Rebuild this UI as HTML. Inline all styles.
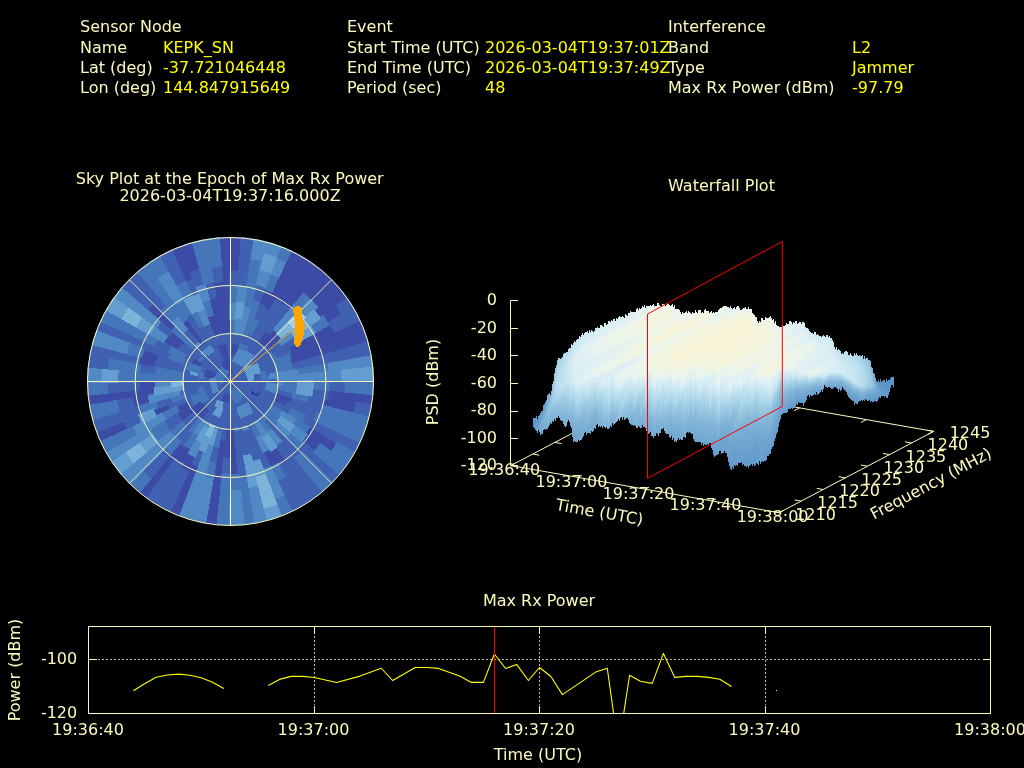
<!DOCTYPE html>
<html lang="en"><head><meta charset="utf-8"><title>Interference Event Report</title>
<style>html,body{margin:0;padding:0;background:#000;overflow:hidden}svg{display:block}text{font-family:"DejaVu Sans","Liberation Sans",sans-serif;white-space:pre}</style></head>
<body>
<svg width="1024" height="768" viewBox="0 0 1024 768">
<rect width="1024" height="768" fill="#000"/>
<text x="80" y="32" fill="#fbfbbe" text-anchor="start" font-size="16">Sensor Node</text>
<text x="80" y="52.5" fill="#fbfbbe" text-anchor="start" font-size="16">Name</text>
<text x="163" y="52.5" fill="#ffff00" text-anchor="start" font-size="16">KEPK_SN</text>
<text x="80" y="72.5" fill="#fbfbbe" text-anchor="start" font-size="16">Lat (deg)</text>
<text x="163" y="72.5" fill="#ffff00" text-anchor="start" font-size="16">-37.721046448</text>
<text x="80" y="92.5" fill="#fbfbbe" text-anchor="start" font-size="16">Lon (deg)</text>
<text x="163" y="92.5" fill="#ffff00" text-anchor="start" font-size="16">144.847915649</text>
<text x="347" y="32" fill="#fbfbbe" text-anchor="start" font-size="16">Event</text>
<text x="347" y="52.5" fill="#fbfbbe" text-anchor="start" font-size="16">Start Time (UTC)</text>
<text x="485" y="52.5" fill="#ffff00" text-anchor="start" font-size="16">2026-03-04T19:37:01Z</text>
<text x="347" y="72.5" fill="#fbfbbe" text-anchor="start" font-size="16">End Time (UTC)</text>
<text x="485" y="72.5" fill="#ffff00" text-anchor="start" font-size="16">2026-03-04T19:37:49Z</text>
<text x="347" y="92.5" fill="#fbfbbe" text-anchor="start" font-size="16">Period (sec)</text>
<text x="485" y="92.5" fill="#ffff00" text-anchor="start" font-size="16">48</text>
<text x="668" y="32" fill="#fbfbbe" text-anchor="start" font-size="16">Interference</text>
<text x="668" y="52.5" fill="#fbfbbe" text-anchor="start" font-size="16">Band</text>
<text x="852" y="52.5" fill="#ffff00" text-anchor="start" font-size="16">L2</text>
<text x="668" y="72.5" fill="#fbfbbe" text-anchor="start" font-size="16">Type</text>
<text x="852" y="72.5" fill="#ffff00" text-anchor="start" font-size="16">Jammer</text>
<text x="668" y="92.5" fill="#fbfbbe" text-anchor="start" font-size="16">Max Rx Power (dBm)</text>
<text x="852" y="92.5" fill="#ffff00" text-anchor="start" font-size="16">-97.79</text>
<text x="229.7" y="183.5" fill="#fbfbbe" text-anchor="middle" font-size="16">Sky Plot at the Epoch of Max Rx Power</text>
<text x="230" y="200.5" fill="#fbfbbe" text-anchor="middle" font-size="16">2026-03-04T19:37:16.000Z</text>
<clipPath id="disc"><ellipse cx="230.5" cy="381.5" rx="143.3" ry="144.3"/></clipPath>
<g shape-rendering="crispEdges" transform="translate(0,-0.5)" clip-path="url(#disc)">
<ellipse cx="230.5" cy="381.5" rx="143.3" ry="144.3" fill="#4060b1"/>
<path fill="#3b4ba6" d="M228.1,231.5L244.2,232.1L240.5,272.8L228.8,272.3ZM262.7,288.2L272.6,292.2L265.4,307.4L257.2,304.1ZM291.6,244.7L305.9,252.1L270.7,312.6L263.1,308.6ZM252.4,341.8L256.6,344.4L246.9,358.1L244.3,356.5ZM302.9,250.4L316.6,259.0L283.6,305.9L275.2,300.6ZM265.5,330.7L270.7,334.8L249.4,359.6L246.9,357.7ZM315.4,258.2L328.1,268.2L291.0,311.2L283.1,305.1ZM273.2,329.6L278.5,334.6L255.1,357.4L252.4,354.9ZM325.6,266.0L337.4,277.0L312.1,301.7L303.1,293.3ZM276.9,333.3L281.8,338.7L269.0,349.4L265.3,345.4ZM334.3,273.9L345.2,285.8L317.9,308.6L309.6,299.5ZM343.8,284.1L353.6,297.0L320.6,319.6L313.5,310.1ZM336.2,306.1L343.7,318.0L329.1,326.2L322.6,315.8ZM329.2,322.0L335.0,333.0L291.0,353.5L287.6,347.0ZM365.0,317.0L371.2,332.0L291.0,360.2L288.4,353.7ZM369.7,328.1L374.7,343.5L291.7,365.4L289.6,358.8ZM379.0,393.7L376.8,409.8L327.1,400.2L328.5,389.6ZM356.4,402.3L353.4,415.9L322.0,407.1L324.3,397.0ZM262.5,389.8L261.5,393.2L245.8,387.3L246.4,385.6ZM293.3,397.7L291.2,404.4L275.6,398.5L277.2,393.5ZM258.0,391.2L256.8,394.1L241.7,386.9L242.2,385.6ZM288.0,401.7L285.5,407.9L270.4,400.6L272.2,396.2ZM262.5,395.9L260.7,399.2L246.3,390.8L247.2,389.0ZM337.9,442.7L330.7,454.0L304.3,434.9L309.6,426.6ZM320.9,443.9L313.7,453.4L301.1,442.5L307.2,434.4ZM287.2,460.7L278.3,466.4L270.1,451.8L277.4,447.1ZM278.3,463.5L269.2,468.2L262.4,452.9L269.8,449.0ZM239.8,475.1L229.7,475.5L230.1,426.7L235.0,426.5ZM231.3,459.0L223.0,458.6L227.7,410.0L230.8,410.2ZM227.0,425.6L222.3,425.0L225.4,408.5L228.3,408.9ZM218.7,531.1L202.7,528.9L219.5,439.9L225.8,440.8ZM181.4,523.2L166.5,517.0L191.6,463.9L200.7,467.6ZM188.9,473.0L179.3,467.9L187.9,453.5L195.8,457.7ZM183.4,464.5L174.8,458.9L184.6,445.3L191.7,449.9ZM145.8,504.9L133.0,495.0L178.1,442.5L184.9,447.9ZM182.5,422.4L178.4,416.9L192.2,407.5L195.2,411.5ZM180.0,418.4L176.3,412.7L190.8,404.4L193.5,408.6ZM179.1,412.4L176.1,406.7L191.3,399.6L193.4,403.8ZM156.3,417.5L152.8,409.2L168.6,403.6L171.3,410.2ZM96.3,446.6L90.1,431.6L123.6,419.6L128.3,431.0ZM134.1,408.7L131.8,398.1L148.3,395.3L150.2,404.2ZM84.2,410.0L82.0,393.9L154.3,387.9L155.5,396.1ZM139.2,390.9L138.8,381.0L155.5,381.1L155.9,389.2ZM138.4,365.5L140.6,355.6L156.7,360.2L154.8,368.3ZM141.1,358.3L144.1,348.8L159.7,354.7L157.2,362.5ZM162.9,343.3L167.4,336.1L181.0,345.9L177.5,351.5ZM168.0,338.5L173.0,332.0L185.7,342.9L181.8,348.0ZM146.4,311.1L154.4,302.4L177.1,326.0L171.4,332.1ZM181.1,323.8L187.6,318.8L206.1,345.8L202.4,348.7ZM165.3,246.6L180.1,240.3L194.1,279.5L183.4,284.1ZM206.7,317.6L213.7,315.3L221.8,347.1L218.1,348.3ZM178.2,241.0L193.6,236.1L202.1,269.6L190.3,273.4ZM207.7,299.8L216.6,297.8L230.5,381.5L230.5,381.5ZM212.4,283.1L223.1,281.7L230.5,381.5L230.5,381.5ZM216.5,232.1L232.6,231.5L230.5,381.5L230.5,381.5Z"/>
<path fill="#4060b1" d="M228.8,271.5L240.6,272.0L239.0,288.7L229.0,288.3ZM241.2,231.8L257.2,233.9L247.3,288.4L237.3,287.1ZM255.6,284.6L265.9,287.9L260.0,303.6L251.4,300.8ZM247.1,333.5L252.1,335.6L245.0,350.8L241.6,349.4ZM257.5,303.3L265.7,306.7L258.6,321.9L252.0,319.2ZM263.4,307.9L271.1,311.9L246.6,354.0L243.5,352.4ZM275.6,299.8L284.1,305.2L256.1,345.1L252.0,342.5ZM283.6,304.4L291.5,310.6L270.2,335.4L265.0,331.4ZM265.9,344.8L269.6,348.9L256.7,359.6L254.2,356.9ZM277.8,340.8L281.9,346.2L255.0,364.7L253.1,362.1ZM297.4,333.8L302.1,341.4L273.6,357.3L270.8,352.8ZM352.1,294.8L360.7,308.5L343.0,318.4L335.6,306.5ZM288.3,346.6L291.7,353.1L276.5,360.1L274.0,355.3ZM358.3,304.4L365.8,318.7L334.3,333.4L328.5,322.4ZM373.8,340.3L377.4,356.1L292.5,370.8L291.0,364.1ZM345.8,380.4L345.2,392.9L328.6,391.3L329.1,380.6ZM329.3,389.6L327.9,400.3L311.5,397.2L312.7,388.3ZM293.7,392.0L292.2,398.8L245.5,385.7L245.9,384.0ZM325.0,397.1L322.8,407.3L306.7,402.8L308.6,394.4ZM377.5,405.8L374.1,421.7L352.7,415.7L355.6,402.2ZM277.9,393.7L276.3,398.8L260.7,392.9L261.8,389.6ZM324.1,405.6L321.0,415.6L290.5,404.1L292.5,397.5ZM273.0,396.4L271.2,401.0L256.1,393.8L257.2,390.9ZM318.0,412.3L314.2,421.6L284.8,407.5L287.2,401.4ZM291.5,408.9L288.2,415.4L260.0,398.8L261.7,395.5ZM366.6,442.6L359.2,457.1L301.2,423.0L305.3,415.1ZM268.8,403.3L266.2,407.3L239.8,388.2L240.4,387.2ZM255.4,398.7L253.4,401.3L240.8,390.4L241.6,389.2ZM345.8,476.5L335.0,488.5L296.9,449.5L303.8,441.9ZM302.4,451.8L294.4,459.2L263.5,421.6L267.6,417.8ZM327.9,495.0L315.2,504.9L275.0,446.3L281.7,441.1ZM317.6,503.2L304.0,512.0L278.0,465.7L286.7,460.0ZM305.9,510.9L291.6,518.4L275.4,482.1L285.9,476.6ZM271.1,467.0L261.7,470.9L245.6,424.9L250.2,423.0ZM260.3,460.0L251.7,462.8L243.4,431.1L248.7,429.4ZM251.2,455.0L243.2,456.9L237.7,424.5L242.3,423.5ZM248.4,478.6L237.9,480.0L234.2,431.4L239.6,430.7ZM230.8,411.0L227.7,410.8L229.3,394.1L230.6,394.2ZM231.5,475.0L221.5,474.5L223.1,457.8L231.3,458.2ZM228.3,409.7L225.3,409.3L228.4,392.8L229.6,392.9ZM225.7,441.6L219.3,440.7L222.4,424.2L227.1,424.8ZM221.7,432.7L216.3,431.5L225.3,399.9L227.3,400.4ZM216.4,464.3L207.6,462.3L212.2,446.1L219.2,447.7ZM200.4,468.4L191.3,464.6L198.4,449.4L205.9,452.5ZM168.4,517.9L154.2,510.4L179.7,467.2L189.2,472.2ZM156.6,511.8L143.0,503.0L175.2,458.2L183.8,463.8ZM184.5,448.5L177.6,443.1L188.5,430.4L194.0,434.7ZM181.3,442.4L175.0,436.7L209.5,402.4L211.9,404.6ZM151.2,479.6L141.1,470.4L164.3,447.4L171.7,454.2ZM186.3,427.4L181.7,422.3L206.7,401.4L209.0,403.8ZM194.6,412.1L191.5,408.0L205.4,398.6L207.4,401.2ZM170.4,432.7L165.2,425.9L179.0,416.5L183.1,421.9ZM192.8,409.0L190.1,404.8L204.6,396.4L206.3,399.2ZM167.1,427.9L162.5,420.7L177.0,412.3L180.6,418.0ZM192.8,404.2L190.5,400.0L205.7,393.0L207.1,395.6ZM170.6,410.6L167.8,403.9L198.5,392.9L199.9,396.3ZM127.6,431.4L122.9,419.9L138.6,414.3L142.7,424.1ZM187.4,398.1L185.8,393.3L202.0,389.0L203.0,392.1ZM157.7,409.5L155.1,401.5L171.2,397.2L173.3,403.5ZM91.3,435.1L86.4,419.6L140.5,405.3L143.6,415.0ZM180.0,395.7L178.8,390.2L195.3,387.4L196.1,391.2ZM118.8,413.0L116.1,400.7L132.6,397.9L134.9,408.5ZM107.6,394.2L107.0,380.8L139.6,381.0L140.0,390.9ZM212.6,381.8L212.7,379.8L230.5,381.5L230.5,381.5ZM218.4,380.6L218.6,379.2L230.5,381.5L230.5,381.5ZM139.2,374.4L140.5,364.5L156.9,367.6L155.8,375.7ZM81.9,370.0L84.0,353.9L110.0,358.8L108.3,372.0ZM216.7,379.1L217.0,377.6L230.5,381.5L230.5,381.5ZM154.0,368.2L155.9,360.0L187.2,369.0L186.1,373.8ZM83.7,356.0L87.3,340.1L141.4,355.8L139.2,365.6ZM202.6,374.3L203.6,371.3L230.5,381.5L230.5,381.5ZM156.5,362.3L159.0,354.4L189.4,365.9L188.0,370.5ZM182.8,364.7L184.9,359.6L230.5,381.5L230.5,381.5ZM89.9,331.8L96.0,316.8L171.3,353.0L168.6,359.6ZM182.7,359.7L185.3,354.6L230.5,381.5L230.5,381.5ZM153.8,346.5L158.0,338.3L172.4,346.9L169.0,353.4ZM176.8,351.1L180.3,345.4L230.5,381.5L230.5,381.5ZM181.1,347.5L185.1,342.4L230.5,381.5L230.5,381.5ZM154.9,329.5L160.9,321.6L173.6,332.5L168.7,339.0ZM207.5,362.3L209.7,359.9L230.5,381.5L230.5,381.5ZM115.9,285.6L126.8,273.7L155.0,303.0L147.0,311.7ZM182.7,334.3L188.0,329.4L198.6,342.4L194.6,346.1ZM124.0,276.5L135.9,265.6L168.4,305.3L160.5,312.5ZM185.1,318.2L192.2,313.6L208.3,342.2L204.2,344.8ZM199.4,328.0L205.4,324.9L230.5,381.5L230.5,381.5ZM155.3,252.0L169.6,244.5L186.2,281.9L175.8,287.3ZM203.9,326.5L210.0,323.9L230.5,381.5L230.5,381.5ZM183.1,283.4L193.9,278.8L199.5,294.6L190.4,298.5ZM217.9,347.5L221.6,346.3L230.5,381.5L230.5,381.5ZM190.0,272.6L201.9,268.8L206.0,285.1L195.8,288.4ZM203.4,284.4L214.0,282.0L216.8,298.6L207.9,300.6ZM209.5,267.4L221.9,265.8L223.2,282.5L212.6,283.9Z"/>
<path fill="#4676ba" d="M229.5,319.5L236.2,319.8L230.5,381.5L230.5,381.5ZM229.0,287.5L239.1,287.9L237.6,304.6L229.3,304.3ZM233.9,334.2L238.9,334.8L230.5,381.5L230.5,381.5ZM232.5,369.2L233.8,369.5L230.5,381.5L230.5,381.5ZM237.7,337.6L242.3,338.6L237.9,354.8L235.0,354.2ZM250.5,258.7L263.6,261.6L250.6,308.6L242.7,306.8ZM235.6,362.0L237.6,362.6L230.5,381.5L230.5,381.5ZM251.6,300.0L260.2,302.8L243.0,348.4L239.4,347.3ZM236.6,363.7L238.5,364.5L230.5,381.5L230.5,381.5ZM252.3,318.4L258.9,321.1L251.8,336.3L246.8,334.3ZM268.0,273.1L279.4,277.8L272.2,293.0L262.5,288.9ZM279.4,239.8L294.4,245.9L285.8,264.0L272.9,258.7ZM237.3,366.2L238.9,367.1L230.5,381.5L230.5,381.5ZM237.0,369.8L238.2,370.5L230.5,381.5L230.5,381.5ZM238.3,370.1L239.5,371.1L230.5,381.5L230.5,381.5ZM252.9,354.3L255.7,356.9L230.5,381.5L230.5,381.5ZM303.6,292.7L312.7,301.1L300.7,312.8L293.0,305.6ZM254.8,356.3L257.4,359.1L230.5,381.5L230.5,381.5ZM241.6,372.0L242.5,373.2L230.5,381.5L230.5,381.5ZM245.5,370.8L246.6,372.5L230.5,381.5L230.5,381.5ZM271.4,352.3L274.3,356.9L259.7,365.1L257.8,362.0ZM323.3,315.3L329.8,325.8L315.3,334.0L309.7,325.0ZM274.7,354.9L277.3,359.8L262.1,366.8L260.3,363.5ZM289.1,353.4L291.8,359.9L261.0,370.8L259.7,367.5ZM290.3,358.6L292.4,365.2L276.3,369.4L274.7,364.5ZM291.8,363.9L293.3,370.7L276.9,373.5L275.7,368.5ZM328.5,363.5L329.9,374.3L297.4,376.7L296.5,369.4ZM266.4,381.2L266.2,385.1L230.5,381.5L230.5,381.5ZM298.1,380.9L297.8,388.2L281.2,386.6L281.4,381.0ZM329.9,380.6L329.4,391.4L312.8,389.7L313.2,380.7ZM379.5,380.1L378.8,396.3L344.4,392.9L345.0,380.4ZM297.7,387.0L296.7,394.3L230.5,381.5L230.5,381.5ZM246.6,384.2L246.3,385.9L230.5,381.5L230.5,381.5ZM309.4,394.5L307.5,403.0L291.4,398.5L292.9,391.8ZM247.1,385.8L246.6,387.6L230.5,381.5L230.5,381.5ZM374.9,418.7L370.0,434.2L320.2,415.4L323.3,405.4ZM243.0,385.9L242.5,387.2L230.5,381.5L230.5,381.5ZM371.2,431.0L365.0,446.0L313.5,421.3L317.3,412.0ZM247.9,389.3L247.0,391.2L230.5,381.5L230.5,381.5ZM306.0,415.4L301.9,423.4L287.5,415.0L290.7,408.6ZM241.1,387.6L240.4,388.7L230.5,381.5L230.5,381.5ZM282.6,411.2L279.1,416.7L265.6,406.9L268.1,402.9ZM310.3,426.9L304.9,435.4L291.4,425.6L295.7,418.7ZM360.2,455.4L351.5,469.1L330.1,453.6L337.2,442.3ZM242.3,389.6L241.4,390.9L230.5,381.5L230.5,381.5ZM281.6,416.8L277.5,422.1L252.8,400.8L254.8,398.2ZM353.4,466.3L343.6,479.2L313.1,452.9L320.3,443.5ZM279.8,422.1L275.2,427.2L230.5,381.5L230.5,381.5ZM304.4,442.4L297.4,450.0L285.7,438.1L291.5,431.7ZM268.2,418.4L264.0,422.2L230.5,381.5L230.5,381.5ZM337.4,486.0L325.6,497.0L293.9,458.6L301.8,451.2ZM271.8,429.6L266.4,433.8L230.5,381.5L230.5,381.5ZM259.3,421.7L254.8,424.6L230.5,381.5L230.5,381.5ZM246.1,408.3L243.2,409.9L230.5,381.5L230.5,381.5ZM262.2,435.9L256.2,439.1L249.3,423.7L253.8,421.4ZM286.3,477.3L275.7,482.8L268.9,467.5L277.9,462.8ZM243.7,409.3L240.6,410.5L230.5,381.5L230.5,381.5ZM294.8,516.9L279.9,523.1L272.0,500.4L284.5,495.2ZM243.3,415.2L239.6,416.4L230.5,381.5L230.5,381.5ZM242.5,424.2L237.9,425.3L230.5,381.5L230.5,381.5ZM239.7,431.5L234.3,432.2L230.5,381.5L230.5,381.5ZM257.7,529.0L241.7,531.1L237.8,479.2L248.2,477.9ZM235.1,427.3L230.1,427.5L230.5,381.5L230.5,381.5ZM241.4,491.0L229.6,491.5L229.7,474.7L239.8,474.3ZM230.6,395.0L229.2,394.9L230.5,381.5L230.5,381.5ZM232.1,531.5L216.0,530.8L221.6,473.7L231.5,474.2ZM229.5,393.7L228.2,393.5L230.5,381.5L230.5,381.5ZM227.1,401.2L225.0,400.7L230.5,381.5L230.5,381.5ZM219.0,448.5L211.9,446.9L216.5,430.7L221.9,431.9ZM213.7,480.0L203.2,477.6L207.8,461.5L216.5,463.5ZM217.7,430.4L212.5,428.7L230.5,381.5L230.5,381.5ZM226.6,392.9L225.4,392.4L230.5,381.5L230.5,381.5ZM222.0,400.3L220.0,399.2L230.5,381.5L230.5,381.5ZM222.8,395.0L221.4,394.1L230.5,381.5L230.5,381.5ZM191.3,450.6L184.1,445.9L193.9,432.3L199.6,436.0ZM193.5,435.4L188.0,431.0L230.5,381.5L230.5,381.5ZM211.4,405.2L208.9,403.0L230.5,381.5L230.5,381.5ZM171.2,454.8L163.7,447.9L175.6,436.1L181.8,441.8ZM136.4,497.9L124.5,486.9L141.7,469.9L151.7,479.0ZM208.5,404.4L206.1,401.9L230.5,381.5L230.5,381.5ZM175.3,438.9L169.4,432.5L182.3,421.8L186.9,426.8ZM206.7,401.7L204.7,399.0L230.5,381.5L230.5,381.5ZM158.2,443.1L152.0,434.9L165.9,425.4L171.0,432.2ZM205.7,399.6L203.9,396.8L230.5,381.5L230.5,381.5ZM154.3,437.3L148.7,428.6L163.2,420.3L167.8,427.4ZM206.4,396.0L205.0,393.3L230.5,381.5L230.5,381.5ZM165.5,420.6L161.7,413.3L176.8,406.3L179.8,412.0ZM102.6,458.5L95.1,444.1L133.5,426.3L138.9,436.6ZM199.2,396.7L197.8,393.2L230.5,381.5L230.5,381.5ZM202.2,392.4L201.2,389.3L230.5,381.5L230.5,381.5ZM172.5,403.8L170.5,397.4L186.6,393.1L188.1,397.8ZM142.8,415.2L139.7,405.5L155.9,401.2L158.4,409.2ZM195.3,391.4L194.5,387.5L230.5,381.5L230.5,381.5ZM87.0,422.0L83.5,406.2L116.9,400.6L119.6,412.8ZM185.9,390.2L185.2,385.3L230.5,381.5L230.5,381.5ZM186.7,386.0L186.4,381.2L230.5,381.5L230.5,381.5ZM82.3,396.8L81.5,380.6L107.8,380.8L108.4,394.1ZM117.3,383.3L117.8,370.9L213.5,379.9L213.4,381.8ZM202.5,379.3L202.9,376.3L219.3,379.4L219.2,380.6ZM155.0,375.7L156.1,367.5L188.1,373.5L187.5,378.2ZM107.5,372.0L109.2,358.7L141.2,364.7L140.0,374.5ZM201.0,376.4L201.7,373.2L217.8,377.8L217.5,379.2ZM187.2,370.3L188.7,365.7L204.3,371.6L203.4,374.5ZM125.7,354.4L129.2,343.1L144.8,349.0L141.9,358.5ZM167.8,359.4L170.6,352.7L185.6,359.9L183.6,364.9ZM168.3,353.1L171.7,346.5L186.0,355.0L183.5,360.0ZM94.8,319.6L102.2,305.2L158.7,338.8L154.5,346.8ZM170.8,331.6L176.5,325.4L210.2,360.4L208.1,362.8ZM216.7,367.9L218.3,366.5L230.5,381.5L230.5,381.5ZM160.0,312.0L167.8,304.7L178.4,317.7L171.9,323.7ZM222.6,372.3L223.6,371.5L230.5,381.5L230.5,381.5ZM133.1,267.9L145.9,258.0L188.0,319.5L181.6,324.5ZM222.3,370.1L223.6,369.3L230.5,381.5L230.5,381.5ZM203.7,344.2L207.9,341.5L216.1,356.1L213.5,357.8ZM175.8,305.2L184.3,299.7L192.6,314.3L185.6,318.9ZM143.3,259.9L156.8,251.1L169.0,272.6L157.7,279.9ZM191.4,314.2L198.9,310.3L205.7,325.7L199.9,328.7ZM175.4,286.6L185.9,281.1L192.7,296.5L183.8,301.1ZM201.1,302.6L209.8,299.8L213.9,316.1L207.0,318.3ZM190.2,237.0L206.0,233.5L214.1,282.8L203.7,285.2ZM203.4,234.0L219.4,231.9L222.0,266.6L209.7,268.2Z"/>
<path fill="#5189c4" d="M229.3,303.5L237.6,303.8L236.1,320.6L229.5,320.3ZM235.0,318.2L241.8,319.1L238.8,335.6L233.8,335.0ZM237.3,286.3L247.5,287.6L244.5,304.1L236.1,303.0ZM235.1,353.4L238.1,354.1L233.6,370.3L232.4,370.0ZM242.8,306.0L250.8,307.8L242.1,339.4L237.5,338.4ZM254.6,233.4L270.4,236.9L263.4,262.3L250.4,259.5ZM239.6,346.5L243.3,347.7L237.3,363.4L235.4,362.7ZM259.7,269.1L271.5,272.9L265.6,288.6L255.4,285.3ZM268.2,236.3L283.5,241.3L276.9,258.7L263.5,254.4ZM241.9,348.6L245.3,350.1L238.2,365.2L236.4,364.5ZM273.2,258.0L286.2,263.3L279.0,278.5L267.7,273.8ZM243.8,351.6L247.0,353.3L238.5,367.8L237.0,367.0ZM244.7,355.8L247.4,357.5L237.7,371.2L236.6,370.5ZM247.4,357.0L249.9,359.0L239.0,371.7L237.9,370.8ZM293.5,305.0L301.3,312.3L277.9,335.1L272.7,330.2ZM310.1,298.9L318.5,308.0L305.7,318.8L298.5,311.0ZM253.7,361.6L255.7,364.2L241.9,373.7L241.0,372.5ZM289.9,330.4L295.0,337.2L281.3,346.6L277.2,341.3ZM258.5,361.6L260.4,364.7L245.9,372.9L244.8,371.3ZM247.4,371.3L248.4,373.2L230.5,381.5L230.5,381.5ZM246.1,374.0L246.8,375.8L230.5,381.5L230.5,381.5ZM245.8,375.6L246.3,377.3L230.5,381.5L230.5,381.5ZM275.5,364.2L277.1,369.2L260.9,373.5L259.9,370.2ZM245.9,377.1L246.3,378.8L230.5,381.5L230.5,381.5ZM276.5,368.3L277.6,373.4L261.2,376.2L260.4,372.9ZM250.4,377.9L250.6,380.0L230.5,381.5L230.5,381.5ZM297.3,369.3L298.2,376.6L265.7,379.0L265.2,375.1ZM377.1,354.7L379.1,370.8L329.1,374.4L327.7,363.7ZM247.1,379.8L247.2,381.6L230.5,381.5L230.5,381.5ZM342.0,370.2L342.5,382.4L262.3,381.7L262.1,378.3ZM282.2,381.0L282.0,386.6L265.4,385.0L265.6,381.2ZM296.4,419.1L292.0,426.0L278.5,416.2L281.9,410.8ZM307.8,434.9L301.7,443.0L289.0,432.0L294.1,425.4ZM292.1,432.2L286.3,438.6L274.6,426.7L279.2,421.6ZM282.2,441.7L275.4,447.0L266.0,433.2L271.3,429.0ZM268.6,434.7L262.7,438.6L254.4,423.9L258.8,421.1ZM254.2,422.1L249.7,424.5L242.8,409.1L245.7,407.6ZM270.3,449.7L262.7,453.6L255.9,438.3L261.8,435.2ZM284.8,495.9L272.2,501.1L261.4,470.2L270.8,466.3ZM249.0,430.1L243.6,431.9L239.4,415.6L243.0,414.4ZM271.1,525.9L255.4,529.4L248.4,487.6L259.6,485.0ZM245.4,530.8L229.3,531.5L229.6,490.7L241.3,490.2ZM205.2,529.4L189.5,525.8L203.4,476.9L213.8,479.2ZM192.5,526.6L177.2,521.6L207.1,442.9L213.9,445.1ZM208.7,429.3L203.7,426.7L220.4,398.5L222.3,399.5ZM195.5,458.4L187.4,454.2L196.0,439.7L202.4,443.2ZM199.2,436.7L193.4,433.0L221.9,393.5L223.2,394.3ZM126.8,489.2L115.8,477.3L170.1,432.0L175.8,438.3ZM109.9,469.7L101.2,456.0L149.4,428.2L154.9,436.8ZM138.2,437.0L132.8,426.7L162.4,413.0L166.2,420.2ZM149.4,404.4L147.5,395.4L179.6,390.0L180.8,395.5ZM155.1,389.3L154.7,381.1L171.3,381.2L171.7,387.6ZM81.5,383.8L82.1,367.6L102.8,369.5L102.2,383.5ZM186.7,378.1L187.3,373.4L203.7,376.5L203.3,379.4ZM86.2,344.1L91.0,328.7L130.0,343.4L126.5,354.6ZM149.1,335.4L154.5,326.8L168.1,336.6L163.6,343.7ZM107.5,296.9L117.3,284.0L161.5,322.1L155.6,329.9ZM194.0,345.5L198.1,341.8L218.8,367.1L217.3,368.5ZM171.3,323.1L177.9,317.1L188.5,330.0L183.2,334.9ZM212.2,360.2L214.6,358.3L224.1,372.2L223.1,372.9ZM213.0,357.1L215.7,355.4L224.0,370.0L222.8,370.7ZM157.2,279.3L168.6,271.9L184.7,300.4L176.3,305.9ZM197.0,312.1L204.6,308.9L210.2,324.7L204.3,327.2ZM195.5,287.6L205.8,284.3L210.0,300.6L201.4,303.3Z"/>
<path fill="#649dcf" d="M236.2,302.2L244.6,303.3L241.7,319.9L235.0,319.0ZM263.7,253.6L277.2,258.0L271.3,273.7L259.5,269.9ZM314.1,309.6L321.3,319.1L307.5,328.6L301.4,320.5ZM310.3,324.6L316.0,333.6L301.4,341.7L296.7,334.3ZM261.0,363.1L262.8,366.5L247.7,373.5L246.7,371.7ZM260.4,367.2L261.8,370.5L246.0,376.0L245.3,374.4ZM260.6,369.9L261.7,373.3L245.5,377.5L245.0,375.9ZM261.2,372.7L262.0,376.1L245.5,378.9L245.2,377.3ZM266.0,375.0L266.5,378.9L249.9,380.1L249.6,378.0ZM262.9,378.2L263.1,381.8L246.4,381.6L246.3,379.9ZM378.7,366.4L379.5,382.7L341.7,382.4L341.2,370.3ZM314.0,380.7L313.6,389.8L297.0,388.1L297.3,380.9ZM313.5,388.3L312.3,397.3L295.9,394.2L296.9,387.0ZM294.7,425.8L289.6,432.6L276.9,421.6L281.0,416.3ZM277.9,447.7L270.5,452.5L262.3,437.9L268.1,434.1ZM250.5,423.7L245.9,425.6L240.4,409.8L243.3,408.5ZM266.0,475.0L255.7,478.3L251.5,462.0L260.0,459.3ZM283.7,521.7L268.4,526.6L263.6,508.5L277.0,504.1ZM259.8,485.8L248.5,488.4L243.0,456.1L251.0,454.3ZM213.7,445.8L206.9,443.6L212.8,427.9L217.9,429.6ZM216.1,423.1L211.7,421.3L225.7,391.6L226.8,392.1ZM205.6,453.3L198.1,450.2L205.2,435.0L211.1,437.4ZM202.1,443.9L195.6,440.4L204.1,426.0L209.1,428.6ZM146.1,453.4L138.9,443.8L152.7,434.4L158.8,442.6ZM116.7,478.4L107.0,465.5L126.4,452.3L134.6,463.2ZM141.9,424.4L137.9,414.6L153.6,408.9L157.0,417.1ZM154.7,396.3L153.5,387.9L186.0,385.2L186.7,390.0ZM101.4,383.5L102.0,369.4L118.6,371.0L118.1,383.2ZM185.4,373.6L186.5,368.8L202.5,373.4L201.8,376.5ZM135.2,327.6L141.5,317.5L155.1,327.3L149.8,335.8ZM100.6,308.0L109.2,294.3L129.3,308.7L122.1,320.1ZM201.8,348.1L205.6,345.2L215.1,359.0L212.8,360.8ZM183.4,300.4L192.4,295.7L199.2,311.1L191.8,314.9ZM190.0,297.7L199.2,293.8L204.9,309.6L197.3,312.9Z"/>
<path fill="#7db4da" d="M288.0,321.9L294.1,328.5L281.2,339.2L276.4,333.9ZM302.0,320.0L308.2,328.1L294.4,337.6L289.3,330.9ZM277.3,504.9L263.8,509.2L255.5,477.5L265.7,474.2ZM210.9,438.2L204.9,435.7L212.1,420.5L216.4,422.3ZM134.0,463.7L125.7,452.8L139.5,443.4L146.7,452.9ZM170.9,387.7L170.5,381.1L187.2,381.2L187.5,386.0ZM121.4,319.8L128.6,308.2L142.2,318.0L135.9,328.0Z"/>
<path fill="#a3cfe8" d="M299.1,310.4L306.3,318.3L293.4,329.0L287.4,322.4Z"/>
<clipPath id="inner"><ellipse cx="230.5" cy="381.5" rx="46.7" ry="47.0"/></clipPath>
<g clip-path="url(#inner)"><rect x="180" y="330" width="100" height="100" fill="#4060b1"/>
<rect x="221.4" y="345.0" width="8.4" height="30.9" fill="#3b4ba6" transform="rotate(-13 225.6 360.5)"/>
<rect x="213.9" y="347.8" width="7.5" height="15.9" fill="#4060b1" transform="rotate(-27 217.6 355.8)"/>
<rect x="200.7" y="348.7" width="13.1" height="7.5" fill="#5189c4" transform="rotate(-39 207.3 352.5)"/>
<rect x="191.4" y="360.9" width="9.4" height="8.4" fill="#3b4ba6" transform="rotate(-65 196.1 365.2)"/>
<rect x="191.4" y="368.4" width="6.6" height="8.4" fill="#649dcf" transform="rotate(-76 194.7 372.7)"/>
<rect x="198.9" y="373.1" width="6.6" height="6.6" fill="#4676ba" transform="rotate(-80 202.2 376.4)"/>
<rect x="206.4" y="369.4" width="7.5" height="11.2" fill="#3b4ba6" transform="rotate(-72 210.1 375.0)"/>
<rect x="213.9" y="371.2" width="15.0" height="9.4" fill="#4676ba" transform="rotate(-59 221.4 375.9)"/>
<rect x="231.7" y="345.0" width="6.6" height="11.2" fill="#3b4ba6" transform="rotate(8 235.0 350.6)"/>
<rect x="234.5" y="350.6" width="16.9" height="15.9" fill="#5189c4" transform="rotate(28 242.9 358.6)"/>
<rect x="245.7" y="365.6" width="15.0" height="15.0" fill="#649dcf" transform="rotate(70 253.2 373.1)"/>
<rect x="253.2" y="356.2" width="22.5" height="9.4" fill="#4060b1" transform="rotate(59 264.5 360.9)"/>
<rect x="260.7" y="371.2" width="9.4" height="9.4" fill="#4676ba" transform="rotate(81 265.4 375.9)"/>
<rect x="231.7" y="382.5" width="15.9" height="5.6" fill="#4060b1" transform="rotate(113 239.7 385.3)"/>
<rect x="251.4" y="387.2" width="9.4" height="8.4" fill="#35409e" transform="rotate(111 256.1 391.4)"/>
<rect x="266.4" y="382.5" width="9.4" height="11.2" fill="#5189c4" transform="rotate(99 271.1 388.1)"/>
<rect x="231.7" y="388.1" width="10.3" height="15.0" fill="#4676ba" transform="rotate(156 236.8 395.6)"/>
<rect x="242.0" y="395.6" width="11.2" height="9.4" fill="#4060b1" transform="rotate(138 247.6 400.3)"/>
<rect x="213.9" y="401.2" width="9.4" height="15.7" fill="#649dcf" transform="rotate(-157 218.6 409.1)"/>
<rect x="237.3" y="405.0" width="14.1" height="12.0" fill="#5189c4" transform="rotate(155 244.3 411.0)"/>
<rect x="223.2" y="393.7" width="6.6" height="9.4" fill="#3b4ba6" transform="rotate(-167 226.5 398.4)"/>
<rect x="206.4" y="382.5" width="15.0" height="6.6" fill="#5189c4" transform="rotate(-104 213.9 385.8)"/>
<rect x="191.4" y="389.1" width="15.0" height="15.9" fill="#4676ba" transform="rotate(-116 198.9 397.0)"/>
<rect x="183.9" y="382.5" width="9.4" height="18.7" fill="#4060b1" transform="rotate(-104 188.6 391.9)"/>
<rect x="207.3" y="405.0" width="6.6" height="12.0" fill="#4060b1" transform="rotate(-146 210.6 411.0)"/>
<rect x="183.9" y="352.5" width="7.5" height="28.1" fill="#4676ba" transform="rotate(-71 187.6 366.6)"/>
<rect x="238.2" y="345.0" width="9.4" height="5.6" fill="#4676ba" transform="rotate(20 242.9 347.8)"/>
<rect x="260.7" y="365.6" width="15.0" height="6.6" fill="#4060b1" transform="rotate(72 268.2 368.9)"/>
<rect x="270.1" y="372.2" width="6.6" height="8.4" fill="#5189c4" transform="rotate(83 273.4 376.4)"/>
<rect x="247.6" y="380.6" width="18.7" height="6.6" fill="#4060b1" transform="rotate(95 257.0 383.9)"/>
<rect x="260.7" y="393.7" width="15.0" height="11.2" fill="#4060b1" transform="rotate(115 268.2 399.4)"/>
<rect x="223.2" y="403.1" width="14.1" height="13.9" fill="#4060b1" transform="rotate(-180 230.3 410.1)"/>
<rect x="193.2" y="405.0" width="14.1" height="12.0" fill="#3b4ba6" transform="rotate(-134 200.3 411.0)"/>
<rect x="205.4" y="356.2" width="8.4" height="13.1" fill="#4060b1" transform="rotate(-48 209.7 362.8)"/>
<rect x="197.9" y="357.2" width="7.5" height="3.7" fill="#4676ba" transform="rotate(-52 201.7 359.1)"/>
</g>
</g>
<g fill="none" stroke="#fbfbbe" stroke-width="1">
<ellipse cx="230.5" cy="381.5" rx="47.67" ry="48.00"/>
<ellipse cx="230.5" cy="381.5" rx="95.33" ry="96.00"/>
<ellipse cx="230.5" cy="381.5" rx="143.00" ry="144.00"/>
<path d="M87.5,381.5H373.5M230.5,237.5V525.5" shape-rendering="crispEdges" stroke-width="1"/>
<path stroke-opacity="0.85" d="M129.4,279.7L331.6,483.3M129.4,483.3L331.6,279.7"/>
</g>
<line x1="230.5" y1="381.5" x2="295" y2="328.6" stroke="#ffa500" stroke-width="1" stroke-opacity="0.9"/>
<g fill="#ffa500" shape-rendering="crispEdges">
<circle cx="297.8" cy="310.6" r="4.6"/>
<circle cx="297.9" cy="313.5" r="4.4"/>
<circle cx="298.3" cy="317" r="4.3"/>
<circle cx="298.9" cy="320.5" r="4.5"/>
<circle cx="299.5" cy="324" r="4.8"/>
<circle cx="299.8" cy="327.5" r="5.0"/>
<circle cx="299.7" cy="331" r="4.9"/>
<circle cx="299.3" cy="334.5" r="4.6"/>
<circle cx="298.6" cy="337.5" r="4.2"/>
<circle cx="298.0" cy="340" r="3.9"/>
<circle cx="297.6" cy="342.3" r="3.6"/>
<circle cx="297.5" cy="343.8" r="3.0"/>
</g>
<text x="721.5" y="190.5" fill="#fbfbbe" text-anchor="middle" font-size="16">Waterfall Plot</text>
<g fill="none" stroke="#fbfbbe" stroke-width="1">
<path d="M510.8,465.6L665.3,384.3L933.6,431.4"/>
<path d="M510.8,465.6l6.5,1.2"/>
<path d="M532.9,454.0l6.5,1.2"/>
<path d="M554.9,442.4l6.5,1.2"/>
<path d="M577.0,430.8l6.5,1.2"/>
<path d="M599.1,419.1l6.5,1.2"/>
<path d="M621.2,407.5l6.5,1.2"/>
<path d="M643.2,395.9l6.5,1.2"/>
<path d="M665.3,384.3l6.5,1.2"/>
<path d="M665.3,384.3l-5.5,2.9"/>
<path d="M732.4,396.1l-5.5,2.9"/>
<path d="M799.5,407.9l-5.5,2.9"/>
<path d="M866.5,419.6l-5.5,2.9"/>
<path d="M933.6,431.4l-5.5,2.9"/>
</g>
<g shape-rendering="crispEdges">
<path fill="#5d94c9" d="M533,418v8h1v-8zM534,418v6h1v-6zM535,418v5h1v-5zM536,416v4h1v-4zM537,419v3h1v-3zM538,416v2h1v-2zM539,415v1h1v-1zM879,382v3h1v-3zM880,379v5h1v-5zM881,382v6h1v-6zM882,381v6h1v-6zM883,380v7h1v-7zM884,380v7h1v-7zM885,382v7h1v-7zM885,391v3h1v-3zM886,379v8h1v-8zM887,381v12h1v-12zM888,380v12h1v-12zM889,380v12h1v-12zM890,378v10h1v-10zM891,377v8h1v-8zM892,377v8h1v-8zM893,377v10h1v-10z"/>
<path fill="#6399cb" d="M533,426v1h1v-1zM534,424v4h1v-4zM535,423v4h1v-4zM536,420v4h1v-4zM537,422v4h1v-4zM538,418v4h1v-4zM539,416v3h1v-3zM540,413v3h1v-3zM541,411v2h1v-2zM542,411v1h1v-1zM728,461v1h1v-1zM729,460v6h1v-6zM730,460v9h1v-9zM731,462v8h1v-8zM732,457v10h1v-10zM733,459v10h1v-10zM734,457v8h1v-8zM735,464v2h1v-2zM736,462v3h1v-3zM737,463v3h1v-3zM738,460v3h1v-3zM742,463v2h1v-2zM743,459v5h1v-5zM744,460v6h1v-6zM745,462v4h1v-4zM746,458v9h1v-9zM747,459v7h1v-7zM748,459v9h1v-9zM749,459v7h1v-7zM750,458v7h1v-7zM751,457v7h1v-7zM752,458v8h1v-8zM753,455v9h1v-9zM754,456v10h1v-10zM755,454v11h1v-11zM756,458v5h1v-5zM757,462v2h1v-2zM758,461v4h1v-4zM760,462v2h1v-2zM761,460v2h1v-2zM762,460v1h1v-1zM763,458v4h1v-4zM764,456v5h1v-5zM765,457v4h1v-4zM766,457v3h1v-3zM767,451v5h1v-5zM768,454v2h1v-2zM769,452v2h1v-2zM770,451v3h1v-3zM772,446v1h1v-1zM773,441v5h1v-5zM774,437v4h1v-4zM777,430v2h1v-2zM778,426v1h1v-1zM793,407v1h1v-1zM794,406v2h1v-2zM795,405v1h1v-1zM797,404v1h1v-1zM803,402v4h1v-4zM804,401v2h1v-2zM805,400v2h1v-2zM806,399v1h1v-1zM848,395v2h1v-2zM849,396v2h1v-2zM850,398v1h1v-1zM851,397v3h1v-3zM852,398v3h1v-3zM853,398v3h1v-3zM854,399v6h1v-6zM855,399v4h1v-4zM856,399v5h1v-5zM857,401v3h1v-3zM867,400v1h1v-1zM868,400v1h1v-1zM869,399v1h1v-1zM870,400v2h1v-2zM871,399v2h1v-2zM872,398v4h1v-4zM873,398v4h1v-4zM874,399v2h1v-2zM875,398v3h1v-3zM876,398v4h1v-4zM877,382v1h1v-1zM877,398v3h1v-3zM878,380v3h1v-3zM878,398v1h1v-1zM879,385v3h1v-3zM880,384v4h1v-4zM880,397v1h1v-1zM881,388v3h1v-3zM881,393v3h1v-3zM882,387v4h1v-4zM882,392v4h1v-4zM883,387v3h1v-3zM883,393v3h1v-3zM884,387v3h1v-3zM884,391v6h1v-6zM885,389v2h1v-2zM885,394v2h1v-2zM886,387v11h1v-11zM887,393v5h1v-5zM888,392v3h1v-3z"/>
<path fill="#699fce" d="M535,427v3h1v-3zM536,424v4h1v-4zM537,426v3h1v-3zM538,422v4h1v-4zM539,419v4h1v-4zM540,416v4h1v-4zM541,413v4h1v-4zM542,412v4h1v-4zM543,405v4h1v-4zM544,404v2h1v-2zM545,402v1h1v-1zM712,449v1h1v-1zM713,448v7h1v-7zM714,450v7h1v-7zM715,450v6h1v-6zM716,452v3h1v-3zM717,452v3h1v-3zM718,452v2h1v-2zM720,448v3h1v-3zM721,446v8h1v-8zM722,445v8h1v-8zM724,446v5h1v-5zM725,449v4h1v-4zM727,454v3h1v-3zM728,454v7h1v-7zM729,452v8h1v-8zM730,453v7h1v-7zM731,453v9h1v-9zM732,449v8h1v-8zM733,450v9h1v-9zM734,448v9h1v-9zM735,451v13h1v-13zM736,449v13h1v-13zM737,452v11h1v-11zM738,450v10h1v-10zM739,454v9h1v-9zM740,453v10h1v-10zM741,453v9h1v-9zM742,453v10h1v-10zM743,448v11h1v-11zM744,452v8h1v-8zM745,452v10h1v-10zM746,448v10h1v-10zM747,448v11h1v-11zM748,449v10h1v-10zM749,451v8h1v-8zM750,451v7h1v-7zM751,450v7h1v-7zM752,450v8h1v-8zM753,447v8h1v-8zM754,446v10h1v-10zM755,444v10h1v-10zM756,444v14h1v-14zM757,446v16h1v-16zM758,447v14h1v-14zM759,451v10h1v-10zM760,453v9h1v-9zM761,452v8h1v-8zM762,451v9h1v-9zM763,449v9h1v-9zM764,447v9h1v-9zM765,448v9h1v-9zM766,447v10h1v-10zM767,443v8h1v-8zM768,444v10h1v-10zM769,443v9h1v-9zM770,441v10h1v-10zM771,443v6h1v-6zM772,438v8h1v-8zM773,433v8h1v-8zM774,429v8h1v-8zM775,431v7h1v-7zM776,428v6h1v-6zM777,423v7h1v-7zM778,420v6h1v-6zM779,416v6h1v-6zM780,413v6h1v-6zM781,414v1h1v-1zM784,411v2h1v-2zM785,410v3h1v-3zM786,408v5h1v-5zM787,409v3h1v-3zM788,407v2h1v-2zM789,406v3h1v-3zM790,404v5h1v-5zM791,403v5h1v-5zM792,405v4h1v-4zM793,403v4h1v-4zM794,402v4h1v-4zM795,401v4h1v-4zM796,400v4h1v-4zM797,400v4h1v-4zM798,400v2h1v-2zM799,400v3h1v-3zM800,400v3h1v-3zM801,399v4h1v-4zM802,400v3h1v-3zM803,399v3h1v-3zM804,398v3h1v-3zM805,397v3h1v-3zM806,396v3h1v-3zM809,396v1h1v-1zM811,395v1h1v-1zM812,393v3h1v-3zM813,394v1h1v-1zM814,393v1h1v-1zM815,393v2h1v-2zM817,392v3h1v-3zM818,393v1h1v-1zM831,388v1h1v-1zM838,389v3h1v-3zM840,389v2h1v-2zM841,388v2h1v-2zM847,393v2h1v-2zM848,393v2h1v-2zM849,393v3h1v-3zM850,395v3h1v-3zM851,395v2h1v-2zM852,396v2h1v-2zM853,396v2h1v-2zM854,397v2h1v-2zM855,396v3h1v-3zM856,397v2h1v-2zM857,398v3h1v-3zM858,400v2h1v-2zM859,400v1h1v-1zM862,400v1h1v-1zM864,399v2h1v-2zM865,398v1h1v-1zM866,398v2h1v-2zM867,397v3h1v-3zM868,397v3h1v-3zM869,397v2h1v-2zM870,397v3h1v-3zM871,397v2h1v-2zM872,396v2h1v-2zM873,395v3h1v-3zM874,396v3h1v-3zM875,396v2h1v-2zM876,381v1h1v-1zM876,395v3h1v-3zM877,383v3h1v-3zM877,392v6h1v-6zM878,383v4h1v-4zM878,396v2h1v-2zM879,388v9h1v-9zM880,388v3h1v-3zM880,394v3h1v-3zM881,391v2h1v-2zM882,391v1h1v-1zM883,390v3h1v-3zM884,390v1h1v-1z"/>
<path fill="#6fa4d0" d="M536,428v3h1v-3zM537,429v4h1v-4zM538,426v4h1v-4zM539,423v5h1v-5zM539,431v1h1v-1zM540,420v3h1v-3zM540,433v2h1v-2zM541,417v3h1v-3zM541,431v3h1v-3zM542,416v3h1v-3zM543,409v3h1v-3zM544,406v4h1v-4zM545,403v4h1v-4zM546,400v2h1v-2zM572,433v4h1v-4zM573,434v8h1v-8zM574,434v7h1v-7zM575,435v7h1v-7zM576,436v6h1v-6zM577,437v5h1v-5zM578,438v2h1v-2zM581,438v2h1v-2zM582,435v3h1v-3zM586,434v1h1v-1zM590,433v1h1v-1zM593,430v1h1v-1zM648,433v1h1v-1zM649,431v2h1v-2zM669,436v1h1v-1zM670,437v1h1v-1zM671,433v3h1v-3zM672,437v3h1v-3zM674,439v3h1v-3zM675,440v1h1v-1zM679,439v1h1v-1zM681,439v1h1v-1zM694,439v2h1v-2zM695,436v6h1v-6zM696,438v4h1v-4zM697,439v3h1v-3zM698,441v1h1v-1zM699,441v1h1v-1zM700,441v1h1v-1zM701,444v1h1v-1zM702,442v1h1v-1zM703,441v5h1v-5zM704,439v5h1v-5zM705,441v4h1v-4zM706,441v4h1v-4zM707,439v5h1v-5zM708,443v2h1v-2zM711,441v7h1v-7zM712,440v9h1v-9zM713,438v10h1v-10zM714,439v11h1v-11zM715,440v10h1v-10zM716,444v8h1v-8zM717,443v9h1v-9zM718,442v10h1v-10zM719,444v7h1v-7zM720,440v8h1v-8zM721,437v9h1v-9zM722,439v6h1v-6zM723,440v13h1v-13zM724,436v10h1v-10zM725,435v14h1v-14zM726,436v17h1v-17zM727,439v15h1v-15zM728,441v13h1v-13zM729,443v9h1v-9zM730,445v8h1v-8zM731,445v8h1v-8zM732,441v8h1v-8zM733,442v8h1v-8zM734,440v8h1v-8zM735,443v8h1v-8zM736,440v9h1v-9zM737,441v11h1v-11zM738,439v11h1v-11zM739,441v13h1v-13zM740,442v11h1v-11zM741,442v11h1v-11zM742,444v9h1v-9zM743,439v9h1v-9zM744,440v12h1v-12zM745,441v11h1v-11zM746,437v11h1v-11zM747,439v9h1v-9zM748,440v9h1v-9zM749,440v11h1v-11zM750,440v11h1v-11zM751,440v10h1v-10zM752,441v9h1v-9zM753,438v9h1v-9zM754,439v7h1v-7zM755,437v7h1v-7zM756,436v8h1v-8zM757,438v8h1v-8zM758,437v10h1v-10zM759,437v14h1v-14zM760,437v16h1v-16zM761,438v14h1v-14zM762,439v12h1v-12zM763,439v10h1v-10zM764,439v8h1v-8zM765,440v8h1v-8zM766,439v8h1v-8zM767,435v8h1v-8zM768,437v7h1v-7zM769,435v8h1v-8zM770,434v7h1v-7zM771,434v9h1v-9zM772,429v9h1v-9zM773,425v8h1v-8zM774,422v7h1v-7zM775,423v8h1v-8zM776,420v8h1v-8zM777,415v8h1v-8zM778,412v8h1v-8zM779,409v7h1v-7zM780,406v7h1v-7zM781,409v5h1v-5zM782,408v6h1v-6zM783,407v6h1v-6zM784,405v6h1v-6zM785,405v5h1v-5zM786,403v5h1v-5zM787,404v5h1v-5zM788,402v5h1v-5zM789,401v5h1v-5zM790,400v4h1v-4zM791,399v4h1v-4zM792,400v5h1v-5zM793,399v4h1v-4zM794,398v4h1v-4zM795,397v4h1v-4zM796,396v4h1v-4zM797,395v5h1v-5zM798,395v5h1v-5zM799,396v4h1v-4zM800,396v4h1v-4zM801,395v4h1v-4zM802,396v4h1v-4zM803,395v4h1v-4zM804,394v4h1v-4zM805,394v3h1v-3zM806,393v3h1v-3zM807,393v3h1v-3zM808,393v2h1v-2zM809,393v3h1v-3zM810,393v2h1v-2zM811,392v3h1v-3zM812,391v2h1v-2zM813,391v3h1v-3zM814,390v3h1v-3zM815,390v3h1v-3zM816,390v2h1v-2zM817,389v3h1v-3zM818,390v3h1v-3zM819,390v3h1v-3zM820,390v2h1v-2zM822,390v2h1v-2zM827,387v1h1v-1zM829,386v1h1v-1zM830,386v2h1v-2zM831,386v2h1v-2zM832,387v2h1v-2zM833,386v2h1v-2zM836,387v1h1v-1zM837,386v3h1v-3zM838,387v2h1v-2zM839,386v3h1v-3zM840,386v3h1v-3zM841,386v2h1v-2zM843,388v1h1v-1zM844,388v2h1v-2zM845,388v3h1v-3zM846,389v3h1v-3zM847,391v2h1v-2zM848,390v3h1v-3zM849,390v3h1v-3zM850,392v3h1v-3zM851,392v3h1v-3zM852,394v2h1v-2zM853,394v2h1v-2zM854,394v3h1v-3zM855,394v2h1v-2zM856,394v3h1v-3zM857,395v3h1v-3zM858,397v3h1v-3zM859,397v3h1v-3zM860,398v3h1v-3zM861,397v3h1v-3zM862,398v2h1v-2zM863,398v2h1v-2zM864,397v2h1v-2zM865,396v2h1v-2zM866,395v3h1v-3zM867,395v2h1v-2zM868,395v2h1v-2zM869,394v3h1v-3zM870,394v3h1v-3zM871,394v3h1v-3zM872,394v2h1v-2zM873,393v2h1v-2zM874,393v3h1v-3zM875,378v2h1v-2zM875,393v3h1v-3zM876,382v4h1v-4zM876,389v6h1v-6zM877,386v6h1v-6zM878,387v9h1v-9zM880,391v3h1v-3z"/>
<path fill="#75aad2" d="M539,428v3h1v-3zM540,423v10h1v-10zM541,420v11h1v-11zM542,419v4h1v-4zM542,428v6h1v-6zM543,412v3h1v-3zM543,424v6h1v-6zM544,410v3h1v-3zM544,428v1h1v-1zM545,407v3h1v-3zM545,425v5h1v-5zM546,402v4h1v-4zM546,427v2h1v-2zM547,395v3h1v-3zM547,427v2h1v-2zM548,394v1h1v-1zM549,424v1h1v-1zM565,426v1h1v-1zM566,425v1h1v-1zM572,426v7h1v-7zM573,428v6h1v-6zM574,429v5h1v-5zM575,430v5h1v-5zM576,430v6h1v-6zM577,429v8h1v-8zM578,429v9h1v-9zM579,432v9h1v-9zM580,431v9h1v-9zM581,430v8h1v-8zM582,427v8h1v-8zM583,432v4h1v-4zM584,429v4h1v-4zM585,430v2h1v-2zM586,428v6h1v-6zM587,430v3h1v-3zM588,427v6h1v-6zM589,429v4h1v-4zM590,425v8h1v-8zM591,425v6h1v-6zM592,427v5h1v-5zM593,422v8h1v-8zM594,427v1h1v-1zM595,423v6h1v-6zM610,425v1h1v-1zM611,425v2h1v-2zM630,423v1h1v-1zM631,423v2h1v-2zM632,424v1h1v-1zM637,427v1h1v-1zM639,424v3h1v-3zM640,426v2h1v-2zM646,428v3h1v-3zM647,427v4h1v-4zM648,428v5h1v-5zM649,426v5h1v-5zM650,429v3h1v-3zM651,428v8h1v-8zM652,435v1h1v-1zM653,434v4h1v-4zM654,434v2h1v-2zM655,432v4h1v-4zM656,432v1h1v-1zM658,433v3h1v-3zM659,432v1h1v-1zM665,429v4h1v-4zM666,432v2h1v-2zM667,429v5h1v-5zM668,429v5h1v-5zM669,428v8h1v-8zM670,431v6h1v-6zM671,427v6h1v-6zM672,429v8h1v-8zM673,433v5h1v-5zM674,430v9h1v-9zM675,433v7h1v-7zM676,434v8h1v-8zM677,432v8h1v-8zM678,430v8h1v-8zM679,431v8h1v-8zM680,434v5h1v-5zM681,433v6h1v-6zM682,435v5h1v-5zM683,434v3h1v-3zM684,432v5h1v-5zM685,434v4h1v-4zM686,431v2h1v-2zM687,430v2h1v-2zM688,431v2h1v-2zM689,428v4h1v-4zM690,426v7h1v-7zM691,430v4h1v-4zM692,433v1h1v-1zM693,434v5h1v-5zM694,432v7h1v-7zM695,429v7h1v-7zM696,431v7h1v-7zM697,432v7h1v-7zM698,433v8h1v-8zM699,433v8h1v-8zM700,434v7h1v-7zM701,435v9h1v-9zM702,433v9h1v-9zM703,432v9h1v-9zM704,433v6h1v-6zM705,435v6h1v-6zM706,434v7h1v-7zM707,431v8h1v-8zM708,435v8h1v-8zM709,436v7h1v-7zM710,438v5h1v-5zM711,435v6h1v-6zM712,435v5h1v-5zM713,433v5h1v-5zM714,433v6h1v-6zM715,433v7h1v-7zM716,436v8h1v-8zM717,437v6h1v-6zM718,437v5h1v-5zM719,437v7h1v-7zM720,433v7h1v-7zM721,430v7h1v-7zM722,431v8h1v-8zM723,435v5h1v-5zM724,431v5h1v-5zM725,431v4h1v-4zM726,430v6h1v-6zM727,430v9h1v-9zM728,430v11h1v-11zM729,429v14h1v-14zM730,433v12h1v-12zM731,439v6h1v-6zM732,434v7h1v-7zM733,436v6h1v-6zM734,434v6h1v-6zM735,437v6h1v-6zM736,434v6h1v-6zM737,436v5h1v-5zM738,433v6h1v-6zM739,436v5h1v-5zM740,435v7h1v-7zM741,433v9h1v-9zM742,434v10h1v-10zM743,429v10h1v-10zM744,432v8h1v-8zM745,435v6h1v-6zM746,430v7h1v-7zM747,431v8h1v-8zM748,431v9h1v-9zM749,434v6h1v-6zM750,434v6h1v-6zM751,432v8h1v-8zM752,433v8h1v-8zM753,430v8h1v-8zM754,431v8h1v-8zM755,429v8h1v-8zM756,429v7h1v-7zM757,432v6h1v-6zM758,430v7h1v-7zM759,432v5h1v-5zM760,432v5h1v-5zM761,430v8h1v-8zM762,430v9h1v-9zM763,429v10h1v-10zM764,428v11h1v-11zM765,430v10h1v-10zM766,434v5h1v-5zM767,428v7h1v-7zM768,431v6h1v-6zM769,430v5h1v-5zM770,429v5h1v-5zM771,429v5h1v-5zM772,425v4h1v-4zM773,421v4h1v-4zM774,417v5h1v-5zM775,418v5h1v-5zM776,415v5h1v-5zM777,411v4h1v-4zM778,408v4h1v-4zM779,405v4h1v-4zM780,402v4h1v-4zM781,404v5h1v-5zM782,404v4h1v-4zM783,404v3h1v-3zM784,401v4h1v-4zM785,401v4h1v-4zM786,399v4h1v-4zM787,400v4h1v-4zM788,398v4h1v-4zM789,398v3h1v-3zM790,397v3h1v-3zM791,396v3h1v-3zM792,397v3h1v-3zM793,395v4h1v-4zM794,395v3h1v-3zM795,394v3h1v-3zM796,393v3h1v-3zM797,393v2h1v-2zM798,393v2h1v-2zM799,393v3h1v-3zM800,393v3h1v-3zM801,392v3h1v-3zM802,393v3h1v-3zM803,392v3h1v-3zM804,391v3h1v-3zM805,391v3h1v-3zM806,391v2h1v-2zM807,390v3h1v-3zM808,391v2h1v-2zM809,391v2h1v-2zM810,391v2h1v-2zM811,390v2h1v-2zM812,389v2h1v-2zM813,389v2h1v-2zM814,388v2h1v-2zM815,388v2h1v-2zM816,388v2h1v-2zM817,387v2h1v-2zM818,388v2h1v-2zM819,388v2h1v-2zM820,388v2h1v-2zM821,388v2h1v-2zM822,388v2h1v-2zM823,387v2h1v-2zM825,385v2h1v-2zM826,385v2h1v-2zM827,385v2h1v-2zM828,385v2h1v-2zM829,384v2h1v-2zM830,385v1h1v-1zM831,384v2h1v-2zM832,385v2h1v-2zM833,384v2h1v-2zM834,385v2h1v-2zM835,385v2h1v-2zM836,385v2h1v-2zM837,384v2h1v-2zM838,385v2h1v-2zM839,384v2h1v-2zM840,384v2h1v-2zM841,385v1h1v-1zM842,385v2h1v-2zM843,386v2h1v-2zM844,387v1h1v-1zM845,386v2h1v-2zM846,387v2h1v-2zM847,389v2h1v-2zM848,389v1h1v-1zM849,389v1h1v-1zM850,390v2h1v-2zM851,390v2h1v-2zM852,392v2h1v-2zM853,392v2h1v-2zM854,393v1h1v-1zM855,392v2h1v-2zM856,393v1h1v-1zM857,393v2h1v-2zM858,395v2h1v-2zM859,395v2h1v-2zM860,396v2h1v-2zM861,395v2h1v-2zM862,396v2h1v-2zM863,396v2h1v-2zM864,396v1h1v-1zM865,394v2h1v-2zM866,393v2h1v-2zM867,393v2h1v-2zM868,393v2h1v-2zM869,392v2h1v-2zM870,393v1h1v-1zM871,392v2h1v-2zM872,391v3h1v-3zM873,391v2h1v-2zM874,374v3h1v-3zM874,391v2h1v-2zM875,380v3h1v-3zM875,388v5h1v-5zM876,386v3h1v-3z"/>
<path fill="#7cafd5" d="M542,423v5h1v-5zM543,415v9h1v-9zM544,413v4h1v-4zM544,421v7h1v-7zM545,410v5h1v-5zM545,418v7h1v-7zM546,406v3h1v-3zM546,422v5h1v-5zM547,398v4h1v-4zM547,422v5h1v-5zM548,395v3h1v-3zM548,423v4h1v-4zM549,393v2h1v-2zM549,419v5h1v-5zM550,420v3h1v-3zM551,419v5h1v-5zM552,416v5h1v-5zM553,418v4h1v-4zM555,417v4h1v-4zM556,416v2h1v-2zM560,418v2h1v-2zM562,417v4h1v-4zM563,422v2h1v-2zM564,420v6h1v-6zM565,419v7h1v-7zM566,421v4h1v-4zM567,419v3h1v-3zM568,417v3h1v-3zM569,421v1h1v-1zM570,422v4h1v-4zM571,422v6h1v-6zM572,420v6h1v-6zM573,421v7h1v-7zM574,423v6h1v-6zM575,424v6h1v-6zM576,425v5h1v-5zM577,424v5h1v-5zM578,423v6h1v-6zM579,425v7h1v-7zM580,423v8h1v-8zM581,421v9h1v-9zM582,419v8h1v-8zM583,423v9h1v-9zM584,422v7h1v-7zM585,425v5h1v-5zM586,423v5h1v-5zM587,424v6h1v-6zM588,422v5h1v-5zM589,424v5h1v-5zM590,419v6h1v-6zM591,419v6h1v-6zM592,419v8h1v-8zM593,415v7h1v-7zM594,419v8h1v-8zM595,415v8h1v-8zM596,418v7h1v-7zM597,421v3h1v-3zM599,423v3h1v-3zM600,423v4h1v-4zM601,425v1h1v-1zM602,426v2h1v-2zM605,427v1h1v-1zM606,424v3h1v-3zM607,425v4h1v-4zM608,427v2h1v-2zM609,425v3h1v-3zM610,421v4h1v-4zM611,419v6h1v-6zM612,419v4h1v-4zM613,418v7h1v-7zM629,422v1h1v-1zM630,419v4h1v-4zM631,418v5h1v-5zM632,417v7h1v-7zM633,418v8h1v-8zM634,423v2h1v-2zM635,423v3h1v-3zM636,422v6h1v-6zM637,421v6h1v-6zM638,422v4h1v-4zM639,420v4h1v-4zM640,420v6h1v-6zM641,421v7h1v-7zM642,417v8h1v-8zM643,417v10h1v-10zM645,425v3h1v-3zM646,422v6h1v-6zM647,421v6h1v-6zM648,421v7h1v-7zM649,419v7h1v-7zM650,423v6h1v-6zM651,421v7h1v-7zM652,425v10h1v-10zM653,429v5h1v-5zM654,429v5h1v-5zM655,427v5h1v-5zM656,425v7h1v-7zM657,425v9h1v-9zM658,425v8h1v-8zM659,425v7h1v-7zM660,427v6h1v-6zM661,427v2h1v-2zM662,422v7h1v-7zM663,424v4h1v-4zM664,425v6h1v-6zM665,423v6h1v-6zM666,425v7h1v-7zM667,422v7h1v-7zM668,425v4h1v-4zM669,423v5h1v-5zM670,422v9h1v-9zM671,419v8h1v-8zM672,424v5h1v-5zM673,424v9h1v-9zM674,422v8h1v-8zM675,425v8h1v-8zM676,426v8h1v-8zM677,425v7h1v-7zM678,424v6h1v-6zM679,423v8h1v-8zM680,426v8h1v-8zM681,425v8h1v-8zM682,428v7h1v-7zM683,428v6h1v-6zM684,426v6h1v-6zM685,429v5h1v-5zM686,425v6h1v-6zM687,423v7h1v-7zM688,425v6h1v-6zM689,423v5h1v-5zM690,421v5h1v-5zM691,421v9h1v-9zM692,423v10h1v-10zM693,425v9h1v-9zM694,424v8h1v-8zM695,421v8h1v-8zM696,425v6h1v-6zM697,424v8h1v-8zM698,426v7h1v-7zM699,426v7h1v-7zM700,426v8h1v-8zM701,428v7h1v-7zM702,427v6h1v-6zM703,426v6h1v-6zM704,425v8h1v-8zM705,427v8h1v-8zM706,428v6h1v-6zM707,425v6h1v-6zM708,427v8h1v-8zM709,428v8h1v-8zM710,431v7h1v-7zM711,428v7h1v-7zM712,427v8h1v-8zM713,425v8h1v-8zM714,427v6h1v-6zM715,428v5h1v-5zM716,430v6h1v-6zM717,430v7h1v-7zM718,429v8h1v-8zM719,432v5h1v-5zM720,427v6h1v-6zM721,425v5h1v-5zM722,425v6h1v-6zM723,427v8h1v-8zM724,422v9h1v-9zM725,424v7h1v-7zM726,426v4h1v-4zM727,425v5h1v-5zM728,424v6h1v-6zM729,423v6h1v-6zM730,423v10h1v-10zM731,426v13h1v-13zM732,421v13h1v-13zM733,428v8h1v-8zM734,426v8h1v-8zM735,430v7h1v-7zM736,428v6h1v-6zM737,429v7h1v-7zM738,426v7h1v-7zM739,430v6h1v-6zM740,429v6h1v-6zM741,428v5h1v-5zM742,428v6h1v-6zM743,424v5h1v-5zM744,424v8h1v-8zM745,426v9h1v-9zM746,422v8h1v-8zM747,424v7h1v-7zM748,424v7h1v-7zM749,425v9h1v-9zM750,425v9h1v-9zM751,427v5h1v-5zM752,427v6h1v-6zM753,424v6h1v-6zM754,423v8h1v-8zM755,421v8h1v-8zM756,421v8h1v-8zM757,425v7h1v-7zM758,424v6h1v-6zM759,425v7h1v-7zM760,426v6h1v-6zM761,425v5h1v-5zM762,425v5h1v-5zM763,423v6h1v-6zM764,422v6h1v-6zM765,423v7h1v-7zM766,423v11h1v-11zM767,419v9h1v-9zM768,423v8h1v-8zM769,423v7h1v-7zM770,423v6h1v-6zM771,424v5h1v-5zM772,420v5h1v-5zM773,415v6h1v-6zM774,411v6h1v-6zM775,414v4h1v-4zM776,411v4h1v-4zM777,407v4h1v-4zM778,404v4h1v-4zM779,401v4h1v-4zM780,398v4h1v-4zM781,400v4h1v-4zM782,399v5h1v-5zM783,400v4h1v-4zM784,398v3h1v-3zM785,397v4h1v-4zM786,395v4h1v-4zM787,396v4h1v-4zM788,395v3h1v-3zM789,394v4h1v-4zM790,393v4h1v-4zM791,392v4h1v-4zM792,394v3h1v-3zM793,392v3h1v-3zM794,391v4h1v-4zM795,391v3h1v-3zM796,391v2h1v-2zM797,390v3h1v-3zM798,390v3h1v-3zM799,390v3h1v-3zM800,390v3h1v-3zM801,389v3h1v-3zM802,391v2h1v-2zM803,390v2h1v-2zM804,389v2h1v-2zM805,389v2h1v-2zM806,388v3h1v-3zM807,388v2h1v-2zM808,389v2h1v-2zM809,388v3h1v-3zM810,389v2h1v-2zM811,389v1h1v-1zM812,387v2h1v-2zM813,387v2h1v-2zM814,386v2h1v-2zM815,386v2h1v-2zM816,386v2h1v-2zM817,385v2h1v-2zM818,386v2h1v-2zM819,386v2h1v-2zM820,386v2h1v-2zM821,386v2h1v-2zM822,387v1h1v-1zM823,386v1h1v-1zM825,384v1h1v-1zM826,384v1h1v-1zM827,383v2h1v-2zM828,383v2h1v-2zM829,383v1h1v-1zM830,383v2h1v-2zM831,382v2h1v-2zM832,383v2h1v-2zM833,382v2h1v-2zM834,383v2h1v-2zM835,383v2h1v-2zM836,383v2h1v-2zM837,383v1h1v-1zM838,383v2h1v-2zM839,383v1h1v-1zM840,382v2h1v-2zM841,383v2h1v-2zM842,384v1h1v-1zM843,384v2h1v-2zM844,385v2h1v-2zM845,385v1h1v-1zM846,385v2h1v-2zM847,387v2h1v-2zM848,387v2h1v-2zM849,387v2h1v-2zM850,389v1h1v-1zM851,388v2h1v-2zM852,390v2h1v-2zM853,390v2h1v-2zM854,391v2h1v-2zM855,391v1h1v-1zM856,391v2h1v-2zM857,391v2h1v-2zM858,393v2h1v-2zM859,393v2h1v-2zM860,394v2h1v-2zM861,393v2h1v-2zM862,394v2h1v-2zM863,394v2h1v-2zM864,394v2h1v-2zM865,393v1h1v-1zM866,392v1h1v-1zM867,391v2h1v-2zM868,391v2h1v-2zM869,391v1h1v-1zM870,391v2h1v-2zM871,390v2h1v-2zM872,368v1h1v-1zM872,389v2h1v-2zM873,373v3h1v-3zM873,389v2h1v-2zM874,377v3h1v-3zM874,390v1h1v-1zM875,383v5h1v-5z"/>
<path fill="#82b5d8" d="M544,417v4h1v-4zM545,415v3h1v-3zM546,409v3h1v-3zM546,415v7h1v-7zM547,402v3h1v-3zM547,416v6h1v-6zM548,398v3h1v-3zM548,420v3h1v-3zM549,395v3h1v-3zM549,415v4h1v-4zM550,395v3h1v-3zM550,416v4h1v-4zM551,415v4h1v-4zM552,413v3h1v-3zM553,414v4h1v-4zM554,414v5h1v-5zM555,412v5h1v-5zM556,411v5h1v-5zM557,413v5h1v-5zM558,415v1h1v-1zM559,413v5h1v-5zM560,413v5h1v-5zM561,416v5h1v-5zM562,413v4h1v-4zM563,414v8h1v-8zM564,416v4h1v-4zM565,415v4h1v-4zM566,415v6h1v-6zM567,413v6h1v-6zM568,414v3h1v-3zM569,415v6h1v-6zM570,415v7h1v-7zM571,416v6h1v-6zM572,414v6h1v-6zM573,416v5h1v-5zM574,417v6h1v-6zM575,419v5h1v-5zM576,420v5h1v-5zM577,419v5h1v-5zM578,419v4h1v-4zM579,420v5h1v-5zM580,419v4h1v-4zM581,417v4h1v-4zM582,414v5h1v-5zM583,417v6h1v-6zM584,415v7h1v-7zM585,417v8h1v-8zM586,419v4h1v-4zM587,420v4h1v-4zM588,417v5h1v-5zM589,419v5h1v-5zM590,415v4h1v-4zM591,415v4h1v-4zM592,415v4h1v-4zM593,411v4h1v-4zM594,413v6h1v-6zM595,410v5h1v-5zM596,412v6h1v-6zM597,414v7h1v-7zM598,419v8h1v-8zM599,415v8h1v-8zM600,414v9h1v-9zM601,420v5h1v-5zM602,419v7h1v-7zM603,422v4h1v-4zM604,422v5h1v-5zM605,422v5h1v-5zM606,419v5h1v-5zM607,421v4h1v-4zM608,423v4h1v-4zM609,421v4h1v-4zM610,417v4h1v-4zM611,416v3h1v-3zM612,415v4h1v-4zM613,413v5h1v-5zM614,417v7h1v-7zM615,416v7h1v-7zM616,421v1h1v-1zM622,419v1h1v-1zM624,416v4h1v-4zM626,417v1h1v-1zM627,415v3h1v-3zM628,417v3h1v-3zM629,418v4h1v-4zM630,415v4h1v-4zM631,415v3h1v-3zM632,414v3h1v-3zM633,414v4h1v-4zM634,415v8h1v-8zM635,415v8h1v-8zM636,413v9h1v-9zM637,412v9h1v-9zM638,417v5h1v-5zM639,415v5h1v-5zM640,417v3h1v-3zM641,417v4h1v-4zM642,413v4h1v-4zM643,413v4h1v-4zM644,419v8h1v-8zM645,418v7h1v-7zM646,416v6h1v-6zM647,415v6h1v-6zM648,416v5h1v-5zM649,414v5h1v-5zM650,420v3h1v-3zM651,418v3h1v-3zM652,419v6h1v-6zM653,419v10h1v-10zM654,424v5h1v-5zM655,422v5h1v-5zM656,420v5h1v-5zM657,421v4h1v-4zM658,419v6h1v-6zM659,419v6h1v-6zM660,422v5h1v-5zM661,422v5h1v-5zM662,418v4h1v-4zM663,419v5h1v-5zM664,419v6h1v-6zM665,418v5h1v-5zM666,419v6h1v-6zM667,416v6h1v-6zM668,418v7h1v-7zM669,417v6h1v-6zM670,419v3h1v-3zM671,416v3h1v-3zM672,417v7h1v-7zM673,421v3h1v-3zM674,418v4h1v-4zM675,418v7h1v-7zM676,421v5h1v-5zM677,419v6h1v-6zM678,417v7h1v-7zM679,418v5h1v-5zM680,420v6h1v-6zM681,419v6h1v-6zM682,422v6h1v-6zM683,422v6h1v-6zM684,421v5h1v-5zM685,425v4h1v-4zM686,421v4h1v-4zM687,418v5h1v-5zM688,420v5h1v-5zM689,418v5h1v-5zM690,415v6h1v-6zM691,418v3h1v-3zM692,418v5h1v-5zM693,417v8h1v-8zM694,416v8h1v-8zM695,413v8h1v-8zM696,418v7h1v-7zM697,420v4h1v-4zM698,420v6h1v-6zM699,420v6h1v-6zM700,421v5h1v-5zM701,422v6h1v-6zM702,420v7h1v-7zM703,420v6h1v-6zM704,420v5h1v-5zM705,422v5h1v-5zM706,421v7h1v-7zM707,418v7h1v-7zM708,422v5h1v-5zM709,422v6h1v-6zM710,424v7h1v-7zM711,421v7h1v-7zM712,422v5h1v-5zM713,420v5h1v-5zM714,421v6h1v-6zM715,423v5h1v-5zM716,425v5h1v-5zM717,425v5h1v-5zM718,424v5h1v-5zM719,426v6h1v-6zM720,422v5h1v-5zM721,419v6h1v-6zM722,420v5h1v-5zM723,422v5h1v-5zM724,418v4h1v-4zM725,418v6h1v-6zM726,419v7h1v-7zM727,421v4h1v-4zM728,421v3h1v-3zM729,419v4h1v-4zM730,419v4h1v-4zM731,419v7h1v-7zM732,415v6h1v-6zM733,417v11h1v-11zM734,415v11h1v-11zM735,426v4h1v-4zM736,423v5h1v-5zM737,424v5h1v-5zM738,421v5h1v-5zM739,425v5h1v-5zM740,424v5h1v-5zM741,424v4h1v-4zM742,424v4h1v-4zM743,420v4h1v-4zM744,420v4h1v-4zM745,421v5h1v-5zM746,417v5h1v-5zM747,418v6h1v-6zM748,418v6h1v-6zM749,420v5h1v-5zM750,420v5h1v-5zM751,419v8h1v-8zM752,420v7h1v-7zM753,418v6h1v-6zM754,419v4h1v-4zM755,417v4h1v-4zM756,415v6h1v-6zM757,419v6h1v-6zM758,418v6h1v-6zM759,420v5h1v-5zM760,421v5h1v-5zM761,420v5h1v-5zM762,421v4h1v-4zM763,420v3h1v-3zM764,418v4h1v-4zM765,419v4h1v-4zM766,419v4h1v-4zM767,415v4h1v-4zM768,417v6h1v-6zM769,416v7h1v-7zM770,416v7h1v-7zM771,419v5h1v-5zM772,414v6h1v-6zM773,410v5h1v-5zM774,406v5h1v-5zM775,410v4h1v-4zM776,407v4h1v-4zM777,402v5h1v-5zM778,399v5h1v-5zM779,396v5h1v-5zM780,393v5h1v-5zM781,397v3h1v-3zM782,397v2h1v-2zM783,397v3h1v-3zM784,395v3h1v-3zM785,395v2h1v-2zM786,392v3h1v-3zM787,393v3h1v-3zM788,392v3h1v-3zM789,392v2h1v-2zM790,391v2h1v-2zM791,390v2h1v-2zM792,391v3h1v-3zM793,390v2h1v-2zM794,389v2h1v-2zM795,388v3h1v-3zM796,389v2h1v-2zM797,388v2h1v-2zM798,388v2h1v-2zM799,388v2h1v-2zM800,388v2h1v-2zM801,387v2h1v-2zM802,389v2h1v-2zM803,388v2h1v-2zM804,387v2h1v-2zM805,387v2h1v-2zM806,387v1h1v-1zM807,387v1h1v-1zM808,387v2h1v-2zM809,387v1h1v-1zM810,387v2h1v-2zM811,387v2h1v-2zM812,386v1h1v-1zM813,386v1h1v-1zM814,385v1h1v-1zM815,385v1h1v-1zM816,385v1h1v-1zM817,384v1h1v-1zM818,384v2h1v-2zM819,385v1h1v-1zM820,384v2h1v-2zM821,385v1h1v-1zM822,385v2h1v-2zM823,384v2h1v-2zM824,384v1h1v-1zM825,383v1h1v-1zM826,382v2h1v-2zM827,382v1h1v-1zM828,381v2h1v-2zM829,381v2h1v-2zM830,381v2h1v-2zM831,381v1h1v-1zM832,382v1h1v-1zM833,381v1h1v-1zM834,381v2h1v-2zM835,382v1h1v-1zM836,381v2h1v-2zM837,381v2h1v-2zM838,382v1h1v-1zM839,381v2h1v-2zM840,381v1h1v-1zM841,381v2h1v-2zM842,382v2h1v-2zM843,383v1h1v-1zM844,384v1h1v-1zM845,384v1h1v-1zM846,384v1h1v-1zM847,385v2h1v-2zM848,385v2h1v-2zM849,386v1h1v-1zM850,387v2h1v-2zM851,387v1h1v-1zM852,389v1h1v-1zM853,389v1h1v-1zM854,390v1h1v-1zM855,389v2h1v-2zM856,390v1h1v-1zM857,390v1h1v-1zM858,391v2h1v-2zM859,392v1h1v-1zM860,393v1h1v-1zM861,392v1h1v-1zM862,393v1h1v-1zM863,393v1h1v-1zM864,393v1h1v-1zM865,391v2h1v-2zM866,391v1h1v-1zM867,390v1h1v-1zM868,390v1h1v-1zM869,390v1h1v-1zM870,390v1h1v-1zM871,367v2h1v-2zM871,389v1h1v-1zM872,369v3h1v-3zM872,388v1h1v-1zM873,376v4h1v-4zM873,388v1h1v-1zM874,380v3h1v-3zM874,389v1h1v-1z"/>
<path fill="#89bada" d="M546,412v3h1v-3zM547,405v3h1v-3zM547,412v4h1v-4zM548,401v4h1v-4zM548,417v3h1v-3zM549,398v3h1v-3zM549,412v3h1v-3zM550,398v3h1v-3zM550,413v3h1v-3zM551,391v4h1v-4zM551,412v3h1v-3zM552,384v1h1v-1zM552,410v3h1v-3zM553,412v2h1v-2zM554,412v2h1v-2zM555,409v3h1v-3zM556,408v3h1v-3zM557,410v3h1v-3zM558,412v3h1v-3zM559,409v4h1v-4zM560,409v4h1v-4zM561,413v3h1v-3zM562,409v4h1v-4zM563,412v2h1v-2zM564,411v5h1v-5zM565,410v5h1v-5zM566,413v2h1v-2zM567,411v2h1v-2zM568,411v3h1v-3zM569,413v2h1v-2zM570,412v3h1v-3zM571,412v4h1v-4zM572,410v4h1v-4zM573,414v2h1v-2zM574,415v2h1v-2zM575,416v3h1v-3zM576,417v3h1v-3zM577,417v2h1v-2zM578,416v3h1v-3zM579,418v2h1v-2zM580,416v3h1v-3zM581,414v3h1v-3zM582,412v2h1v-2zM583,414v3h1v-3zM584,412v3h1v-3zM585,414v3h1v-3zM586,413v6h1v-6zM587,417v3h1v-3zM588,414v3h1v-3zM589,417v2h1v-2zM590,412v3h1v-3zM591,412v3h1v-3zM592,413v2h1v-2zM593,408v3h1v-3zM594,411v2h1v-2zM595,407v3h1v-3zM596,409v3h1v-3zM597,411v3h1v-3zM598,416v3h1v-3zM599,412v3h1v-3zM600,412v2h1v-2zM601,417v3h1v-3zM602,417v2h1v-2zM603,419v3h1v-3zM604,420v2h1v-2zM605,419v3h1v-3zM606,417v2h1v-2zM607,418v3h1v-3zM608,420v3h1v-3zM609,418v3h1v-3zM610,414v3h1v-3zM611,412v4h1v-4zM612,414v1h1v-1zM613,411v2h1v-2zM614,413v4h1v-4zM615,413v3h1v-3zM616,414v7h1v-7zM617,419v2h1v-2zM619,419v2h1v-2zM620,417v1h1v-1zM622,417v2h1v-2zM623,415v2h1v-2zM624,413v3h1v-3zM625,417v2h1v-2zM626,414v3h1v-3zM627,412v3h1v-3zM628,413v4h1v-4zM629,414v4h1v-4zM630,411v4h1v-4zM631,413v2h1v-2zM632,412v2h1v-2zM633,412v2h1v-2zM634,412v3h1v-3zM635,411v4h1v-4zM636,409v4h1v-4zM637,408v4h1v-4zM638,410v7h1v-7zM639,408v7h1v-7zM640,414v3h1v-3zM641,415v2h1v-2zM642,411v2h1v-2zM643,410v3h1v-3zM644,414v5h1v-5zM645,413v5h1v-5zM646,411v5h1v-5zM647,410v5h1v-5zM648,413v3h1v-3zM649,411v3h1v-3zM650,416v4h1v-4zM651,416v2h1v-2zM652,417v2h1v-2zM653,416v3h1v-3zM654,417v7h1v-7zM655,416v6h1v-6zM656,417v3h1v-3zM657,418v3h1v-3zM658,417v2h1v-2zM659,416v3h1v-3zM660,419v3h1v-3zM661,419v3h1v-3zM662,414v4h1v-4zM663,417v2h1v-2zM664,416v3h1v-3zM665,415v3h1v-3zM666,417v2h1v-2zM667,413v3h1v-3zM668,415v3h1v-3zM669,414v3h1v-3zM670,417v2h1v-2zM671,413v3h1v-3zM672,415v2h1v-2zM673,417v4h1v-4zM674,415v3h1v-3zM675,416v2h1v-2zM676,417v4h1v-4zM677,416v3h1v-3zM678,414v3h1v-3zM679,414v4h1v-4zM680,417v3h1v-3zM681,416v3h1v-3zM682,418v4h1v-4zM683,419v3h1v-3zM684,417v4h1v-4zM685,422v3h1v-3zM686,418v3h1v-3zM687,416v2h1v-2zM688,417v3h1v-3zM689,415v3h1v-3zM690,412v3h1v-3zM691,414v4h1v-4zM692,416v2h1v-2zM693,415v2h1v-2zM694,413v3h1v-3zM695,410v3h1v-3zM696,413v5h1v-5zM697,415v5h1v-5zM698,418v2h1v-2zM699,417v3h1v-3zM700,417v4h1v-4zM701,419v3h1v-3zM702,417v3h1v-3zM703,416v4h1v-4zM704,417v3h1v-3zM705,420v2h1v-2zM706,419v2h1v-2zM707,416v2h1v-2zM708,419v3h1v-3zM709,420v2h1v-2zM710,420v4h1v-4zM711,418v3h1v-3zM712,417v5h1v-5zM713,415v5h1v-5zM714,418v3h1v-3zM715,420v3h1v-3zM716,423v2h1v-2zM717,423v2h1v-2zM718,422v2h1v-2zM719,423v3h1v-3zM720,419v3h1v-3zM721,417v2h1v-2zM722,417v3h1v-3zM723,420v2h1v-2zM724,416v2h1v-2zM725,415v3h1v-3zM726,416v3h1v-3zM727,417v4h1v-4zM728,419v2h1v-2zM729,417v2h1v-2zM730,417v2h1v-2zM731,417v2h1v-2zM732,413v2h1v-2zM733,414v3h1v-3zM734,412v3h1v-3zM735,416v10h1v-10zM736,414v2h1v-2zM736,419v4h1v-4zM737,422v2h1v-2zM738,419v2h1v-2zM739,422v3h1v-3zM740,421v3h1v-3zM741,420v4h1v-4zM742,421v3h1v-3zM743,416v4h1v-4zM744,418v2h1v-2zM745,418v3h1v-3zM746,415v2h1v-2zM747,415v3h1v-3zM748,415v3h1v-3zM749,416v4h1v-4zM750,417v3h1v-3zM751,416v3h1v-3zM752,417v3h1v-3zM753,414v4h1v-4zM754,416v3h1v-3zM755,415v2h1v-2zM756,413v2h1v-2zM757,416v3h1v-3zM758,415v3h1v-3zM759,417v3h1v-3zM760,418v3h1v-3zM761,417v3h1v-3zM762,417v4h1v-4zM763,416v4h1v-4zM764,416v2h1v-2zM765,417v2h1v-2zM766,416v3h1v-3zM767,413v2h1v-2zM768,415v2h1v-2zM769,414v2h1v-2zM770,412v4h1v-4zM771,416v3h1v-3zM772,410v4h1v-4zM773,406v4h1v-4zM774,403v3h1v-3zM775,406v4h1v-4zM776,403v4h1v-4zM777,398v4h1v-4zM778,396v3h1v-3zM779,393v3h1v-3zM780,391v2h1v-2zM781,395v2h1v-2zM782,395v2h1v-2zM783,395v2h1v-2zM784,393v2h1v-2zM785,393v2h1v-2zM786,391v1h1v-1zM787,392v1h1v-1zM788,390v2h1v-2zM789,390v2h1v-2zM790,389v2h1v-2zM791,388v2h1v-2zM792,390v1h1v-1zM793,389v1h1v-1zM794,388v1h1v-1zM795,387v1h1v-1zM796,387v2h1v-2zM797,387v1h1v-1zM798,387v1h1v-1zM799,387v1h1v-1zM800,387v1h1v-1zM801,386v1h1v-1zM802,387v2h1v-2zM803,386v2h1v-2zM804,386v1h1v-1zM805,386v1h1v-1zM806,385v2h1v-2zM807,386v1h1v-1zM808,386v1h1v-1zM809,386v1h1v-1zM810,386v1h1v-1zM811,386v1h1v-1zM812,385v1h1v-1zM813,385v1h1v-1zM814,384v1h1v-1zM815,384v1h1v-1zM816,384v1h1v-1zM817,383v1h1v-1zM818,383v1h1v-1zM819,384v1h1v-1zM820,383v1h1v-1zM821,384v1h1v-1zM824,383v1h1v-1zM825,382v1h1v-1zM827,381v1h1v-1zM829,380v1h1v-1zM830,380v1h1v-1zM831,380v1h1v-1zM832,381v1h1v-1zM833,380v1h1v-1zM834,380v1h1v-1zM835,381v1h1v-1zM837,380v1h1v-1zM838,381v1h1v-1zM840,380v1h1v-1zM841,380v1h1v-1zM843,382v1h1v-1zM844,383v1h1v-1zM845,383v1h1v-1zM846,383v1h1v-1zM849,385v1h1v-1zM850,386v1h1v-1zM851,386v1h1v-1zM852,388v1h1v-1zM853,388v1h1v-1zM854,389v1h1v-1zM856,389v1h1v-1zM857,389v1h1v-1zM859,391v1h1v-1zM860,392v1h1v-1zM861,391v1h1v-1zM862,392v1h1v-1zM863,392v1h1v-1zM864,392v1h1v-1zM866,390v1h1v-1zM867,389v1h1v-1zM868,389v1h1v-1zM869,360v2h1v-2zM869,389v1h1v-1zM870,361v4h1v-4zM870,389v1h1v-1zM871,369v4h1v-4zM871,388v1h1v-1zM872,372v3h1v-3zM872,387v1h1v-1zM873,380v3h1v-3zM873,386v2h1v-2zM874,383v4h1v-4zM874,388v1h1v-1z"/>
<path fill="#8fc0dd" d="M547,408v4h1v-4zM548,405v3h1v-3zM548,414v3h1v-3zM549,401v4h1v-4zM549,408v4h1v-4zM550,401v3h1v-3zM550,411v2h1v-2zM551,395v3h1v-3zM551,410v2h1v-2zM552,385v3h1v-3zM552,407v3h1v-3zM553,381v2h1v-2zM553,409v3h1v-3zM554,410v2h1v-2zM555,407v2h1v-2zM556,406v2h1v-2zM557,407v3h1v-3zM558,408v4h1v-4zM559,406v3h1v-3zM560,406v3h1v-3zM561,409v4h1v-4zM562,406v3h1v-3zM563,409v3h1v-3zM564,408v3h1v-3zM565,406v4h1v-4zM566,410v3h1v-3zM567,408v3h1v-3zM568,407v4h1v-4zM569,411v2h1v-2zM570,410v2h1v-2zM571,408v4h1v-4zM572,406v4h1v-4zM573,410v4h1v-4zM574,412v3h1v-3zM575,413v3h1v-3zM576,414v3h1v-3zM577,414v3h1v-3zM578,414v2h1v-2zM579,415v3h1v-3zM580,414v2h1v-2zM581,412v2h1v-2zM582,409v3h1v-3zM583,412v2h1v-2zM584,409v3h1v-3zM585,411v3h1v-3zM586,409v4h1v-4zM587,414v3h1v-3zM588,412v2h1v-2zM589,414v3h1v-3zM590,409v3h1v-3zM591,409v3h1v-3zM592,410v3h1v-3zM593,406v2h1v-2zM594,409v2h1v-2zM595,405v2h1v-2zM596,406v3h1v-3zM597,408v3h1v-3zM598,412v4h1v-4zM599,407v5h1v-5zM600,409v3h1v-3zM601,410v7h1v-7zM602,414v3h1v-3zM603,414v5h1v-5zM604,417v3h1v-3zM605,417v2h1v-2zM606,414v3h1v-3zM607,415v3h1v-3zM608,417v3h1v-3zM609,415v3h1v-3zM610,411v3h1v-3zM611,409v3h1v-3zM612,412v2h1v-2zM613,410v1h1v-1zM614,410v3h1v-3zM615,409v4h1v-4zM616,411v3h1v-3zM617,411v8h1v-8zM618,418v1h1v-1zM619,417v2h1v-2zM620,416v1h1v-1zM621,415v2h1v-2zM622,414v3h1v-3zM623,413v2h1v-2zM624,411v2h1v-2zM625,413v4h1v-4zM626,410v4h1v-4zM627,409v3h1v-3zM628,411v2h1v-2zM629,410v4h1v-4zM630,407v4h1v-4zM631,409v4h1v-4zM632,410v2h1v-2zM633,410v2h1v-2zM634,410v2h1v-2zM635,409v2h1v-2zM636,407v2h1v-2zM637,405v3h1v-3zM638,407v3h1v-3zM639,405v3h1v-3zM640,410v4h1v-4zM641,413v2h1v-2zM642,408v3h1v-3zM643,408v2h1v-2zM644,412v2h1v-2zM645,409v4h1v-4zM646,407v4h1v-4zM647,406v4h1v-4zM648,409v4h1v-4zM649,407v4h1v-4zM650,413v3h1v-3zM651,411v5h1v-5zM652,415v2h1v-2zM653,414v2h1v-2zM654,414v3h1v-3zM655,412v4h1v-4zM656,411v6h1v-6zM657,415v3h1v-3zM658,413v4h1v-4zM659,413v3h1v-3zM660,415v4h1v-4zM661,416v3h1v-3zM662,411v3h1v-3zM663,414v3h1v-3zM664,414v2h1v-2zM665,412v3h1v-3zM666,413v4h1v-4zM667,410v3h1v-3zM668,412v3h1v-3zM669,410v4h1v-4zM670,412v5h1v-5zM671,408v5h1v-5zM672,413v2h1v-2zM673,414v3h1v-3zM674,412v3h1v-3zM675,414v2h1v-2zM676,413v4h1v-4zM677,411v5h1v-5zM678,410v4h1v-4zM679,411v3h1v-3zM680,413v4h1v-4zM681,413v3h1v-3zM682,415v3h1v-3zM683,415v4h1v-4zM684,414v3h1v-3zM685,419v3h1v-3zM686,415v3h1v-3zM687,413v3h1v-3zM688,415v2h1v-2zM689,412v3h1v-3zM690,409v3h1v-3zM691,411v3h1v-3zM692,415v1h1v-1zM693,413v2h1v-2zM694,411v2h1v-2zM695,408v2h1v-2zM696,409v4h1v-4zM697,411v4h1v-4zM698,415v3h1v-3zM699,415v2h1v-2zM700,414v3h1v-3zM701,416v3h1v-3zM702,414v3h1v-3zM703,413v3h1v-3zM704,412v5h1v-5zM705,416v4h1v-4zM706,416v3h1v-3zM707,414v2h1v-2zM708,415v4h1v-4zM709,417v3h1v-3zM710,417v3h1v-3zM711,414v4h1v-4zM712,414v3h1v-3zM713,412v3h1v-3zM714,415v3h1v-3zM715,417v3h1v-3zM716,420v3h1v-3zM717,420v3h1v-3zM718,419v3h1v-3zM719,421v2h1v-2zM720,417v2h1v-2zM721,414v3h1v-3zM722,414v3h1v-3zM723,417v3h1v-3zM724,413v3h1v-3zM725,413v2h1v-2zM726,413v3h1v-3zM727,413v4h1v-4zM728,415v4h1v-4zM729,415v2h1v-2zM730,415v2h1v-2zM731,415v2h1v-2zM732,411v2h1v-2zM733,412v2h1v-2zM734,409v3h1v-3zM735,413v3h1v-3zM736,410v4h1v-4zM736,416v3h1v-3zM737,419v3h1v-3zM738,416v3h1v-3zM739,419v3h1v-3zM740,418v3h1v-3zM741,417v3h1v-3zM742,418v3h1v-3zM743,413v3h1v-3zM744,415v3h1v-3zM745,416v2h1v-2zM746,412v3h1v-3zM747,413v2h1v-2zM748,412v3h1v-3zM749,413v3h1v-3zM750,414v3h1v-3zM751,413v3h1v-3zM752,414v3h1v-3zM753,411v3h1v-3zM754,411v5h1v-5zM755,409v6h1v-6zM756,411v2h1v-2zM757,412v4h1v-4zM758,411v4h1v-4zM759,413v4h1v-4zM760,414v4h1v-4zM761,414v3h1v-3zM762,415v2h1v-2zM763,413v3h1v-3zM764,412v4h1v-4zM765,415v2h1v-2zM766,414v2h1v-2zM767,411v2h1v-2zM768,413v2h1v-2zM769,412v2h1v-2zM770,410v2h1v-2zM771,411v5h1v-5zM772,407v3h1v-3zM773,404v2h1v-2zM774,400v3h1v-3zM775,403v3h1v-3zM776,400v3h1v-3zM777,396v2h1v-2zM778,394v2h1v-2zM779,391v2h1v-2zM780,388v3h1v-3zM781,392v3h1v-3zM782,393v2h1v-2zM783,393v2h1v-2zM784,391v2h1v-2zM785,391v2h1v-2zM786,389v2h1v-2zM787,390v2h1v-2zM788,389v1h1v-1zM789,389v1h1v-1zM790,388v1h1v-1zM791,387v1h1v-1zM792,389v1h1v-1zM793,388v1h1v-1zM794,387v1h1v-1zM795,386v1h1v-1zM796,385v2h1v-2zM797,386v1h1v-1zM798,386v1h1v-1zM799,386v1h1v-1zM800,385v2h1v-2zM801,385v1h1v-1zM802,386v1h1v-1zM803,385v1h1v-1zM804,385v1h1v-1zM805,385v1h1v-1zM806,384v1h1v-1zM807,385v1h1v-1zM808,385v1h1v-1zM809,385v1h1v-1zM810,385v1h1v-1zM811,385v1h1v-1zM812,384v1h1v-1zM813,384v1h1v-1zM815,383v1h1v-1zM816,383v1h1v-1zM817,382v1h1v-1zM819,383v1h1v-1zM821,383v1h1v-1zM822,384v1h1v-1zM823,383v1h1v-1zM825,381v1h1v-1zM826,381v1h1v-1zM828,380v1h1v-1zM829,379v1h1v-1zM831,379v1h1v-1zM832,380v1h1v-1zM833,379v1h1v-1zM835,380v1h1v-1zM836,380v1h1v-1zM839,380v1h1v-1zM840,379v1h1v-1zM841,379v1h1v-1zM842,381v1h1v-1zM843,381v1h1v-1zM844,382v1h1v-1zM845,382v1h1v-1zM846,382v1h1v-1zM847,384v1h1v-1zM848,384v1h1v-1zM849,384v1h1v-1zM851,385v1h1v-1zM852,387v1h1v-1zM853,387v1h1v-1zM854,388v1h1v-1zM855,388v1h1v-1zM856,388v1h1v-1zM858,390v1h1v-1zM859,390v1h1v-1zM860,391v1h1v-1zM861,390v1h1v-1zM862,391v1h1v-1zM863,391v1h1v-1zM864,391v1h1v-1zM865,390v1h1v-1zM866,389v1h1v-1zM867,358v2h1v-2zM867,388v1h1v-1zM868,360v4h1v-4zM868,388v1h1v-1zM869,362v3h1v-3zM869,388v1h1v-1zM870,365v3h1v-3zM870,388v1h1v-1zM871,373v3h1v-3zM871,387v1h1v-1zM872,375v4h1v-4zM873,383v3h1v-3zM874,387v1h1v-1z"/>
<path fill="#95c4e0" d="M548,408v6h1v-6zM549,405v3h1v-3zM550,404v7h1v-7zM551,398v3h1v-3zM551,407v3h1v-3zM552,388v4h1v-4zM552,405v2h1v-2zM553,383v3h1v-3zM553,407v2h1v-2zM554,373v3h1v-3zM554,407v3h1v-3zM555,405v2h1v-2zM556,403v3h1v-3zM557,404v3h1v-3zM558,406v2h1v-2zM559,403v3h1v-3zM560,402v4h1v-4zM561,406v3h1v-3zM562,402v4h1v-4zM563,405v4h1v-4zM564,405v3h1v-3zM565,403v3h1v-3zM566,404v6h1v-6zM567,406v2h1v-2zM568,405v2h1v-2zM569,407v4h1v-4zM570,408v2h1v-2zM571,407v1h1v-1zM572,404v2h1v-2zM573,406v4h1v-4zM574,409v3h1v-3zM575,410v3h1v-3zM576,411v3h1v-3zM577,410v4h1v-4zM578,410v4h1v-4zM579,413v2h1v-2zM580,411v3h1v-3zM581,409v3h1v-3zM582,406v3h1v-3zM583,409v3h1v-3zM584,407v2h1v-2zM585,408v3h1v-3zM586,407v2h1v-2zM587,409v5h1v-5zM588,406v6h1v-6zM589,411v3h1v-3zM590,407v2h1v-2zM591,406v3h1v-3zM592,408v2h1v-2zM593,402v4h1v-4zM594,406v3h1v-3zM595,403v2h1v-2zM596,404v2h1v-2zM597,405v3h1v-3zM598,408v4h1v-4zM599,404v3h1v-3zM600,405v4h1v-4zM601,408v2h1v-2zM602,407v7h1v-7zM603,412v2h1v-2zM604,412v5h1v-5zM605,414v3h1v-3zM606,411v3h1v-3zM607,413v2h1v-2zM608,415v2h1v-2zM609,412v3h1v-3zM610,408v3h1v-3zM611,406v3h1v-3zM612,408v4h1v-4zM613,407v3h1v-3zM614,409v1h1v-1zM615,407v2h1v-2zM616,408v3h1v-3zM617,408v3h1v-3zM618,414v4h1v-4zM619,415v2h1v-2zM620,413v3h1v-3zM621,413v2h1v-2zM622,411v3h1v-3zM623,410v3h1v-3zM624,409v2h1v-2zM625,410v3h1v-3zM626,407v3h1v-3zM627,406v3h1v-3zM628,408v3h1v-3zM629,407v3h1v-3zM630,404v3h1v-3zM631,405v4h1v-4zM632,406v4h1v-4zM633,409v1h1v-1zM634,408v2h1v-2zM635,407v2h1v-2zM636,405v2h1v-2zM637,403v2h1v-2zM638,403v4h1v-4zM639,402v3h1v-3zM640,403v7h1v-7zM641,410v3h1v-3zM642,405v3h1v-3zM643,406v2h1v-2zM644,409v3h1v-3zM645,407v2h1v-2zM646,404v3h1v-3zM647,403v3h1v-3zM648,404v5h1v-5zM649,403v4h1v-4zM650,410v3h1v-3zM651,409v2h1v-2zM652,413v2h1v-2zM653,412v2h1v-2zM654,411v3h1v-3zM655,409v3h1v-3zM656,408v3h1v-3zM657,409v6h1v-6zM658,410v3h1v-3zM659,410v3h1v-3zM660,412v3h1v-3zM661,411v5h1v-5zM662,406v5h1v-5zM663,411v3h1v-3zM664,412v2h1v-2zM665,410v2h1v-2zM666,411v2h1v-2zM667,407v3h1v-3zM668,409v3h1v-3zM669,408v2h1v-2zM670,409v3h1v-3zM671,405v3h1v-3zM672,411v2h1v-2zM673,412v2h1v-2zM674,409v3h1v-3zM675,411v3h1v-3zM676,411v2h1v-2zM677,409v2h1v-2zM678,406v4h1v-4zM679,406v5h1v-5zM680,410v3h1v-3zM681,409v4h1v-4zM682,412v3h1v-3zM683,411v4h1v-4zM684,410v4h1v-4zM685,415v4h1v-4zM686,411v4h1v-4zM687,410v3h1v-3zM688,412v3h1v-3zM689,409v3h1v-3zM690,406v3h1v-3zM691,408v3h1v-3zM692,410v5h1v-5zM693,412v1h1v-1zM694,410v1h1v-1zM695,407v1h1v-1zM696,406v3h1v-3zM697,407v4h1v-4zM698,409v6h1v-6zM699,411v4h1v-4zM700,412v2h1v-2zM701,412v4h1v-4zM702,411v3h1v-3zM703,410v3h1v-3zM704,410v2h1v-2zM705,413v3h1v-3zM706,413v3h1v-3zM707,410v4h1v-4zM708,413v2h1v-2zM709,413v4h1v-4zM710,415v2h1v-2zM711,412v2h1v-2zM712,411v3h1v-3zM713,408v4h1v-4zM714,410v5h1v-5zM715,414v3h1v-3zM716,417v3h1v-3zM717,417v3h1v-3zM718,416v3h1v-3zM719,418v3h1v-3zM720,414v3h1v-3zM721,411v3h1v-3zM722,412v2h1v-2zM723,414v3h1v-3zM724,410v3h1v-3zM725,410v3h1v-3zM726,411v2h1v-2zM727,410v3h1v-3zM728,411v4h1v-4zM729,410v5h1v-5zM730,413v2h1v-2zM731,413v2h1v-2zM732,409v2h1v-2zM733,409v3h1v-3zM734,407v2h1v-2zM735,410v3h1v-3zM736,408v2h1v-2zM737,409v10h1v-10zM738,406v10h1v-10zM739,416v3h1v-3zM740,415v3h1v-3zM741,414v3h1v-3zM742,414v4h1v-4zM743,410v3h1v-3zM744,412v3h1v-3zM745,414v2h1v-2zM746,409v3h1v-3zM747,410v3h1v-3zM748,410v2h1v-2zM749,410v3h1v-3zM750,410v4h1v-4zM751,410v3h1v-3zM752,411v3h1v-3zM753,408v3h1v-3zM754,408v3h1v-3zM755,406v3h1v-3zM756,405v6h1v-6zM757,410v2h1v-2zM758,408v3h1v-3zM759,410v3h1v-3zM760,411v3h1v-3zM761,411v3h1v-3zM762,412v3h1v-3zM763,411v2h1v-2zM764,409v3h1v-3zM765,412v3h1v-3zM766,412v2h1v-2zM767,408v3h1v-3zM768,410v3h1v-3zM769,410v2h1v-2zM770,409v1h1v-1zM771,409v2h1v-2zM772,405v2h1v-2zM773,402v2h1v-2zM774,399v1h1v-1zM775,401v2h1v-2zM776,398v2h1v-2zM777,394v2h1v-2zM778,392v2h1v-2zM779,389v2h1v-2zM780,387v1h1v-1zM781,390v2h1v-2zM782,391v2h1v-2zM783,391v2h1v-2zM784,389v2h1v-2zM785,390v1h1v-1zM786,388v1h1v-1zM787,389v1h1v-1zM788,387v2h1v-2zM789,387v2h1v-2zM790,386v2h1v-2zM791,385v2h1v-2zM792,387v2h1v-2zM793,386v2h1v-2zM794,386v1h1v-1zM795,385v1h1v-1zM796,384v1h1v-1zM797,385v1h1v-1zM798,385v1h1v-1zM799,385v1h1v-1zM800,384v1h1v-1zM801,384v1h1v-1zM802,385v1h1v-1zM803,384v1h1v-1zM804,384v1h1v-1zM805,383v2h1v-2zM806,383v1h1v-1zM807,384v1h1v-1zM808,384v1h1v-1zM809,384v1h1v-1zM810,384v1h1v-1zM811,384v1h1v-1zM812,383v1h1v-1zM813,383v1h1v-1zM814,383v1h1v-1zM816,382v1h1v-1zM817,381v1h1v-1zM818,382v1h1v-1zM819,382v1h1v-1zM820,382v1h1v-1zM821,382v1h1v-1zM822,383v1h1v-1zM823,382v1h1v-1zM824,382v1h1v-1zM826,380v1h1v-1zM827,380v1h1v-1zM828,379v1h1v-1zM830,379v1h1v-1zM831,378v1h1v-1zM832,379v1h1v-1zM833,378v1h1v-1zM834,379v1h1v-1zM835,379v1h1v-1zM836,379v1h1v-1zM837,379v1h1v-1zM838,380v1h1v-1zM839,379v1h1v-1zM842,380v1h1v-1zM844,381v1h1v-1zM845,381v1h1v-1zM846,381v1h1v-1zM847,383v1h1v-1zM848,383v1h1v-1zM849,383v1h1v-1zM850,385v1h1v-1zM851,384v1h1v-1zM852,386v1h1v-1zM854,387v1h1v-1zM855,387v1h1v-1zM857,388v1h1v-1zM858,389v1h1v-1zM859,389v1h1v-1zM860,390v1h1v-1zM861,389v1h1v-1zM862,390v1h1v-1zM865,359v2h1v-2zM865,389v1h1v-1zM866,358v3h1v-3zM866,388v1h1v-1zM867,360v3h1v-3zM867,387v1h1v-1zM868,364v3h1v-3zM868,387v1h1v-1zM869,365v4h1v-4zM869,387v1h1v-1zM870,368v4h1v-4zM870,387v1h1v-1zM871,376v3h1v-3zM872,379v3h1v-3zM872,386v1h1v-1z"/>
<path fill="#9bc9e2" d="M551,401v6h1v-6zM552,392v3h1v-3zM552,402v3h1v-3zM553,386v4h1v-4zM553,404v3h1v-3zM554,376v3h1v-3zM554,405v2h1v-2zM555,368v4h1v-4zM555,403v2h1v-2zM556,365v1h1v-1zM556,401v2h1v-2zM557,402v2h1v-2zM558,403v3h1v-3zM559,401v2h1v-2zM560,400v2h1v-2zM561,402v4h1v-4zM562,398v4h1v-4zM563,402v3h1v-3zM564,401v4h1v-4zM565,400v3h1v-3zM566,402v2h1v-2zM567,400v6h1v-6zM568,403v2h1v-2zM569,404v3h1v-3zM570,405v3h1v-3zM571,405v2h1v-2zM572,402v2h1v-2zM573,402v4h1v-4zM574,405v4h1v-4zM575,408v2h1v-2zM576,408v3h1v-3zM577,408v2h1v-2zM578,407v3h1v-3zM579,410v3h1v-3zM580,408v3h1v-3zM581,406v3h1v-3zM582,403v3h1v-3zM583,407v2h1v-2zM584,405v2h1v-2zM585,405v3h1v-3zM586,404v3h1v-3zM587,406v3h1v-3zM588,403v3h1v-3zM589,409v2h1v-2zM590,403v4h1v-4zM591,403v3h1v-3zM592,404v4h1v-4zM593,399v3h1v-3zM594,404v2h1v-2zM595,400v3h1v-3zM596,402v2h1v-2zM597,402v3h1v-3zM598,405v3h1v-3zM599,401v3h1v-3zM600,402v3h1v-3zM601,405v3h1v-3zM602,405v2h1v-2zM603,406v6h1v-6zM604,409v3h1v-3zM605,409v5h1v-5zM606,406v5h1v-5zM607,410v3h1v-3zM608,412v3h1v-3zM609,410v2h1v-2zM610,405v3h1v-3zM611,404v2h1v-2zM612,405v3h1v-3zM613,403v4h1v-4zM614,407v2h1v-2zM615,405v2h1v-2zM616,404v4h1v-4zM617,405v3h1v-3zM618,407v7h1v-7zM619,408v7h1v-7zM620,410v3h1v-3zM621,411v2h1v-2zM622,409v2h1v-2zM623,408v2h1v-2zM624,406v3h1v-3zM625,408v2h1v-2zM626,405v2h1v-2zM627,403v3h1v-3zM628,405v3h1v-3zM629,405v2h1v-2zM630,401v3h1v-3zM631,402v3h1v-3zM632,403v3h1v-3zM633,407v2h1v-2zM634,407v1h1v-1zM635,405v2h1v-2zM636,403v2h1v-2zM637,401v2h1v-2zM638,401v2h1v-2zM639,399v3h1v-3zM640,400v3h1v-3zM641,405v5h1v-5zM642,397v8h1v-8zM643,403v3h1v-3zM644,407v2h1v-2zM645,404v3h1v-3zM646,402v2h1v-2zM647,400v3h1v-3zM648,401v3h1v-3zM649,399v4h1v-4zM650,406v4h1v-4zM651,405v4h1v-4zM652,409v4h1v-4zM653,410v2h1v-2zM654,410v1h1v-1zM655,407v2h1v-2zM656,405v3h1v-3zM657,405v4h1v-4zM658,404v6h1v-6zM659,407v3h1v-3zM660,409v3h1v-3zM661,408v3h1v-3zM662,404v2h1v-2zM663,407v4h1v-4zM664,409v3h1v-3zM665,408v2h1v-2zM666,408v3h1v-3zM667,405v2h1v-2zM668,406v3h1v-3zM669,405v3h1v-3zM670,405v4h1v-4zM671,402v3h1v-3zM672,406v5h1v-5zM673,410v2h1v-2zM674,407v2h1v-2zM675,408v3h1v-3zM676,409v2h1v-2zM677,407v2h1v-2zM678,404v2h1v-2zM679,403v3h1v-3zM680,406v4h1v-4zM681,405v4h1v-4zM682,409v3h1v-3zM683,409v2h1v-2zM684,407v3h1v-3zM685,412v3h1v-3zM686,408v3h1v-3zM687,406v4h1v-4zM688,409v3h1v-3zM689,406v3h1v-3zM690,403v3h1v-3zM691,405v3h1v-3zM692,407v3h1v-3zM693,407v5h1v-5zM694,408v2h1v-2zM695,405v2h1v-2zM696,405v1h1v-1zM697,404v3h1v-3zM698,406v3h1v-3zM699,406v5h1v-5zM700,408v4h1v-4zM701,409v3h1v-3zM702,407v4h1v-4zM703,406v4h1v-4zM704,407v3h1v-3zM705,408v5h1v-5zM706,409v4h1v-4zM707,407v3h1v-3zM708,411v2h1v-2zM709,410v3h1v-3zM710,412v3h1v-3zM711,410v2h1v-2zM712,408v3h1v-3zM713,406v2h1v-2zM714,406v4h1v-4zM715,408v6h1v-6zM716,413v4h1v-4zM717,414v3h1v-3zM718,413v3h1v-3zM719,415v3h1v-3zM720,411v3h1v-3zM721,408v3h1v-3zM722,409v3h1v-3zM723,412v2h1v-2zM724,408v2h1v-2zM725,408v2h1v-2zM726,409v2h1v-2zM727,408v2h1v-2zM728,408v3h1v-3zM729,407v3h1v-3zM730,410v3h1v-3zM731,411v2h1v-2zM732,406v3h1v-3zM733,407v2h1v-2zM734,405v2h1v-2zM735,407v3h1v-3zM736,405v3h1v-3zM737,406v3h1v-3zM738,404v2h1v-2zM739,414v2h1v-2zM740,413v2h1v-2zM741,411v3h1v-3zM742,411v3h1v-3zM743,407v3h1v-3zM744,408v4h1v-4zM745,410v4h1v-4zM746,405v4h1v-4zM747,408v2h1v-2zM748,408v2h1v-2zM749,408v2h1v-2zM750,408v2h1v-2zM751,407v3h1v-3zM752,408v3h1v-3zM753,405v3h1v-3zM754,405v3h1v-3zM755,402v4h1v-4zM756,402v3h1v-3zM757,408v2h1v-2zM758,406v2h1v-2zM759,406v4h1v-4zM760,408v3h1v-3zM761,408v3h1v-3zM762,409v3h1v-3zM763,408v3h1v-3zM764,407v2h1v-2zM765,408v4h1v-4zM766,410v2h1v-2zM767,406v2h1v-2zM768,408v2h1v-2zM769,407v3h1v-3zM770,407v2h1v-2zM771,407v2h1v-2zM772,403v2h1v-2zM773,400v2h1v-2zM774,397v2h1v-2zM775,398v3h1v-3zM776,396v2h1v-2zM777,392v2h1v-2zM778,390v2h1v-2zM779,388v1h1v-1zM780,385v2h1v-2zM781,387v3h1v-3zM782,388v3h1v-3zM783,389v2h1v-2zM784,388v1h1v-1zM785,388v2h1v-2zM786,386v2h1v-2zM787,388v1h1v-1zM788,386v1h1v-1zM789,386v1h1v-1zM790,385v1h1v-1zM791,384v1h1v-1zM792,386v1h1v-1zM793,385v1h1v-1zM794,384v2h1v-2zM795,384v1h1v-1zM796,383v1h1v-1zM797,383v2h1v-2zM798,384v1h1v-1zM799,384v1h1v-1zM800,383v1h1v-1zM801,383v1h1v-1zM802,384v1h1v-1zM803,383v1h1v-1zM804,382v2h1v-2zM805,382v1h1v-1zM806,382v1h1v-1zM807,383v1h1v-1zM809,383v1h1v-1zM810,383v1h1v-1zM811,383v1h1v-1zM812,382v1h1v-1zM814,382v1h1v-1zM815,382v1h1v-1zM816,381v1h1v-1zM817,380v1h1v-1zM818,381v1h1v-1zM819,381v1h1v-1zM820,381v1h1v-1zM821,381v1h1v-1zM822,382v1h1v-1zM823,381v1h1v-1zM824,381v1h1v-1zM825,380v1h1v-1zM827,379v1h1v-1zM828,378v1h1v-1zM829,378v1h1v-1zM830,378v1h1v-1zM831,377v1h1v-1zM832,378v1h1v-1zM834,378v1h1v-1zM835,378v1h1v-1zM836,378v1h1v-1zM837,378v1h1v-1zM838,379v1h1v-1zM839,378v1h1v-1zM840,378v1h1v-1zM841,378v1h1v-1zM842,379v1h1v-1zM843,380v1h1v-1zM847,382v1h1v-1zM848,382v1h1v-1zM850,384v1h1v-1zM852,385v1h1v-1zM853,386v1h1v-1zM855,386v1h1v-1zM856,387v1h1v-1zM857,387v1h1v-1zM858,388v1h1v-1zM860,389v1h1v-1zM861,388v1h1v-1zM862,389v1h1v-1zM863,359v1h1v-1zM863,390v1h1v-1zM864,356v3h1v-3zM864,390v1h1v-1zM865,361v3h1v-3zM865,388v1h1v-1zM866,361v4h1v-4zM867,363v4h1v-4zM868,367v3h1v-3zM869,369v3h1v-3zM869,386v1h1v-1zM870,372v3h1v-3zM871,379v8h1v-8zM872,382v4h1v-4z"/>
<path fill="#a0cde4" d="M552,395v7h1v-7zM553,390v3h1v-3zM553,402v2h1v-2zM554,379v4h1v-4zM554,402v3h1v-3zM555,372v3h1v-3zM555,400v3h1v-3zM556,366v4h1v-4zM556,399v2h1v-2zM557,360v3h1v-3zM557,400v2h1v-2zM558,358v2h1v-2zM558,401v2h1v-2zM559,358v1h1v-1zM559,398v3h1v-3zM560,398v2h1v-2zM561,399v3h1v-3zM562,396v2h1v-2zM563,398v4h1v-4zM564,398v3h1v-3zM565,396v4h1v-4zM566,399v3h1v-3zM567,397v3h1v-3zM568,397v6h1v-6zM569,402v2h1v-2zM570,402v3h1v-3zM571,402v3h1v-3zM572,400v2h1v-2zM573,400v2h1v-2zM574,401v4h1v-4zM575,405v3h1v-3zM576,406v2h1v-2zM577,405v3h1v-3zM578,405v2h1v-2zM579,407v3h1v-3zM580,406v2h1v-2zM581,404v2h1v-2zM582,401v2h1v-2zM583,404v3h1v-3zM584,402v3h1v-3zM585,403v2h1v-2zM586,402v2h1v-2zM587,403v3h1v-3zM588,401v2h1v-2zM589,403v6h1v-6zM590,399v4h1v-4zM591,400v3h1v-3zM592,401v3h1v-3zM593,396v3h1v-3zM594,401v3h1v-3zM595,397v3h1v-3zM596,400v2h1v-2zM597,400v2h1v-2zM598,402v3h1v-3zM599,399v2h1v-2zM600,399v3h1v-3zM601,401v4h1v-4zM602,402v3h1v-3zM603,403v3h1v-3zM604,407v2h1v-2zM605,406v3h1v-3zM606,403v3h1v-3zM607,408v2h1v-2zM608,409v3h1v-3zM609,407v3h1v-3zM610,403v2h1v-2zM611,401v3h1v-3zM612,403v2h1v-2zM613,401v2h1v-2zM614,405v2h1v-2zM615,404v1h1v-1zM616,403v1h1v-1zM617,402v3h1v-3zM618,405v2h1v-2zM619,403v5h1v-5zM620,402v8h1v-8zM621,408v3h1v-3zM622,407v2h1v-2zM623,406v2h1v-2zM624,404v2h1v-2zM625,406v2h1v-2zM626,403v2h1v-2zM627,401v2h1v-2zM628,402v3h1v-3zM629,402v3h1v-3zM630,399v2h1v-2zM631,399v3h1v-3zM632,399v4h1v-4zM633,402v5h1v-5zM634,405v2h1v-2zM635,403v2h1v-2zM636,401v2h1v-2zM637,399v2h1v-2zM638,399v2h1v-2zM639,397v2h1v-2zM640,398v2h1v-2zM641,399v6h1v-6zM642,395v2h1v-2zM643,396v7h1v-7zM644,405v2h1v-2zM645,402v2h1v-2zM646,399v3h1v-3zM647,398v2h1v-2zM648,398v3h1v-3zM649,396v3h1v-3zM650,403v3h1v-3zM651,402v3h1v-3zM652,406v3h1v-3zM653,407v3h1v-3zM654,408v2h1v-2zM655,406v1h1v-1zM656,403v2h1v-2zM657,403v2h1v-2zM658,401v3h1v-3zM659,401v6h1v-6zM660,406v3h1v-3zM661,406v2h1v-2zM662,400v4h1v-4zM663,403v4h1v-4zM664,405v4h1v-4zM665,405v3h1v-3zM666,406v2h1v-2zM667,403v2h1v-2zM668,404v2h1v-2zM669,402v3h1v-3zM670,403v2h1v-2zM671,399v3h1v-3zM672,403v3h1v-3zM673,408v2h1v-2zM674,405v2h1v-2zM675,406v2h1v-2zM676,407v2h1v-2zM677,405v2h1v-2zM678,403v1h1v-1zM679,401v2h1v-2zM680,402v4h1v-4zM681,402v3h1v-3zM682,405v4h1v-4zM683,406v3h1v-3zM684,405v2h1v-2zM685,408v4h1v-4zM686,404v4h1v-4zM687,403v3h1v-3zM688,406v3h1v-3zM689,403v3h1v-3zM690,401v2h1v-2zM691,402v3h1v-3zM692,404v3h1v-3zM693,404v3h1v-3zM694,403v5h1v-5zM695,401v4h1v-4zM696,403v2h1v-2zM697,402v2h1v-2zM698,403v3h1v-3zM699,403v3h1v-3zM700,403v5h1v-5zM701,407v2h1v-2zM702,405v2h1v-2zM703,403v3h1v-3zM704,403v4h1v-4zM705,406v2h1v-2zM706,405v4h1v-4zM707,402v5h1v-5zM708,408v3h1v-3zM709,408v2h1v-2zM710,409v3h1v-3zM711,406v4h1v-4zM712,406v2h1v-2zM713,404v2h1v-2zM714,404v2h1v-2zM715,405v3h1v-3zM716,411v2h1v-2zM717,411v3h1v-3zM718,410v3h1v-3zM719,413v2h1v-2zM720,408v3h1v-3zM721,406v2h1v-2zM722,406v3h1v-3zM723,410v2h1v-2zM724,405v3h1v-3zM725,406v2h1v-2zM726,406v3h1v-3zM727,406v2h1v-2zM728,405v3h1v-3zM729,404v3h1v-3zM730,406v4h1v-4zM731,408v3h1v-3zM732,404v2h1v-2zM733,405v2h1v-2zM734,402v3h1v-3zM735,405v2h1v-2zM736,402v3h1v-3zM737,404v2h1v-2zM738,401v3h1v-3zM739,405v9h1v-9zM740,410v3h1v-3zM741,409v2h1v-2zM742,409v2h1v-2zM743,404v3h1v-3zM744,405v3h1v-3zM745,407v3h1v-3zM746,402v3h1v-3zM747,404v4h1v-4zM748,405v3h1v-3zM749,406v2h1v-2zM750,405v3h1v-3zM751,405v2h1v-2zM752,405v3h1v-3zM753,402v3h1v-3zM754,402v3h1v-3zM755,400v2h1v-2zM756,399v3h1v-3zM757,403v5h1v-5zM758,404v2h1v-2zM759,404v2h1v-2zM760,404v4h1v-4zM761,405v3h1v-3zM762,406v3h1v-3zM763,405v3h1v-3zM764,404v3h1v-3zM765,406v2h1v-2zM766,407v3h1v-3zM767,403v3h1v-3zM768,406v2h1v-2zM769,405v2h1v-2zM770,405v2h1v-2zM771,405v2h1v-2zM772,402v1h1v-1zM773,398v2h1v-2zM774,395v2h1v-2zM775,396v2h1v-2zM776,394v2h1v-2zM777,391v1h1v-1zM778,388v2h1v-2zM779,386v2h1v-2zM780,384v1h1v-1zM781,385v2h1v-2zM782,386v2h1v-2zM783,387v2h1v-2zM784,386v2h1v-2zM785,386v2h1v-2zM786,384v2h1v-2zM787,386v2h1v-2zM788,385v1h1v-1zM789,384v2h1v-2zM790,383v2h1v-2zM791,383v1h1v-1zM792,384v2h1v-2zM793,383v2h1v-2zM794,383v1h1v-1zM795,382v2h1v-2zM796,382v1h1v-1zM797,382v1h1v-1zM798,383v1h1v-1zM799,383v1h1v-1zM800,382v1h1v-1zM801,382v1h1v-1zM802,383v1h1v-1zM803,382v1h1v-1zM804,381v1h1v-1zM805,381v1h1v-1zM806,381v1h1v-1zM807,382v1h1v-1zM808,383v1h1v-1zM809,382v1h1v-1zM811,382v1h1v-1zM812,381v1h1v-1zM813,382v1h1v-1zM814,381v1h1v-1zM815,381v1h1v-1zM818,380v1h1v-1zM819,380v1h1v-1zM820,380v1h1v-1zM821,380v1h1v-1zM822,381v1h1v-1zM825,379v1h1v-1zM826,379v1h1v-1zM829,377v1h1v-1zM830,377v1h1v-1zM833,377v1h1v-1zM834,377v1h1v-1zM835,377v1h1v-1zM836,377v1h1v-1zM837,377v1h1v-1zM838,378v1h1v-1zM840,377v1h1v-1zM841,377v1h1v-1zM842,378v1h1v-1zM843,379v1h1v-1zM844,380v1h1v-1zM845,380v1h1v-1zM846,380v1h1v-1zM847,381v1h1v-1zM848,381v1h1v-1zM849,382v1h1v-1zM851,383v1h1v-1zM853,385v1h1v-1zM854,386v1h1v-1zM856,386v1h1v-1zM859,388v1h1v-1zM860,388v1h1v-1zM861,356v1h1v-1zM862,355v3h1v-3zM862,388v1h1v-1zM863,360v4h1v-4zM863,389v1h1v-1zM864,359v4h1v-4zM864,389v1h1v-1zM865,364v3h1v-3zM866,365v3h1v-3zM866,387v1h1v-1zM867,367v3h1v-3zM867,386v1h1v-1zM868,370v4h1v-4zM868,386v1h1v-1zM869,372v14h1v-14zM870,375v12h1v-12z"/>
<path fill="#a6d2e7" d="M553,393v9h1v-9zM554,383v3h1v-3zM554,400v2h1v-2zM555,375v4h1v-4zM555,397v3h1v-3zM556,370v3h1v-3zM556,396v3h1v-3zM557,363v4h1v-4zM557,398v2h1v-2zM558,360v3h1v-3zM558,399v2h1v-2zM559,359v3h1v-3zM559,397v1h1v-1zM560,359v3h1v-3zM560,396v2h1v-2zM561,358v2h1v-2zM561,397v2h1v-2zM562,394v2h1v-2zM563,395v3h1v-3zM564,394v4h1v-4zM565,393v3h1v-3zM566,397v2h1v-2zM567,395v2h1v-2zM568,395v2h1v-2zM569,400v2h1v-2zM570,400v2h1v-2zM571,399v3h1v-3zM572,397v3h1v-3zM573,399v1h1v-1zM574,399v2h1v-2zM575,402v3h1v-3zM576,404v2h1v-2zM577,403v2h1v-2zM578,402v3h1v-3zM579,404v3h1v-3zM580,403v3h1v-3zM581,401v3h1v-3zM582,399v2h1v-2zM583,401v3h1v-3zM584,399v3h1v-3zM585,401v2h1v-2zM586,400v2h1v-2zM587,401v2h1v-2zM588,399v2h1v-2zM589,401v2h1v-2zM590,397v2h1v-2zM591,396v4h1v-4zM592,399v2h1v-2zM593,394v2h1v-2zM594,397v4h1v-4zM595,393v4h1v-4zM596,398v2h1v-2zM597,399v1h1v-1zM598,400v2h1v-2zM599,397v2h1v-2zM600,397v2h1v-2zM601,398v3h1v-3zM602,399v3h1v-3zM603,401v2h1v-2zM604,401v6h1v-6zM605,404v2h1v-2zM606,401v2h1v-2zM607,403v5h1v-5zM608,407v2h1v-2zM609,405v2h1v-2zM610,401v2h1v-2zM611,399v2h1v-2zM612,400v3h1v-3zM613,399v2h1v-2zM614,402v3h1v-3zM615,402v2h1v-2zM616,402v1h1v-1zM617,400v2h1v-2zM618,403v2h1v-2zM619,402v1h1v-1zM620,400v2h1v-2zM621,404v4h1v-4zM622,405v2h1v-2zM623,404v2h1v-2zM624,402v2h1v-2zM625,404v2h1v-2zM626,401v2h1v-2zM627,399v2h1v-2zM628,400v2h1v-2zM629,399v3h1v-3zM630,396v3h1v-3zM631,397v2h1v-2zM632,397v2h1v-2zM633,400v2h1v-2zM634,403v2h1v-2zM635,402v1h1v-1zM636,400v1h1v-1zM637,397v2h1v-2zM638,397v2h1v-2zM639,395v2h1v-2zM640,396v2h1v-2zM641,397v2h1v-2zM642,393v2h1v-2zM643,393v3h1v-3zM644,403v2h1v-2zM645,401v1h1v-1zM646,398v1h1v-1zM647,396v2h1v-2zM648,396v2h1v-2zM649,394v2h1v-2zM650,399v4h1v-4zM651,399v3h1v-3zM652,404v2h1v-2zM653,404v3h1v-3zM654,407v1h1v-1zM655,404v2h1v-2zM656,402v1h1v-1zM657,401v2h1v-2zM658,399v2h1v-2zM659,399v2h1v-2zM660,403v3h1v-3zM661,403v3h1v-3zM662,398v2h1v-2zM663,401v2h1v-2zM664,402v3h1v-3zM665,402v3h1v-3zM666,404v2h1v-2zM667,401v2h1v-2zM668,402v2h1v-2zM669,400v2h1v-2zM670,400v3h1v-3zM671,397v2h1v-2zM672,400v3h1v-3zM673,404v4h1v-4zM674,403v2h1v-2zM675,404v2h1v-2zM676,404v3h1v-3zM677,403v2h1v-2zM678,401v2h1v-2zM679,400v1h1v-1zM680,400v2h1v-2zM681,399v3h1v-3zM682,402v3h1v-3zM683,402v4h1v-4zM684,402v3h1v-3zM685,405v3h1v-3zM686,401v3h1v-3zM687,400v3h1v-3zM688,403v3h1v-3zM689,401v2h1v-2zM690,398v3h1v-3zM691,400v2h1v-2zM692,402v2h1v-2zM693,401v3h1v-3zM694,400v3h1v-3zM695,398v3h1v-3zM696,402v1h1v-1zM697,401v1h1v-1zM698,401v2h1v-2zM699,400v3h1v-3zM700,400v3h1v-3zM701,402v5h1v-5zM702,402v3h1v-3zM703,401v2h1v-2zM704,400v3h1v-3zM705,404v2h1v-2zM706,403v2h1v-2zM707,400v2h1v-2zM708,405v3h1v-3zM709,407v1h1v-1zM710,407v2h1v-2zM711,404v2h1v-2zM712,403v3h1v-3zM713,402v2h1v-2zM714,402v2h1v-2zM715,402v3h1v-3zM716,407v4h1v-4zM717,409v2h1v-2zM718,408v2h1v-2zM719,411v2h1v-2zM720,406v2h1v-2zM721,403v3h1v-3zM722,404v2h1v-2zM723,408v2h1v-2zM724,403v2h1v-2zM725,404v2h1v-2zM726,404v2h1v-2zM727,404v2h1v-2zM728,404v1h1v-1zM729,402v2h1v-2zM730,403v3h1v-3zM731,406v2h1v-2zM732,401v3h1v-3zM733,403v2h1v-2zM734,400v2h1v-2zM735,403v2h1v-2zM736,401v1h1v-1zM737,402v2h1v-2zM738,400v1h1v-1zM739,402v3h1v-3zM740,404v6h1v-6zM741,406v3h1v-3zM742,407v2h1v-2zM743,402v2h1v-2zM744,403v2h1v-2zM745,404v3h1v-3zM746,400v2h1v-2zM747,401v3h1v-3zM748,403v2h1v-2zM749,404v2h1v-2zM750,403v2h1v-2zM751,403v2h1v-2zM752,403v2h1v-2zM753,400v2h1v-2zM754,400v2h1v-2zM755,398v2h1v-2zM756,397v2h1v-2zM757,400v3h1v-3zM758,398v6h1v-6zM759,403v1h1v-1zM760,402v2h1v-2zM761,402v3h1v-3zM762,403v3h1v-3zM763,403v2h1v-2zM764,402v2h1v-2zM765,404v2h1v-2zM766,404v3h1v-3zM767,400v3h1v-3zM768,404v2h1v-2zM769,403v2h1v-2zM770,403v2h1v-2zM771,404v1h1v-1zM772,400v2h1v-2zM773,397v1h1v-1zM774,394v1h1v-1zM775,395v1h1v-1zM776,393v1h1v-1zM777,389v2h1v-2zM778,387v1h1v-1zM779,385v1h1v-1zM780,383v1h1v-1zM781,384v1h1v-1zM782,384v2h1v-2zM783,386v1h1v-1zM784,384v2h1v-2zM785,385v1h1v-1zM786,383v1h1v-1zM787,385v1h1v-1zM788,383v2h1v-2zM789,383v1h1v-1zM790,382v1h1v-1zM791,381v2h1v-2zM792,383v1h1v-1zM793,382v1h1v-1zM794,382v1h1v-1zM795,381v1h1v-1zM796,381v1h1v-1zM797,381v1h1v-1zM798,382v1h1v-1zM799,382v1h1v-1zM801,381v1h1v-1zM802,382v1h1v-1zM803,381v1h1v-1zM804,380v1h1v-1zM806,380v1h1v-1zM807,381v1h1v-1zM808,382v1h1v-1zM810,382v1h1v-1zM811,381v1h1v-1zM812,380v1h1v-1zM813,381v1h1v-1zM816,380v1h1v-1zM817,379v1h1v-1zM818,379v1h1v-1zM820,379v1h1v-1zM821,379v1h1v-1zM822,380v1h1v-1zM823,380v1h1v-1zM824,380v1h1v-1zM826,378v1h1v-1zM827,378v1h1v-1zM828,377v1h1v-1zM829,376v1h1v-1zM831,376v1h1v-1zM832,377v1h1v-1zM833,376v1h1v-1zM836,376v1h1v-1zM837,376v1h1v-1zM839,377v1h1v-1zM844,379v1h1v-1zM845,379v1h1v-1zM849,381v1h1v-1zM850,383v1h1v-1zM851,382v1h1v-1zM852,384v1h1v-1zM853,384v1h1v-1zM854,385v1h1v-1zM855,385v1h1v-1zM857,386v1h1v-1zM858,356v1h1v-1zM858,387v1h1v-1zM859,355v2h1v-2zM859,387v1h1v-1zM860,356v3h1v-3zM861,357v4h1v-4zM861,387v1h1v-1zM862,358v3h1v-3zM863,364v3h1v-3zM863,388v1h1v-1zM864,363v3h1v-3zM864,388v1h1v-1zM865,367v4h1v-4zM865,387v1h1v-1zM866,368v3h1v-3zM866,386v1h1v-1zM867,370v16h1v-16zM868,374v12h1v-12z"/>
<path fill="#acd6e9" d="M554,386v14h1v-14zM555,379v3h1v-3zM555,395v2h1v-2zM556,373v3h1v-3zM556,394v2h1v-2zM557,367v3h1v-3zM557,396v2h1v-2zM558,363v4h1v-4zM558,397v2h1v-2zM559,362v4h1v-4zM559,395v2h1v-2zM560,362v3h1v-3zM560,394v2h1v-2zM561,360v3h1v-3zM561,396v1h1v-1zM562,357v4h1v-4zM562,392v2h1v-2zM563,354v2h1v-2zM563,393v2h1v-2zM564,353v1h1v-1zM564,392v2h1v-2zM565,390v3h1v-3zM566,393v4h1v-4zM567,392v3h1v-3zM568,393v2h1v-2zM569,397v3h1v-3zM570,398v2h1v-2zM571,397v2h1v-2zM572,395v2h1v-2zM573,397v2h1v-2zM574,397v2h1v-2zM575,399v3h1v-3zM576,402v2h1v-2zM577,401v2h1v-2zM578,400v2h1v-2zM579,402v2h1v-2zM580,401v2h1v-2zM581,399v2h1v-2zM582,396v3h1v-3zM583,399v2h1v-2zM584,397v2h1v-2zM585,399v2h1v-2zM586,398v2h1v-2zM587,399v2h1v-2zM588,397v2h1v-2zM589,399v2h1v-2zM590,395v2h1v-2zM591,394v2h1v-2zM592,397v2h1v-2zM593,391v3h1v-3zM594,395v2h1v-2zM595,391v2h1v-2zM596,395v3h1v-3zM597,397v2h1v-2zM598,399v1h1v-1zM599,395v2h1v-2zM600,395v2h1v-2zM601,396v2h1v-2zM602,396v3h1v-3zM603,399v2h1v-2zM604,399v2h1v-2zM605,400v4h1v-4zM606,399v2h1v-2zM607,400v3h1v-3zM608,405v2h1v-2zM609,403v2h1v-2zM610,399v2h1v-2zM611,397v2h1v-2zM612,398v2h1v-2zM613,396v3h1v-3zM614,399v3h1v-3zM615,399v3h1v-3zM616,400v2h1v-2zM617,399v1h1v-1zM618,400v3h1v-3zM619,400v2h1v-2zM620,398v2h1v-2zM621,398v6h1v-6zM622,400v5h1v-5zM623,400v4h1v-4zM624,400v2h1v-2zM625,402v2h1v-2zM626,399v2h1v-2zM627,397v2h1v-2zM628,398v2h1v-2zM629,397v2h1v-2zM630,394v2h1v-2zM631,395v2h1v-2zM632,395v2h1v-2zM633,397v3h1v-3zM634,400v3h1v-3zM635,401v1h1v-1zM636,398v2h1v-2zM637,396v1h1v-1zM638,396v1h1v-1zM639,394v1h1v-1zM640,394v2h1v-2zM641,395v2h1v-2zM642,391v2h1v-2zM643,391v2h1v-2zM644,401v2h1v-2zM645,399v2h1v-2zM646,396v2h1v-2zM647,394v2h1v-2zM648,394v2h1v-2zM649,392v2h1v-2zM650,397v2h1v-2zM651,396v3h1v-3zM652,401v3h1v-3zM653,401v3h1v-3zM654,404v3h1v-3zM655,403v1h1v-1zM656,401v1h1v-1zM657,400v1h1v-1zM658,398v1h1v-1zM659,397v2h1v-2zM660,399v4h1v-4zM661,401v2h1v-2zM662,396v2h1v-2zM663,398v3h1v-3zM664,399v3h1v-3zM665,398v4h1v-4zM666,402v2h1v-2zM667,399v2h1v-2zM668,400v2h1v-2zM669,398v2h1v-2zM670,398v2h1v-2zM671,395v2h1v-2zM672,398v2h1v-2zM673,401v3h1v-3zM674,398v5h1v-5zM675,403v1h1v-1zM676,402v2h1v-2zM677,401v2h1v-2zM678,399v2h1v-2zM679,399v1h1v-1zM680,398v2h1v-2zM681,396v3h1v-3zM682,400v2h1v-2zM683,399v3h1v-3zM684,398v4h1v-4zM685,403v2h1v-2zM686,399v2h1v-2zM687,397v3h1v-3zM688,400v3h1v-3zM689,398v3h1v-3zM690,395v3h1v-3zM691,398v2h1v-2zM692,400v2h1v-2zM693,399v2h1v-2zM694,398v2h1v-2zM695,395v3h1v-3zM696,400v2h1v-2zM697,400v1h1v-1zM698,399v2h1v-2zM699,398v2h1v-2zM700,398v2h1v-2zM701,399v3h1v-3zM702,398v4h1v-4zM703,397v4h1v-4zM704,398v2h1v-2zM705,401v3h1v-3zM706,401v2h1v-2zM707,398v2h1v-2zM708,402v3h1v-3zM709,404v3h1v-3zM710,405v2h1v-2zM711,402v2h1v-2zM712,401v2h1v-2zM713,399v3h1v-3zM714,401v1h1v-1zM715,400v2h1v-2zM716,403v4h1v-4zM717,406v3h1v-3zM718,406v2h1v-2zM719,408v3h1v-3zM720,403v3h1v-3zM721,401v2h1v-2zM722,402v2h1v-2zM723,405v3h1v-3zM724,400v3h1v-3zM725,402v2h1v-2zM726,402v2h1v-2zM727,402v2h1v-2zM728,403v1h1v-1zM729,401v1h1v-1zM730,401v2h1v-2zM731,402v4h1v-4zM732,398v3h1v-3zM733,401v2h1v-2zM734,399v1h1v-1zM735,401v2h1v-2zM736,399v2h1v-2zM737,400v2h1v-2zM738,397v3h1v-3zM739,400v2h1v-2zM740,399v5h1v-5zM741,401v5h1v-5zM742,405v2h1v-2zM743,398v4h1v-4zM744,401v2h1v-2zM745,402v2h1v-2zM746,398v2h1v-2zM747,399v2h1v-2zM748,400v3h1v-3zM749,401v3h1v-3zM750,401v2h1v-2zM751,400v3h1v-3zM752,401v2h1v-2zM753,399v1h1v-1zM754,398v2h1v-2zM755,396v2h1v-2zM756,395v2h1v-2zM757,398v2h1v-2zM758,396v2h1v-2zM759,401v2h1v-2zM760,400v2h1v-2zM761,399v3h1v-3zM762,401v2h1v-2zM763,400v3h1v-3zM764,399v3h1v-3zM765,402v2h1v-2zM766,402v2h1v-2zM767,398v2h1v-2zM768,402v2h1v-2zM769,402v1h1v-1zM770,401v2h1v-2zM771,402v2h1v-2zM772,399v1h1v-1zM773,396v1h1v-1zM774,393v1h1v-1zM775,394v1h1v-1zM776,391v2h1v-2zM777,388v1h1v-1zM778,386v1h1v-1zM779,383v2h1v-2zM780,381v2h1v-2zM781,383v1h1v-1zM782,383v1h1v-1zM783,384v2h1v-2zM784,382v2h1v-2zM785,383v2h1v-2zM786,382v1h1v-1zM787,383v2h1v-2zM788,382v1h1v-1zM789,382v1h1v-1zM790,381v1h1v-1zM791,380v1h1v-1zM792,382v1h1v-1zM793,381v1h1v-1zM794,381v1h1v-1zM795,380v1h1v-1zM796,380v1h1v-1zM797,380v1h1v-1zM798,381v1h1v-1zM800,381v1h1v-1zM801,380v1h1v-1zM802,381v1h1v-1zM803,380v1h1v-1zM805,380v1h1v-1zM807,380v1h1v-1zM808,381v1h1v-1zM809,381v1h1v-1zM810,381v1h1v-1zM812,379v1h1v-1zM814,380v1h1v-1zM815,380v1h1v-1zM816,379v1h1v-1zM817,378v1h1v-1zM819,379v1h1v-1zM823,379v1h1v-1zM824,379v1h1v-1zM825,378v1h1v-1zM827,377v1h1v-1zM830,376v1h1v-1zM831,375v1h1v-1zM832,376v1h1v-1zM834,376v1h1v-1zM835,376v1h1v-1zM838,377v1h1v-1zM839,376v1h1v-1zM840,376v1h1v-1zM841,376v1h1v-1zM842,377v1h1v-1zM843,378v1h1v-1zM846,379v1h1v-1zM847,380v1h1v-1zM848,380v1h1v-1zM850,382v1h1v-1zM852,383v1h1v-1zM854,353v1h1v-1zM855,355v2h1v-2zM856,353v3h1v-3zM856,385v1h1v-1zM857,355v4h1v-4zM858,357v3h1v-3zM859,357v3h1v-3zM860,359v3h1v-3zM860,387v1h1v-1zM861,361v3h1v-3zM861,386v1h1v-1zM862,361v4h1v-4zM862,387v1h1v-1zM863,367v3h1v-3zM863,387v1h1v-1zM864,366v3h1v-3zM865,371v16h1v-16zM866,371v15h1v-15z"/>
<path fill="#b2d9eb" d="M555,382v13h1v-13zM556,376v18h1v-18zM557,370v4h1v-4zM557,394v2h1v-2zM558,367v3h1v-3zM558,396v1h1v-1zM559,366v3h1v-3zM559,393v2h1v-2zM560,365v4h1v-4zM560,392v2h1v-2zM561,363v3h1v-3zM561,394v2h1v-2zM562,361v3h1v-3zM562,391v1h1v-1zM563,356v4h1v-4zM563,391v2h1v-2zM564,354v3h1v-3zM564,390v2h1v-2zM565,353v3h1v-3zM565,388v2h1v-2zM566,352v2h1v-2zM566,390v3h1v-3zM567,389v3h1v-3zM568,390v3h1v-3zM569,393v4h1v-4zM570,396v2h1v-2zM571,395v2h1v-2zM572,393v2h1v-2zM573,395v2h1v-2zM574,396v1h1v-1zM575,396v3h1v-3zM576,398v4h1v-4zM577,399v2h1v-2zM578,399v1h1v-1zM579,400v2h1v-2zM580,399v2h1v-2zM581,396v3h1v-3zM582,394v2h1v-2zM583,397v2h1v-2zM584,395v2h1v-2zM585,396v3h1v-3zM586,395v3h1v-3zM587,398v1h1v-1zM588,395v2h1v-2zM589,397v2h1v-2zM590,393v2h1v-2zM591,393v1h1v-1zM592,393v4h1v-4zM593,389v2h1v-2zM594,393v2h1v-2zM595,390v1h1v-1zM596,391v4h1v-4zM597,394v3h1v-3zM598,397v2h1v-2zM599,393v2h1v-2zM600,393v2h1v-2zM601,394v2h1v-2zM602,394v2h1v-2zM603,395v4h1v-4zM604,397v2h1v-2zM605,396v4h1v-4zM606,393v6h1v-6zM607,398v2h1v-2zM608,402v3h1v-3zM609,401v2h1v-2zM610,396v3h1v-3zM611,395v2h1v-2zM612,396v2h1v-2zM613,394v2h1v-2zM614,397v2h1v-2zM615,396v3h1v-3zM616,399v1h1v-1zM617,398v1h1v-1zM618,398v2h1v-2zM619,398v2h1v-2zM620,397v1h1v-1zM621,396v2h1v-2zM622,395v5h1v-5zM623,395v5h1v-5zM624,396v4h1v-4zM625,400v2h1v-2zM626,397v2h1v-2zM627,395v2h1v-2zM628,397v1h1v-1zM629,396v1h1v-1zM630,393v1h1v-1zM631,393v2h1v-2zM632,393v2h1v-2zM633,394v3h1v-3zM634,397v3h1v-3zM635,398v3h1v-3zM636,396v2h1v-2zM637,394v2h1v-2zM638,394v2h1v-2zM639,392v2h1v-2zM640,393v1h1v-1zM641,394v1h1v-1zM642,389v2h1v-2zM643,390v1h1v-1zM644,397v4h1v-4zM645,395v4h1v-4zM646,392v4h1v-4zM647,392v2h1v-2zM648,392v2h1v-2zM649,390v2h1v-2zM650,394v3h1v-3zM651,394v2h1v-2zM652,398v3h1v-3zM653,398v3h1v-3zM654,400v4h1v-4zM655,398v5h1v-5zM656,399v2h1v-2zM657,399v1h1v-1zM658,396v2h1v-2zM659,395v2h1v-2zM660,396v3h1v-3zM661,398v3h1v-3zM662,392v4h1v-4zM663,396v2h1v-2zM664,396v3h1v-3zM665,395v3h1v-3zM666,399v3h1v-3zM667,396v3h1v-3zM668,398v2h1v-2zM669,397v1h1v-1zM670,397v1h1v-1zM671,393v2h1v-2zM672,396v2h1v-2zM673,398v3h1v-3zM674,395v3h1v-3zM675,401v2h1v-2zM676,401v1h1v-1zM677,399v2h1v-2zM678,397v2h1v-2zM679,397v2h1v-2zM680,397v1h1v-1zM681,395v1h1v-1zM682,397v3h1v-3zM683,397v2h1v-2zM684,395v3h1v-3zM685,401v2h1v-2zM686,398v1h1v-1zM687,395v2h1v-2zM688,397v3h1v-3zM689,395v3h1v-3zM690,392v3h1v-3zM691,396v2h1v-2zM692,397v3h1v-3zM693,397v2h1v-2zM694,396v2h1v-2zM695,393v2h1v-2zM696,395v5h1v-5zM697,398v2h1v-2zM698,398v1h1v-1zM699,396v2h1v-2zM700,396v2h1v-2zM701,397v2h1v-2zM702,395v3h1v-3zM703,394v3h1v-3zM704,395v3h1v-3zM705,398v3h1v-3zM706,398v3h1v-3zM707,396v2h1v-2zM708,398v4h1v-4zM709,401v3h1v-3zM710,403v2h1v-2zM711,401v1h1v-1zM712,399v2h1v-2zM713,397v2h1v-2zM714,398v3h1v-3zM715,399v1h1v-1zM716,401v2h1v-2zM717,401v5h1v-5zM718,403v3h1v-3zM719,406v2h1v-2zM720,401v2h1v-2zM721,398v3h1v-3zM722,399v3h1v-3zM723,402v3h1v-3zM724,398v2h1v-2zM725,399v3h1v-3zM726,400v2h1v-2zM727,400v2h1v-2zM728,401v2h1v-2zM729,399v2h1v-2zM730,399v2h1v-2zM731,400v2h1v-2zM732,395v3h1v-3zM733,398v3h1v-3zM734,396v3h1v-3zM735,399v2h1v-2zM736,396v3h1v-3zM737,398v2h1v-2zM738,395v2h1v-2zM739,398v2h1v-2zM740,397v2h1v-2zM741,396v5h1v-5zM742,400v5h1v-5zM743,394v4h1v-4zM744,399v2h1v-2zM745,400v2h1v-2zM746,395v3h1v-3zM747,397v2h1v-2zM748,397v3h1v-3zM749,399v2h1v-2zM750,399v2h1v-2zM751,399v1h1v-1zM752,399v2h1v-2zM753,396v3h1v-3zM754,396v2h1v-2zM755,394v2h1v-2zM756,394v1h1v-1zM757,395v3h1v-3zM758,394v2h1v-2zM759,395v6h1v-6zM760,399v1h1v-1zM761,397v2h1v-2zM762,398v3h1v-3zM763,398v2h1v-2zM764,397v2h1v-2zM765,400v2h1v-2zM766,401v1h1v-1zM767,397v1h1v-1zM768,399v3h1v-3zM769,400v2h1v-2zM770,399v2h1v-2zM771,401v1h1v-1zM772,397v2h1v-2zM773,394v2h1v-2zM774,391v2h1v-2zM775,393v1h1v-1zM776,390v1h1v-1zM777,387v1h1v-1zM778,384v2h1v-2zM779,382v1h1v-1zM780,380v1h1v-1zM781,382v1h1v-1zM782,381v2h1v-2zM783,382v2h1v-2zM784,381v1h1v-1zM785,382v1h1v-1zM786,380v2h1v-2zM787,382v1h1v-1zM788,381v1h1v-1zM789,381v1h1v-1zM790,380v1h1v-1zM791,379v1h1v-1zM792,381v1h1v-1zM793,380v1h1v-1zM794,380v1h1v-1zM795,379v1h1v-1zM796,379v1h1v-1zM797,379v1h1v-1zM798,380v1h1v-1zM799,381v1h1v-1zM800,380v1h1v-1zM801,379v1h1v-1zM802,380v1h1v-1zM803,379v1h1v-1zM804,379v1h1v-1zM805,379v1h1v-1zM806,379v1h1v-1zM807,379v1h1v-1zM811,380v1h1v-1zM813,380v1h1v-1zM814,379v1h1v-1zM815,379v1h1v-1zM818,378v1h1v-1zM819,378v1h1v-1zM820,378v1h1v-1zM821,378v1h1v-1zM822,379v1h1v-1zM823,378v1h1v-1zM826,377v1h1v-1zM828,376v1h1v-1zM829,375v1h1v-1zM830,375v1h1v-1zM833,375v1h1v-1zM835,375v1h1v-1zM836,375v1h1v-1zM837,375v1h1v-1zM838,376v1h1v-1zM842,376v1h1v-1zM844,378v1h1v-1zM845,378v1h1v-1zM848,379v1h1v-1zM849,380v1h1v-1zM850,353v1h1v-1zM851,355v2h1v-2zM851,381v1h1v-1zM852,356v3h1v-3zM853,356v3h1v-3zM853,383v1h1v-1zM854,354v3h1v-3zM854,384v1h1v-1zM855,357v3h1v-3zM855,384v1h1v-1zM856,356v3h1v-3zM856,384v1h1v-1zM857,359v3h1v-3zM857,385v1h1v-1zM858,360v4h1v-4zM858,386v1h1v-1zM859,360v4h1v-4zM859,386v1h1v-1zM860,362v3h1v-3zM861,364v3h1v-3zM862,365v3h1v-3zM863,370v17h1v-17zM864,369v19h1v-19z"/>
<path fill="#b7dcec" d="M557,374v20h1v-20zM558,370v26h1v-26zM559,369v3h1v-3zM559,391v2h1v-2zM560,369v3h1v-3zM560,391v1h1v-1zM561,366v4h1v-4zM561,392v2h1v-2zM562,364v3h1v-3zM562,389v2h1v-2zM563,360v3h1v-3zM563,390v1h1v-1zM564,357v4h1v-4zM564,388v2h1v-2zM565,356v3h1v-3zM565,386v2h1v-2zM566,354v3h1v-3zM566,387v3h1v-3zM567,352v4h1v-4zM567,386v3h1v-3zM568,349v3h1v-3zM568,386v4h1v-4zM569,348v1h1v-1zM569,391v2h1v-2zM570,391v5h1v-5zM571,394v1h1v-1zM572,391v2h1v-2zM573,392v3h1v-3zM574,394v2h1v-2zM575,394v2h1v-2zM576,395v3h1v-3zM577,396v3h1v-3zM578,397v2h1v-2zM579,398v2h1v-2zM580,397v2h1v-2zM581,394v2h1v-2zM582,392v2h1v-2zM583,395v2h1v-2zM584,393v2h1v-2zM585,394v2h1v-2zM586,393v2h1v-2zM587,395v3h1v-3zM588,393v2h1v-2zM589,396v1h1v-1zM590,391v2h1v-2zM591,391v2h1v-2zM592,391v2h1v-2zM593,387v2h1v-2zM594,391v2h1v-2zM595,388v2h1v-2zM596,389v2h1v-2zM597,392v2h1v-2zM598,395v2h1v-2zM599,392v1h1v-1zM600,391v2h1v-2zM601,392v2h1v-2zM602,392v2h1v-2zM603,393v2h1v-2zM604,394v3h1v-3zM605,395v1h1v-1zM606,391v2h1v-2zM607,396v2h1v-2zM608,398v4h1v-4zM609,396v5h1v-5zM610,391v5h1v-5zM611,390v5h1v-5zM612,394v2h1v-2zM613,392v2h1v-2zM614,396v1h1v-1zM615,394v2h1v-2zM616,395v4h1v-4zM617,396v2h1v-2zM618,396v2h1v-2zM619,395v3h1v-3zM620,395v2h1v-2zM621,395v1h1v-1zM622,393v2h1v-2zM623,392v3h1v-3zM624,391v5h1v-5zM625,398v2h1v-2zM626,395v2h1v-2zM627,392v3h1v-3zM628,394v3h1v-3zM629,394v2h1v-2zM630,391v2h1v-2zM631,391v2h1v-2zM632,391v2h1v-2zM633,392v2h1v-2zM634,394v3h1v-3zM635,394v4h1v-4zM636,393v3h1v-3zM637,392v2h1v-2zM638,393v1h1v-1zM639,390v2h1v-2zM640,391v2h1v-2zM641,392v2h1v-2zM642,388v1h1v-1zM643,388v2h1v-2zM644,391v6h1v-6zM645,390v5h1v-5zM646,388v4h1v-4zM647,388v4h1v-4zM648,390v2h1v-2zM649,388v2h1v-2zM650,392v2h1v-2zM651,391v3h1v-3zM652,395v3h1v-3zM653,396v2h1v-2zM654,398v2h1v-2zM655,395v3h1v-3zM656,394v5h1v-5zM657,397v2h1v-2zM658,395v1h1v-1zM659,393v2h1v-2zM660,394v2h1v-2zM661,394v4h1v-4zM662,390v2h1v-2zM663,394v2h1v-2zM664,394v2h1v-2zM665,393v2h1v-2zM666,394v5h1v-5zM667,391v5h1v-5zM668,396v2h1v-2zM669,395v2h1v-2zM670,395v2h1v-2zM671,391v2h1v-2zM672,394v2h1v-2zM673,396v2h1v-2zM674,393v2h1v-2zM675,395v6h1v-6zM676,399v2h1v-2zM677,397v2h1v-2zM678,395v2h1v-2zM679,394v3h1v-3zM680,396v1h1v-1zM681,394v1h1v-1zM682,394v3h1v-3zM683,394v3h1v-3zM684,393v2h1v-2zM685,399v2h1v-2zM686,395v3h1v-3zM687,393v2h1v-2zM688,395v2h1v-2zM689,392v3h1v-3zM690,389v3h1v-3zM691,393v3h1v-3zM692,395v2h1v-2zM693,395v2h1v-2zM694,393v3h1v-3zM695,390v3h1v-3zM696,393v2h1v-2zM697,396v2h1v-2zM698,397v1h1v-1zM699,395v1h1v-1zM700,394v2h1v-2zM701,395v2h1v-2zM702,393v2h1v-2zM703,392v2h1v-2zM704,391v4h1v-4zM705,395v3h1v-3zM706,395v3h1v-3zM707,392v4h1v-4zM708,396v2h1v-2zM709,397v4h1v-4zM710,401v2h1v-2zM711,399v2h1v-2zM712,398v1h1v-1zM713,395v2h1v-2zM714,396v2h1v-2zM715,397v2h1v-2zM716,398v3h1v-3zM717,398v3h1v-3zM718,398v5h1v-5zM719,403v3h1v-3zM720,399v2h1v-2zM721,396v2h1v-2zM722,397v2h1v-2zM723,400v2h1v-2zM724,396v2h1v-2zM725,396v3h1v-3zM726,398v2h1v-2zM727,398v2h1v-2zM728,399v2h1v-2zM729,397v2h1v-2zM730,397v2h1v-2zM731,397v3h1v-3zM732,393v2h1v-2zM733,395v3h1v-3zM734,393v3h1v-3zM735,397v2h1v-2zM736,395v1h1v-1zM737,396v2h1v-2zM738,393v2h1v-2zM739,396v2h1v-2zM740,395v2h1v-2zM741,394v2h1v-2zM742,394v6h1v-6zM743,390v4h1v-4zM744,394v5h1v-5zM745,397v3h1v-3zM746,392v3h1v-3zM747,394v3h1v-3zM748,395v2h1v-2zM749,396v3h1v-3zM750,397v2h1v-2zM751,396v3h1v-3zM752,397v2h1v-2zM753,394v2h1v-2zM754,394v2h1v-2zM755,392v2h1v-2zM756,392v2h1v-2zM757,394v1h1v-1zM758,392v2h1v-2zM759,393v2h1v-2zM760,396v3h1v-3zM761,396v1h1v-1zM762,396v2h1v-2zM763,395v3h1v-3zM764,394v3h1v-3zM765,398v2h1v-2zM766,399v2h1v-2zM767,395v2h1v-2zM768,397v2h1v-2zM769,397v3h1v-3zM770,397v2h1v-2zM771,399v2h1v-2zM772,395v2h1v-2zM773,391v3h1v-3zM774,388v3h1v-3zM775,392v1h1v-1zM776,389v1h1v-1zM777,386v1h1v-1zM778,383v1h1v-1zM779,381v1h1v-1zM780,379v1h1v-1zM781,381v1h1v-1zM782,380v1h1v-1zM783,381v1h1v-1zM784,379v2h1v-2zM785,380v2h1v-2zM786,378v2h1v-2zM787,381v1h1v-1zM788,379v2h1v-2zM789,380v1h1v-1zM790,379v1h1v-1zM791,378v1h1v-1zM792,380v1h1v-1zM793,379v1h1v-1zM794,379v1h1v-1zM795,378v1h1v-1zM796,378v1h1v-1zM797,378v1h1v-1zM798,378v2h1v-2zM799,380v1h1v-1zM800,379v1h1v-1zM804,378v1h1v-1zM805,378v1h1v-1zM806,378v1h1v-1zM807,378v1h1v-1zM808,380v1h1v-1zM809,380v1h1v-1zM810,380v1h1v-1zM811,379v1h1v-1zM812,378v1h1v-1zM813,379v1h1v-1zM816,378v1h1v-1zM817,377v1h1v-1zM818,377v1h1v-1zM820,377v1h1v-1zM821,377v1h1v-1zM822,378v1h1v-1zM824,378v1h1v-1zM825,377v1h1v-1zM827,376v1h1v-1zM831,374v1h1v-1zM832,375v1h1v-1zM833,374v1h1v-1zM834,375v1h1v-1zM836,374v1h1v-1zM837,374v1h1v-1zM839,375v1h1v-1zM840,375v1h1v-1zM841,375v1h1v-1zM843,377v1h1v-1zM846,351v1h1v-1zM846,378v1h1v-1zM847,352v2h1v-2zM847,379v1h1v-1zM848,355v2h1v-2zM849,355v3h1v-3zM849,379v1h1v-1zM850,354v3h1v-3zM850,381v1h1v-1zM851,357v3h1v-3zM852,359v3h1v-3zM852,382v1h1v-1zM853,359v4h1v-4zM853,382v1h1v-1zM854,357v4h1v-4zM855,360v4h1v-4zM856,359v3h1v-3zM857,362v3h1v-3zM857,384v1h1v-1zM858,364v3h1v-3zM859,364v3h1v-3zM860,365v4h1v-4zM860,386v1h1v-1zM861,367v19h1v-19zM862,368v19h1v-19z"/>
<path fill="#bddfee" d="M559,372v19h1v-19zM560,372v19h1v-19zM561,370v22h1v-22zM562,367v4h1v-4zM562,387v2h1v-2zM563,363v3h1v-3zM563,388v2h1v-2zM564,361v3h1v-3zM564,387v1h1v-1zM565,359v4h1v-4zM565,385v1h1v-1zM566,357v4h1v-4zM566,385v2h1v-2zM567,356v3h1v-3zM567,383v3h1v-3zM568,352v3h1v-3zM568,383v3h1v-3zM569,349v4h1v-4zM569,389v2h1v-2zM570,348v3h1v-3zM570,389v2h1v-2zM571,344v2h1v-2zM571,391v3h1v-3zM572,345v1h1v-1zM572,389v2h1v-2zM573,390v2h1v-2zM574,392v2h1v-2zM575,393v1h1v-1zM576,393v2h1v-2zM577,393v3h1v-3zM578,394v3h1v-3zM579,396v2h1v-2zM580,395v2h1v-2zM581,393v1h1v-1zM582,390v2h1v-2zM583,393v2h1v-2zM584,391v2h1v-2zM585,392v2h1v-2zM586,390v3h1v-3zM587,393v2h1v-2zM588,390v3h1v-3zM589,394v2h1v-2zM590,389v2h1v-2zM591,389v2h1v-2zM592,390v1h1v-1zM593,385v2h1v-2zM594,389v2h1v-2zM595,385v3h1v-3zM596,387v2h1v-2zM597,388v4h1v-4zM598,394v1h1v-1zM599,390v2h1v-2zM600,390v1h1v-1zM601,391v1h1v-1zM602,390v2h1v-2zM603,391v2h1v-2zM604,391v3h1v-3zM605,393v2h1v-2zM606,390v1h1v-1zM607,391v5h1v-5zM608,396v2h1v-2zM609,393v3h1v-3zM610,389v2h1v-2zM611,387v3h1v-3zM612,392v2h1v-2zM613,390v2h1v-2zM614,394v2h1v-2zM615,392v2h1v-2zM616,393v2h1v-2zM617,395v1h1v-1zM618,395v1h1v-1zM619,393v2h1v-2zM620,392v3h1v-3zM621,393v2h1v-2zM622,392v1h1v-1zM623,390v2h1v-2zM624,388v3h1v-3zM625,395v3h1v-3zM626,392v3h1v-3zM627,390v2h1v-2zM628,392v2h1v-2zM629,392v2h1v-2zM630,389v2h1v-2zM631,389v2h1v-2zM632,389v2h1v-2zM633,391v1h1v-1zM634,392v2h1v-2zM635,392v2h1v-2zM636,390v3h1v-3zM637,389v3h1v-3zM638,391v2h1v-2zM639,389v1h1v-1zM640,389v2h1v-2zM641,390v2h1v-2zM642,386v2h1v-2zM643,386v2h1v-2zM644,389v2h1v-2zM645,387v3h1v-3zM646,384v4h1v-4zM647,384v4h1v-4zM648,388v2h1v-2zM649,386v2h1v-2zM650,390v2h1v-2zM651,389v2h1v-2zM652,393v2h1v-2zM653,394v2h1v-2zM654,395v3h1v-3zM655,393v2h1v-2zM656,392v2h1v-2zM657,395v2h1v-2zM658,394v1h1v-1zM659,392v1h1v-1zM660,392v2h1v-2zM661,392v2h1v-2zM662,388v2h1v-2zM663,391v3h1v-3zM664,392v2h1v-2zM665,390v3h1v-3zM666,392v2h1v-2zM667,388v3h1v-3zM668,393v3h1v-3zM669,393v2h1v-2zM670,393v2h1v-2zM671,390v1h1v-1zM672,392v2h1v-2zM673,394v2h1v-2zM674,391v2h1v-2zM675,393v2h1v-2zM676,398v1h1v-1zM677,396v1h1v-1zM678,393v2h1v-2zM679,393v1h1v-1zM680,395v1h1v-1zM681,393v1h1v-1zM682,392v2h1v-2zM683,392v2h1v-2zM684,390v3h1v-3zM685,395v4h1v-4zM686,391v4h1v-4zM687,389v4h1v-4zM688,393v2h1v-2zM689,390v2h1v-2zM690,387v2h1v-2zM691,390v3h1v-3zM692,393v2h1v-2zM693,393v2h1v-2zM694,392v1h1v-1zM695,389v1h1v-1zM696,390v3h1v-3zM697,391v5h1v-5zM698,395v2h1v-2zM699,394v1h1v-1zM700,393v1h1v-1zM701,393v2h1v-2zM702,392v1h1v-1zM703,390v2h1v-2zM704,389v2h1v-2zM705,393v2h1v-2zM706,392v3h1v-3zM707,389v3h1v-3zM708,394v2h1v-2zM709,395v2h1v-2zM710,398v3h1v-3zM711,396v3h1v-3zM712,396v2h1v-2zM713,394v1h1v-1zM714,394v2h1v-2zM715,396v1h1v-1zM716,397v1h1v-1zM717,396v2h1v-2zM718,395v3h1v-3zM719,401v2h1v-2zM720,396v3h1v-3zM721,393v3h1v-3zM722,395v2h1v-2zM723,398v2h1v-2zM724,394v2h1v-2zM725,394v2h1v-2zM726,396v2h1v-2zM727,396v2h1v-2zM728,397v2h1v-2zM729,396v1h1v-1zM730,396v1h1v-1zM731,396v1h1v-1zM732,392v1h1v-1zM733,393v2h1v-2zM734,391v2h1v-2zM735,396v1h1v-1zM736,393v2h1v-2zM737,394v2h1v-2zM738,391v2h1v-2zM739,394v2h1v-2zM740,394v1h1v-1zM741,393v1h1v-1zM742,392v2h1v-2zM743,388v2h1v-2zM744,391v3h1v-3zM745,395v2h1v-2zM746,389v3h1v-3zM747,391v3h1v-3zM748,393v2h1v-2zM749,393v3h1v-3zM750,394v3h1v-3zM751,394v2h1v-2zM752,395v2h1v-2zM753,392v2h1v-2zM754,392v2h1v-2zM755,391v1h1v-1zM756,390v2h1v-2zM757,392v2h1v-2zM758,390v2h1v-2zM759,391v2h1v-2zM760,391v5h1v-5zM761,394v2h1v-2zM762,394v2h1v-2zM763,393v2h1v-2zM764,392v2h1v-2zM765,395v3h1v-3zM766,397v2h1v-2zM767,393v2h1v-2zM768,395v2h1v-2zM769,395v2h1v-2zM770,396v1h1v-1zM771,397v2h1v-2zM772,393v2h1v-2zM773,390v1h1v-1zM774,387v1h1v-1zM775,390v2h1v-2zM776,388v1h1v-1zM777,384v2h1v-2zM778,382v1h1v-1zM779,380v1h1v-1zM780,377v2h1v-2zM781,380v1h1v-1zM782,379v1h1v-1zM783,379v2h1v-2zM784,378v1h1v-1zM785,379v1h1v-1zM786,377v1h1v-1zM787,379v2h1v-2zM788,378v1h1v-1zM789,379v1h1v-1zM790,378v1h1v-1zM791,377v1h1v-1zM792,379v1h1v-1zM794,378v1h1v-1zM795,377v1h1v-1zM796,377v1h1v-1zM797,377v1h1v-1zM799,379v1h1v-1zM801,378v1h1v-1zM802,379v1h1v-1zM803,378v1h1v-1zM804,377v1h1v-1zM805,377v1h1v-1zM806,377v1h1v-1zM808,379v1h1v-1zM809,379v1h1v-1zM810,379v1h1v-1zM812,377v1h1v-1zM813,378v1h1v-1zM814,378v1h1v-1zM815,378v1h1v-1zM819,377v1h1v-1zM823,377v1h1v-1zM825,376v1h1v-1zM826,376v1h1v-1zM828,375v1h1v-1zM829,374v1h1v-1zM830,374v1h1v-1zM834,374v1h1v-1zM835,374v1h1v-1zM838,375v1h1v-1zM840,374v1h1v-1zM842,353v1h1v-1zM842,375v1h1v-1zM843,354v2h1v-2zM843,376v1h1v-1zM844,352v2h1v-2zM844,377v1h1v-1zM845,351v3h1v-3zM845,377v1h1v-1zM846,352v3h1v-3zM847,354v3h1v-3zM848,357v4h1v-4zM848,378v1h1v-1zM849,358v4h1v-4zM850,357v4h1v-4zM850,380v1h1v-1zM851,360v3h1v-3zM851,380v1h1v-1zM852,362v3h1v-3zM853,363v3h1v-3zM854,361v3h1v-3zM854,383v1h1v-1zM855,364v3h1v-3zM855,383v1h1v-1zM856,362v4h1v-4zM856,383v1h1v-1zM857,365v4h1v-4zM858,367v3h1v-3zM858,385v1h1v-1zM859,367v19h1v-19zM860,369v17h1v-17z"/>
<path fill="#c3e2ef" d="M562,371v16h1v-16zM563,366v22h1v-22zM564,364v23h1v-23zM565,363v3h1v-3zM565,384v1h1v-1zM566,361v3h1v-3zM566,384v1h1v-1zM567,359v4h1v-4zM567,382v1h1v-1zM568,355v3h1v-3zM568,381v2h1v-2zM569,353v3h1v-3zM569,386v3h1v-3zM570,351v4h1v-4zM570,387v2h1v-2zM571,346v3h1v-3zM571,387v4h1v-4zM572,346v3h1v-3zM572,385v4h1v-4zM573,343v3h1v-3zM573,389v1h1v-1zM574,341v1h1v-1zM574,390v2h1v-2zM575,392v1h1v-1zM576,391v2h1v-2zM577,391v2h1v-2zM578,391v3h1v-3zM579,395v1h1v-1zM580,393v2h1v-2zM581,391v2h1v-2zM582,388v2h1v-2zM583,391v2h1v-2zM584,389v2h1v-2zM585,390v2h1v-2zM586,389v1h1v-1zM587,391v2h1v-2zM588,388v2h1v-2zM589,392v2h1v-2zM590,387v2h1v-2zM591,387v2h1v-2zM592,388v2h1v-2zM593,384v1h1v-1zM594,386v3h1v-3zM595,383v2h1v-2zM596,386v1h1v-1zM597,386v2h1v-2zM598,391v3h1v-3zM599,387v3h1v-3zM600,388v2h1v-2zM601,389v2h1v-2zM602,389v1h1v-1zM603,389v2h1v-2zM604,389v2h1v-2zM605,390v3h1v-3zM606,387v3h1v-3zM607,389v2h1v-2zM608,394v2h1v-2zM609,392v1h1v-1zM610,388v1h1v-1zM611,386v1h1v-1zM612,390v2h1v-2zM613,388v2h1v-2zM614,392v2h1v-2zM615,391v1h1v-1zM616,391v2h1v-2zM617,392v3h1v-3zM618,394v1h1v-1zM619,392v1h1v-1zM620,390v2h1v-2zM621,392v1h1v-1zM622,391v1h1v-1zM623,389v1h1v-1zM624,387v1h1v-1zM625,391v4h1v-4zM626,388v4h1v-4zM627,387v3h1v-3zM628,390v2h1v-2zM629,390v2h1v-2zM630,387v2h1v-2zM631,388v1h1v-1zM632,387v2h1v-2zM633,389v2h1v-2zM634,390v2h1v-2zM635,389v3h1v-3zM636,388v2h1v-2zM637,387v2h1v-2zM638,390v1h1v-1zM639,387v2h1v-2zM640,388v1h1v-1zM641,389v1h1v-1zM642,385v1h1v-1zM643,385v1h1v-1zM644,388v1h1v-1zM645,386v1h1v-1zM646,383v1h1v-1zM647,381v3h1v-3zM648,385v3h1v-3zM649,383v3h1v-3zM650,389v1h1v-1zM651,387v2h1v-2zM652,391v2h1v-2zM653,392v2h1v-2zM654,393v2h1v-2zM655,391v2h1v-2zM656,389v3h1v-3zM657,391v4h1v-4zM658,392v2h1v-2zM659,391v1h1v-1zM660,391v1h1v-1zM661,390v2h1v-2zM662,386v2h1v-2zM663,388v3h1v-3zM664,390v2h1v-2zM665,389v1h1v-1zM666,390v2h1v-2zM667,386v2h1v-2zM668,391v2h1v-2zM669,390v3h1v-3zM670,392v1h1v-1zM671,388v2h1v-2zM672,390v2h1v-2zM673,392v2h1v-2zM674,389v2h1v-2zM675,391v2h1v-2zM676,393v5h1v-5zM677,394v2h1v-2zM678,392v1h1v-1zM679,391v2h1v-2zM680,393v2h1v-2zM681,392v1h1v-1zM682,391v1h1v-1zM683,390v2h1v-2zM684,388v2h1v-2zM685,393v2h1v-2zM686,389v2h1v-2zM687,387v2h1v-2zM688,391v2h1v-2zM689,388v2h1v-2zM690,386v1h1v-1zM691,388v2h1v-2zM692,391v2h1v-2zM693,391v2h1v-2zM694,390v2h1v-2zM695,387v2h1v-2zM696,388v2h1v-2zM697,389v2h1v-2zM698,394v1h1v-1zM699,393v1h1v-1zM700,391v2h1v-2zM701,391v2h1v-2zM702,390v2h1v-2zM703,389v1h1v-1zM704,388v1h1v-1zM705,390v3h1v-3zM706,390v2h1v-2zM707,387v2h1v-2zM708,392v2h1v-2zM709,393v2h1v-2zM710,395v3h1v-3zM711,393v3h1v-3zM712,393v3h1v-3zM713,392v2h1v-2zM714,392v2h1v-2zM715,393v3h1v-3zM716,396v1h1v-1zM717,395v1h1v-1zM718,394v1h1v-1zM719,399v2h1v-2zM720,391v5h1v-5zM721,389v4h1v-4zM722,392v3h1v-3zM723,397v1h1v-1zM724,392v2h1v-2zM725,392v2h1v-2zM726,393v3h1v-3zM727,394v2h1v-2zM728,395v2h1v-2zM729,394v2h1v-2zM730,395v1h1v-1zM731,395v1h1v-1zM732,391v1h1v-1zM733,391v2h1v-2zM734,389v2h1v-2zM735,394v2h1v-2zM736,392v1h1v-1zM737,392v2h1v-2zM738,389v2h1v-2zM739,393v1h1v-1zM740,392v2h1v-2zM741,391v2h1v-2zM742,391v1h1v-1zM743,387v1h1v-1zM744,388v3h1v-3zM745,392v3h1v-3zM746,386v3h1v-3zM747,389v2h1v-2zM748,390v3h1v-3zM749,391v2h1v-2zM750,392v2h1v-2zM751,392v2h1v-2zM752,393v2h1v-2zM753,390v2h1v-2zM754,390v2h1v-2zM755,388v3h1v-3zM756,389v1h1v-1zM757,391v1h1v-1zM758,389v1h1v-1zM759,389v2h1v-2zM760,389v2h1v-2zM761,390v4h1v-4zM762,393v1h1v-1zM763,391v2h1v-2zM764,390v2h1v-2zM765,394v1h1v-1zM766,395v2h1v-2zM767,391v2h1v-2zM768,394v1h1v-1zM769,393v2h1v-2zM770,394v2h1v-2zM771,395v2h1v-2zM772,392v1h1v-1zM773,388v2h1v-2zM774,386v1h1v-1zM775,389v1h1v-1zM776,387v1h1v-1zM777,383v1h1v-1zM778,381v1h1v-1zM779,379v1h1v-1zM780,376v1h1v-1zM781,379v1h1v-1zM783,378v1h1v-1zM784,377v1h1v-1zM785,378v1h1v-1zM786,376v1h1v-1zM787,378v1h1v-1zM788,377v1h1v-1zM789,378v1h1v-1zM791,376v1h1v-1zM792,378v1h1v-1zM793,378v1h1v-1zM794,377v1h1v-1zM795,376v1h1v-1zM796,376v1h1v-1zM798,377v1h1v-1zM800,378v1h1v-1zM801,377v1h1v-1zM802,378v1h1v-1zM803,377v1h1v-1zM806,376v1h1v-1zM807,377v1h1v-1zM808,378v1h1v-1zM811,378v1h1v-1zM816,377v1h1v-1zM817,376v1h1v-1zM818,376v1h1v-1zM820,376v1h1v-1zM821,376v1h1v-1zM822,377v1h1v-1zM824,377v1h1v-1zM831,373v1h1v-1zM832,374v1h1v-1zM833,373v1h1v-1zM835,349v1h1v-1zM836,347v1h1v-1zM836,373v1h1v-1zM837,350v1h1v-1zM837,373v1h1v-1zM838,349v2h1v-2zM839,350v2h1v-2zM839,374v1h1v-1zM840,351v2h1v-2zM841,354v3h1v-3zM841,374v1h1v-1zM842,354v3h1v-3zM843,356v3h1v-3zM844,354v4h1v-4zM845,354v4h1v-4zM846,355v3h1v-3zM846,377v1h1v-1zM847,357v3h1v-3zM847,378v1h1v-1zM848,361v3h1v-3zM849,362v3h1v-3zM849,378v1h1v-1zM850,361v3h1v-3zM851,363v4h1v-4zM852,365v4h1v-4zM852,381v1h1v-1zM853,366v4h1v-4zM853,381v1h1v-1zM854,364v3h1v-3zM855,367v16h1v-16zM856,366v17h1v-17zM857,369v15h1v-15zM858,370v15h1v-15z"/>
<path fill="#c8e5f0" d="M565,366v18h1v-18zM566,364v20h1v-20zM567,363v3h1v-3zM567,380v2h1v-2zM568,358v4h1v-4zM568,380v1h1v-1zM569,356v3h1v-3zM569,383v3h1v-3zM570,355v3h1v-3zM570,385v2h1v-2zM571,349v4h1v-4zM571,385v2h1v-2zM572,349v3h1v-3zM572,383v2h1v-2zM573,346v3h1v-3zM573,387v2h1v-2zM574,342v4h1v-4zM574,388v2h1v-2zM575,342v4h1v-4zM575,390v2h1v-2zM576,340v3h1v-3zM576,390v1h1v-1zM577,339v3h1v-3zM577,388v3h1v-3zM578,339v2h1v-2zM578,389v2h1v-2zM579,336v2h1v-2zM579,393v2h1v-2zM580,337v2h1v-2zM580,392v1h1v-1zM581,335v1h1v-1zM581,389v2h1v-2zM582,333v1h1v-1zM582,387v1h1v-1zM583,335v1h1v-1zM583,389v2h1v-2zM584,387v2h1v-2zM585,389v1h1v-1zM586,387v2h1v-2zM587,389v2h1v-2zM588,386v2h1v-2zM589,390v2h1v-2zM590,385v2h1v-2zM591,385v2h1v-2zM592,387v1h1v-1zM593,382v2h1v-2zM594,385v1h1v-1zM595,382v1h1v-1zM596,384v2h1v-2zM597,384v2h1v-2zM598,389v2h1v-2zM599,385v2h1v-2zM600,386v2h1v-2zM601,388v1h1v-1zM602,387v2h1v-2zM603,388v1h1v-1zM604,388v1h1v-1zM605,388v2h1v-2zM606,385v2h1v-2zM607,388v1h1v-1zM608,393v1h1v-1zM609,391v1h1v-1zM610,386v2h1v-2zM611,384v2h1v-2zM612,385v5h1v-5zM613,385v3h1v-3zM614,390v2h1v-2zM615,389v2h1v-2zM616,390v1h1v-1zM617,390v2h1v-2zM618,393v1h1v-1zM619,391v1h1v-1zM620,389v1h1v-1zM621,390v2h1v-2zM622,389v2h1v-2zM623,388v1h1v-1zM624,386v1h1v-1zM625,388v3h1v-3zM626,386v2h1v-2zM627,384v3h1v-3zM628,388v2h1v-2zM629,388v2h1v-2zM630,384v3h1v-3zM631,386v2h1v-2zM632,386v1h1v-1zM633,387v2h1v-2zM634,388v2h1v-2zM635,387v2h1v-2zM636,385v3h1v-3zM637,384v3h1v-3zM638,387v3h1v-3zM639,386v1h1v-1zM640,386v2h1v-2zM641,387v2h1v-2zM642,383v2h1v-2zM643,383v2h1v-2zM644,387v1h1v-1zM645,384v2h1v-2zM646,382v1h1v-1zM647,380v1h1v-1zM648,382v3h1v-3zM649,380v3h1v-3zM650,387v2h1v-2zM651,385v2h1v-2zM652,389v2h1v-2zM653,389v3h1v-3zM654,391v2h1v-2zM655,389v2h1v-2zM656,387v2h1v-2zM657,388v3h1v-3zM658,387v5h1v-5zM659,390v1h1v-1zM660,390v1h1v-1zM661,389v1h1v-1zM662,384v2h1v-2zM663,386v2h1v-2zM664,389v1h1v-1zM665,387v2h1v-2zM666,388v2h1v-2zM667,385v1h1v-1zM668,386v5h1v-5zM669,388v2h1v-2zM670,391v1h1v-1zM671,387v1h1v-1zM672,389v1h1v-1zM673,390v2h1v-2zM674,388v1h1v-1zM675,389v2h1v-2zM676,390v3h1v-3zM677,389v5h1v-5zM678,390v2h1v-2zM679,390v1h1v-1zM680,391v2h1v-2zM681,390v2h1v-2zM683,389v1h1v-1zM684,387v1h1v-1zM685,391v2h1v-2zM686,387v2h1v-2zM687,385v2h1v-2zM688,389v2h1v-2zM689,386v2h1v-2zM690,384v2h1v-2zM691,385v3h1v-3zM692,388v3h1v-3zM693,389v2h1v-2zM694,388v2h1v-2zM695,385v2h1v-2zM696,387v1h1v-1zM697,387v2h1v-2zM698,389v5h1v-5zM699,392v1h1v-1zM700,390v1h1v-1zM701,390v1h1v-1zM702,388v2h1v-2zM703,387v2h1v-2zM704,386v2h1v-2zM705,387v3h1v-3zM706,388v2h1v-2zM707,385v2h1v-2zM708,389v3h1v-3zM709,391v2h1v-2zM710,392v3h1v-3zM711,390v3h1v-3zM712,390v3h1v-3zM713,389v3h1v-3zM714,391v1h1v-1zM715,391v2h1v-2zM716,394v2h1v-2zM717,393v2h1v-2zM718,392v2h1v-2zM719,394v5h1v-5zM720,389v2h1v-2zM721,386v3h1v-3zM722,390v2h1v-2zM723,394v3h1v-3zM724,390v2h1v-2zM725,391v1h1v-1zM726,391v2h1v-2zM727,392v2h1v-2zM728,394v1h1v-1zM729,392v2h1v-2zM730,394v1h1v-1zM731,393v2h1v-2zM732,390v1h1v-1zM733,389v2h1v-2zM734,387v2h1v-2zM735,392v2h1v-2zM736,390v2h1v-2zM737,391v1h1v-1zM738,388v1h1v-1zM739,391v2h1v-2zM740,390v2h1v-2zM741,390v1h1v-1zM742,389v2h1v-2zM743,385v2h1v-2zM744,386v2h1v-2zM745,389v3h1v-3zM746,384v2h1v-2zM747,387v2h1v-2zM748,387v3h1v-3zM749,390v1h1v-1zM750,390v2h1v-2zM751,389v3h1v-3zM752,391v2h1v-2zM753,388v2h1v-2zM754,388v2h1v-2zM755,386v2h1v-2zM756,387v2h1v-2zM757,389v2h1v-2zM758,388v1h1v-1zM759,388v1h1v-1zM760,388v1h1v-1zM761,387v3h1v-3zM762,391v2h1v-2zM763,390v1h1v-1zM764,388v2h1v-2zM765,392v2h1v-2zM766,393v2h1v-2zM767,389v2h1v-2zM768,393v1h1v-1zM769,392v1h1v-1zM770,392v2h1v-2zM771,394v1h1v-1zM772,390v2h1v-2zM773,387v1h1v-1zM774,384v2h1v-2zM775,387v2h1v-2zM776,385v2h1v-2zM777,382v1h1v-1zM778,380v1h1v-1zM779,378v1h1v-1zM780,375v1h1v-1zM781,378v1h1v-1zM782,378v1h1v-1zM784,376v1h1v-1zM785,377v1h1v-1zM786,375v1h1v-1zM787,377v1h1v-1zM788,376v1h1v-1zM789,377v1h1v-1zM790,377v1h1v-1zM792,377v1h1v-1zM793,377v1h1v-1zM794,376v1h1v-1zM796,375v1h1v-1zM797,376v1h1v-1zM798,376v1h1v-1zM799,378v1h1v-1zM800,377v1h1v-1zM804,376v1h1v-1zM805,376v1h1v-1zM807,376v1h1v-1zM809,378v1h1v-1zM810,378v1h1v-1zM812,376v1h1v-1zM813,377v1h1v-1zM814,377v1h1v-1zM815,377v1h1v-1zM819,376v1h1v-1zM823,376v1h1v-1zM824,376v1h1v-1zM825,375v1h1v-1zM826,335v1h1v-1zM826,375v1h1v-1zM827,335v1h1v-1zM827,375v1h1v-1zM828,337v1h1v-1zM828,374v1h1v-1zM829,336v2h1v-2zM829,373v1h1v-1zM830,338v2h1v-2zM830,373v1h1v-1zM831,338v2h1v-2zM832,340v3h1v-3zM833,342v3h1v-3zM834,347v4h1v-4zM834,373v1h1v-1zM835,350v3h1v-3zM835,373v1h1v-1zM836,348v3h1v-3zM837,351v4h1v-4zM838,351v3h1v-3zM838,374v1h1v-1zM839,352v3h1v-3zM840,353v4h1v-4zM841,357v4h1v-4zM842,357v3h1v-3zM842,374v1h1v-1zM843,359v3h1v-3zM843,375v1h1v-1zM844,358v3h1v-3zM844,376v1h1v-1zM845,358v3h1v-3zM845,376v1h1v-1zM846,358v4h1v-4zM847,360v4h1v-4zM848,364v4h1v-4zM848,377v1h1v-1zM849,365v3h1v-3zM850,364v3h1v-3zM850,379v1h1v-1zM851,367v13h1v-13zM852,369v12h1v-12zM853,370v11h1v-11zM854,367v16h1v-16z"/>
<path fill="#cee8f2" d="M567,366v14h1v-14zM568,362v18h1v-18zM569,359v24h1v-24zM570,358v3h1v-3zM570,382v3h1v-3zM571,353v3h1v-3zM571,383v2h1v-2zM572,352v4h1v-4zM572,381v2h1v-2zM573,349v4h1v-4zM573,386v1h1v-1zM574,346v4h1v-4zM574,386v2h1v-2zM575,346v3h1v-3zM575,388v2h1v-2zM576,343v4h1v-4zM576,388v2h1v-2zM577,342v4h1v-4zM577,387v1h1v-1zM578,341v4h1v-4zM578,386v3h1v-3zM579,338v4h1v-4zM579,389v4h1v-4zM580,339v3h1v-3zM580,388v4h1v-4zM581,336v4h1v-4zM581,387v2h1v-2zM582,334v3h1v-3zM582,385v2h1v-2zM583,336v3h1v-3zM583,386v3h1v-3zM584,333v4h1v-4zM584,385v2h1v-2zM585,332v3h1v-3zM585,385v4h1v-4zM586,332v3h1v-3zM586,384v3h1v-3zM587,331v3h1v-3zM587,386v3h1v-3zM588,333v2h1v-2zM588,383v3h1v-3zM589,330v2h1v-2zM589,388v2h1v-2zM590,332v2h1v-2zM590,382v3h1v-3zM591,330v1h1v-1zM591,382v3h1v-3zM592,331v1h1v-1zM592,384v3h1v-3zM593,332v1h1v-1zM593,379v3h1v-3zM594,383v2h1v-2zM595,379v3h1v-3zM596,381v3h1v-3zM597,383v1h1v-1zM598,386v3h1v-3zM599,380v5h1v-5zM600,383v3h1v-3zM601,386v2h1v-2zM602,386v1h1v-1zM603,386v2h1v-2zM604,386v2h1v-2zM605,386v2h1v-2zM606,383v2h1v-2zM607,386v2h1v-2zM608,387v6h1v-6zM609,388v3h1v-3zM610,381v5h1v-5zM611,382v2h1v-2zM612,383v2h1v-2zM613,381v4h1v-4zM614,388v2h1v-2zM615,387v2h1v-2zM616,388v2h1v-2zM617,388v2h1v-2zM618,391v2h1v-2zM619,390v1h1v-1zM620,388v1h1v-1zM621,388v2h1v-2zM622,388v1h1v-1zM623,386v2h1v-2zM624,385v1h1v-1zM625,386v2h1v-2zM626,383v3h1v-3zM627,382v2h1v-2zM628,386v2h1v-2zM629,385v3h1v-3zM630,382v2h1v-2zM631,384v2h1v-2zM632,384v2h1v-2zM633,385v2h1v-2zM634,387v1h1v-1zM635,386v1h1v-1zM636,384v1h1v-1zM637,382v2h1v-2zM638,384v3h1v-3zM639,383v3h1v-3zM640,385v1h1v-1zM641,386v1h1v-1zM642,381v2h1v-2zM643,382v1h1v-1zM644,385v2h1v-2zM645,383v1h1v-1zM646,380v2h1v-2zM647,379v1h1v-1zM648,379v3h1v-3zM649,377v3h1v-3zM650,385v2h1v-2zM651,383v2h1v-2zM652,387v2h1v-2zM653,388v1h1v-1zM654,389v2h1v-2zM655,387v2h1v-2zM656,385v2h1v-2zM657,386v2h1v-2zM658,385v2h1v-2zM659,387v3h1v-3zM660,389v1h1v-1zM661,387v2h1v-2zM662,383v1h1v-1zM663,384v2h1v-2zM664,385v4h1v-4zM665,385v2h1v-2zM666,386v2h1v-2zM667,383v2h1v-2zM668,384v2h1v-2zM669,383v5h1v-5zM670,388v3h1v-3zM671,384v3h1v-3zM672,387v2h1v-2zM673,389v1h1v-1zM674,386v2h1v-2zM675,387v2h1v-2zM676,388v2h1v-2zM677,387v2h1v-2zM678,385v5h1v-5zM679,388v2h1v-2zM680,389v2h1v-2zM681,388v2h1v-2zM682,389v2h1v-2zM683,388v1h1v-1zM684,386v1h1v-1zM685,388v3h1v-3zM686,385v2h1v-2zM687,383v2h1v-2zM688,385v4h1v-4zM689,383v3h1v-3zM690,381v3h1v-3zM691,383v2h1v-2zM692,386v2h1v-2zM693,386v3h1v-3zM694,385v3h1v-3zM695,383v2h1v-2zM696,385v2h1v-2zM697,385v2h1v-2zM698,386v3h1v-3zM699,389v3h1v-3zM700,389v1h1v-1zM701,388v2h1v-2zM702,386v2h1v-2zM703,385v2h1v-2zM704,385v1h1v-1zM705,386v1h1v-1zM706,385v3h1v-3zM707,382v3h1v-3zM708,386v3h1v-3zM709,389v2h1v-2zM710,390v2h1v-2zM711,387v3h1v-3zM712,387v3h1v-3zM713,386v3h1v-3zM714,389v2h1v-2zM715,389v2h1v-2zM716,393v1h1v-1zM717,392v1h1v-1zM718,390v2h1v-2zM719,392v2h1v-2zM720,387v2h1v-2zM721,384v2h1v-2zM722,385v5h1v-5zM723,392v2h1v-2zM724,387v3h1v-3zM725,389v2h1v-2zM726,390v1h1v-1zM727,390v2h1v-2zM728,391v3h1v-3zM729,391v1h1v-1zM730,392v2h1v-2zM731,392v1h1v-1zM732,388v2h1v-2zM733,388v1h1v-1zM734,386v1h1v-1zM735,389v3h1v-3zM736,387v3h1v-3zM737,389v2h1v-2zM738,387v1h1v-1zM739,389v2h1v-2zM740,388v2h1v-2zM741,388v2h1v-2zM742,388v1h1v-1zM743,384v1h1v-1zM744,384v2h1v-2zM745,386v3h1v-3zM746,382v2h1v-2zM747,384v3h1v-3zM748,385v2h1v-2zM749,387v3h1v-3zM750,388v2h1v-2zM751,387v2h1v-2zM752,388v3h1v-3zM753,385v3h1v-3zM754,386v2h1v-2zM755,384v2h1v-2zM756,384v3h1v-3zM757,387v2h1v-2zM758,386v2h1v-2zM759,386v2h1v-2zM760,386v2h1v-2zM761,385v2h1v-2zM762,388v3h1v-3zM763,388v2h1v-2zM764,387v1h1v-1zM765,389v3h1v-3zM766,390v3h1v-3zM767,387v2h1v-2zM768,390v3h1v-3zM769,390v2h1v-2zM770,389v3h1v-3zM771,392v2h1v-2zM772,388v2h1v-2zM773,385v2h1v-2zM774,382v2h1v-2zM775,385v2h1v-2zM776,383v2h1v-2zM777,380v2h1v-2zM778,378v2h1v-2zM779,376v2h1v-2zM780,374v1h1v-1zM781,376v2h1v-2zM782,377v1h1v-1zM783,377v1h1v-1zM784,375v1h1v-1zM785,375v2h1v-2zM786,374v1h1v-1zM787,375v2h1v-2zM788,374v2h1v-2zM789,375v2h1v-2zM790,375v2h1v-2zM791,375v1h1v-1zM792,376v1h1v-1zM793,376v1h1v-1zM794,375v1h1v-1zM795,375v1h1v-1zM796,374v1h1v-1zM797,375v1h1v-1zM798,375v1h1v-1zM799,377v1h1v-1zM801,376v1h1v-1zM802,377v1h1v-1zM803,376v1h1v-1zM804,375v1h1v-1zM805,375v1h1v-1zM806,375v1h1v-1zM808,377v1h1v-1zM811,377v1h1v-1zM813,376v1h1v-1zM814,376v1h1v-1zM815,332v1h1v-1zM816,335v1h1v-1zM816,376v1h1v-1zM817,334v2h1v-2zM817,375v1h1v-1zM818,335v2h1v-2zM818,375v1h1v-1zM819,336v2h1v-2zM819,375v1h1v-1zM820,336v2h1v-2zM820,375v1h1v-1zM821,337v2h1v-2zM821,375v1h1v-1zM822,336v3h1v-3zM822,376v1h1v-1zM823,335v3h1v-3zM823,375v1h1v-1zM824,336v3h1v-3zM825,337v4h1v-4zM826,336v3h1v-3zM827,336v3h1v-3zM828,338v4h1v-4zM829,338v3h1v-3zM830,340v4h1v-4zM831,340v4h1v-4zM831,372v1h1v-1zM832,343v4h1v-4zM832,373v1h1v-1zM833,345v4h1v-4zM833,372v1h1v-1zM834,351v4h1v-4zM835,353v4h1v-4zM836,351v4h1v-4zM836,372v1h1v-1zM837,355v3h1v-3zM837,372v1h1v-1zM838,354v3h1v-3zM838,373v1h1v-1zM839,355v4h1v-4zM839,373v1h1v-1zM840,357v3h1v-3zM840,373v1h1v-1zM841,361v4h1v-4zM841,373v1h1v-1zM842,360v5h1v-5zM843,362v5h1v-5zM844,361v5h1v-5zM845,361v11h1v-11zM846,362v15h1v-15zM847,364v14h1v-14zM848,368v9h1v-9zM849,368v10h1v-10zM850,367v12h1v-12z"/>
<path fill="#d4ebf3" d="M570,361v21h1v-21zM571,356v27h1v-27zM572,356v3h1v-3zM572,366v15h1v-15zM573,353v3h1v-3zM573,368v11h1v-11zM573,381v5h1v-5zM574,350v3h1v-3zM574,369v3h1v-3zM574,385v1h1v-1zM575,349v3h1v-3zM575,385v3h1v-3zM576,347v3h1v-3zM576,387v1h1v-1zM577,346v3h1v-3zM577,386v1h1v-1zM578,345v4h1v-4zM578,384v2h1v-2zM579,342v5h1v-5zM579,386v3h1v-3zM580,342v5h1v-5zM580,385v3h1v-3zM581,340v5h1v-5zM581,385v2h1v-2zM582,337v5h1v-5zM582,383v2h1v-2zM583,339v5h1v-5zM583,384v2h1v-2zM584,337v5h1v-5zM584,383v2h1v-2zM585,335v4h1v-4zM585,383v2h1v-2zM586,335v4h1v-4zM586,382v2h1v-2zM587,334v3h1v-3zM587,383v3h1v-3zM588,335v6h1v-6zM588,381v2h1v-2zM589,332v3h1v-3zM589,382v6h1v-6zM590,334v5h1v-5zM590,380v2h1v-2zM591,331v4h1v-4zM591,380v2h1v-2zM592,332v4h1v-4zM592,380v4h1v-4zM593,333v5h1v-5zM593,377v2h1v-2zM594,331v5h1v-5zM594,379v4h1v-4zM595,328v3h1v-3zM595,377v2h1v-2zM596,328v3h1v-3zM596,378v3h1v-3zM597,327v3h1v-3zM597,378v5h1v-5zM598,328v2h1v-2zM598,379v7h1v-7zM599,328v2h1v-2zM599,377v3h1v-3zM600,325v2h1v-2zM600,376v7h1v-7zM601,325v1h1v-1zM601,376v4h1v-4zM601,383v3h1v-3zM602,326v1h1v-1zM602,377v1h1v-1zM602,383v3h1v-3zM603,327v1h1v-1zM603,384v2h1v-2zM604,323v1h1v-1zM604,384v2h1v-2zM605,323v1h1v-1zM605,384v2h1v-2zM606,381v2h1v-2zM607,382v4h1v-4zM608,385v2h1v-2zM609,382v6h1v-6zM610,378v3h1v-3zM611,372v10h1v-10zM612,381v2h1v-2zM613,370v2h1v-2zM613,379v2h1v-2zM614,386v2h1v-2zM615,384v3h1v-3zM616,386v2h1v-2zM617,386v2h1v-2zM618,388v3h1v-3zM619,389v1h1v-1zM620,387v1h1v-1zM621,386v2h1v-2zM622,385v3h1v-3zM623,385v1h1v-1zM624,383v2h1v-2zM625,384v2h1v-2zM626,381v2h1v-2zM627,380v2h1v-2zM628,382v4h1v-4zM629,383v2h1v-2zM630,379v3h1v-3zM631,380v4h1v-4zM632,382v2h1v-2zM633,384v1h1v-1zM634,385v2h1v-2zM635,384v2h1v-2zM636,382v2h1v-2zM637,380v2h1v-2zM638,382v2h1v-2zM639,380v3h1v-3zM640,384v1h1v-1zM641,384v2h1v-2zM642,380v1h1v-1zM643,380v2h1v-2zM644,384v1h1v-1zM645,382v1h1v-1zM646,379v1h1v-1zM647,377v2h1v-2zM648,377v2h1v-2zM649,375v2h1v-2zM650,383v2h1v-2zM651,381v2h1v-2zM652,385v2h1v-2zM653,386v2h1v-2zM654,387v2h1v-2zM655,385v2h1v-2zM656,384v1h1v-1zM657,384v2h1v-2zM658,383v2h1v-2zM659,382v5h1v-5zM660,387v2h1v-2zM661,386v1h1v-1zM662,382v1h1v-1zM663,382v2h1v-2zM664,383v2h1v-2zM665,382v3h1v-3zM666,384v2h1v-2zM667,381v2h1v-2zM668,382v2h1v-2zM669,381v2h1v-2zM670,383v5h1v-5zM671,380v4h1v-4zM672,386v1h1v-1zM673,387v2h1v-2zM674,384v2h1v-2zM675,386v1h1v-1zM676,386v2h1v-2zM677,384v3h1v-3zM678,382v3h1v-3zM679,382v6h1v-6zM680,387v2h1v-2zM681,386v2h1v-2zM682,388v1h1v-1zM683,387v1h1v-1zM684,385v1h1v-1zM685,386v2h1v-2zM686,383v2h1v-2zM687,381v2h1v-2zM688,383v2h1v-2zM689,380v3h1v-3zM690,377v4h1v-4zM691,382v1h1v-1zM692,383v3h1v-3zM693,383v3h1v-3zM694,382v3h1v-3zM695,380v3h1v-3zM696,382v3h1v-3zM697,382v3h1v-3zM698,382v4h1v-4zM699,382v7h1v-7zM700,382v3h1v-3zM700,387v2h1v-2zM701,387v1h1v-1zM702,384v2h1v-2zM703,381v4h1v-4zM704,381v4h1v-4zM705,383v3h1v-3zM706,382v3h1v-3zM707,378v4h1v-4zM708,383v3h1v-3zM709,384v5h1v-5zM710,387v3h1v-3zM711,385v2h1v-2zM712,384v3h1v-3zM713,382v4h1v-4zM714,385v4h1v-4zM715,387v2h1v-2zM716,388v5h1v-5zM717,390v2h1v-2zM718,388v2h1v-2zM719,389v3h1v-3zM720,384v3h1v-3zM721,382v2h1v-2zM722,382v3h1v-3zM723,390v2h1v-2zM724,382v5h1v-5zM725,383v6h1v-6zM726,388v2h1v-2zM727,388v2h1v-2zM728,389v2h1v-2zM729,388v3h1v-3zM730,390v2h1v-2zM731,391v1h1v-1zM732,387v1h1v-1zM733,387v1h1v-1zM734,384v2h1v-2zM735,387v2h1v-2zM736,385v2h1v-2zM737,388v1h1v-1zM738,385v2h1v-2zM739,387v2h1v-2zM740,386v2h1v-2zM741,386v2h1v-2zM742,386v2h1v-2zM743,382v2h1v-2zM744,383v1h1v-1zM745,383v3h1v-3zM746,379v3h1v-3zM747,382v2h1v-2zM748,382v3h1v-3zM749,383v4h1v-4zM750,384v4h1v-4zM751,384v3h1v-3zM752,385v3h1v-3zM753,382v3h1v-3zM754,383v3h1v-3zM755,381v3h1v-3zM756,381v3h1v-3zM757,385v2h1v-2zM758,383v3h1v-3zM759,384v2h1v-2zM760,384v2h1v-2zM761,383v2h1v-2zM762,383v5h1v-5zM763,383v5h1v-5zM764,384v3h1v-3zM765,386v3h1v-3zM766,387v3h1v-3zM767,384v3h1v-3zM768,387v3h1v-3zM769,387v3h1v-3zM770,386v3h1v-3zM771,387v5h1v-5zM772,384v4h1v-4zM773,382v3h1v-3zM774,380v2h1v-2zM775,382v3h1v-3zM776,380v3h1v-3zM777,377v3h1v-3zM778,375v3h1v-3zM779,374v2h1v-2zM780,372v2h1v-2zM781,374v2h1v-2zM782,375v2h1v-2zM783,375v2h1v-2zM784,373v2h1v-2zM785,374v1h1v-1zM786,372v2h1v-2zM787,373v2h1v-2zM788,372v2h1v-2zM789,373v2h1v-2zM790,373v2h1v-2zM791,373v2h1v-2zM792,374v2h1v-2zM793,374v2h1v-2zM794,373v2h1v-2zM795,373v2h1v-2zM796,373v1h1v-1zM797,373v2h1v-2zM798,373v2h1v-2zM799,375v2h1v-2zM800,376v1h1v-1zM801,375v1h1v-1zM802,376v1h1v-1zM803,375v1h1v-1zM805,327v3h1v-3zM806,328v3h1v-3zM806,374v1h1v-1zM807,328v3h1v-3zM807,375v1h1v-1zM808,329v2h1v-2zM808,376v1h1v-1zM809,331v3h1v-3zM809,377v1h1v-1zM810,332v5h1v-5zM810,377v1h1v-1zM811,333v6h1v-6zM812,333v6h1v-6zM812,375v1h1v-1zM813,334v5h1v-5zM814,332v6h1v-6zM815,333v5h1v-5zM815,376v1h1v-1zM816,336v3h1v-3zM817,336v3h1v-3zM818,337v3h1v-3zM819,338v3h1v-3zM820,338v3h1v-3zM820,374v1h1v-1zM821,339v4h1v-4zM821,374v1h1v-1zM822,339v3h1v-3zM822,375v1h1v-1zM823,338v3h1v-3zM823,374v1h1v-1zM824,339v4h1v-4zM824,374v2h1v-2zM825,341v4h1v-4zM825,373v2h1v-2zM826,339v4h1v-4zM826,374v1h1v-1zM827,339v5h1v-5zM827,373v2h1v-2zM828,342v5h1v-5zM828,373v1h1v-1zM829,341v5h1v-5zM829,372v1h1v-1zM830,344v6h1v-6zM830,371v2h1v-2zM831,344v6h1v-6zM831,371v1h1v-1zM832,347v7h1v-7zM832,369v4h1v-4zM833,349v7h1v-7zM833,369v3h1v-3zM834,355v3h1v-3zM834,368v5h1v-5zM835,357v3h1v-3zM835,367v6h1v-6zM836,355v3h1v-3zM836,366v6h1v-6zM837,358v3h1v-3zM837,366v6h1v-6zM838,357v4h1v-4zM838,365v8h1v-8zM839,359v14h1v-14zM840,360v13h1v-13zM841,365v8h1v-8zM842,365v9h1v-9zM843,367v8h1v-8zM844,366v10h1v-10zM845,372v4h1v-4z"/>
<path fill="#daeef4" d="M572,359v7h1v-7zM573,356v12h1v-12zM573,379v2h1v-2zM574,353v16h1v-16zM574,372v13h1v-13zM575,352v4h1v-4zM575,365v14h1v-14zM575,383v2h1v-2zM576,350v3h1v-3zM576,365v14h1v-14zM576,385v2h1v-2zM577,349v3h1v-3zM577,364v14h1v-14zM577,385v1h1v-1zM578,349v3h1v-3zM578,364v13h1v-13zM578,383v1h1v-1zM579,347v2h1v-2zM579,364v12h1v-12zM579,385v1h1v-1zM580,347v2h1v-2zM580,364v11h1v-11zM580,384v1h1v-1zM581,345v3h1v-3zM581,364v10h1v-10zM581,383v2h1v-2zM582,342v4h1v-4zM582,363v10h1v-10zM582,381v2h1v-2zM583,344v3h1v-3zM583,363v8h1v-8zM583,383v1h1v-1zM584,342v3h1v-3zM584,363v6h1v-6zM584,382v1h1v-1zM585,339v5h1v-5zM585,362v6h1v-6zM585,382v1h1v-1zM586,339v5h1v-5zM586,362v5h1v-5zM586,381v1h1v-1zM587,337v6h1v-6zM587,362v4h1v-4zM587,382v1h1v-1zM588,341v3h1v-3zM588,362v3h1v-3zM588,380v1h1v-1zM589,335v7h1v-7zM589,362v1h1v-1zM589,381v1h1v-1zM590,339v3h1v-3zM590,379v1h1v-1zM591,335v6h1v-6zM591,378v2h1v-2zM592,336v5h1v-5zM592,379v1h1v-1zM593,338v3h1v-3zM593,375v2h1v-2zM594,336v4h1v-4zM594,378v1h1v-1zM595,331v7h1v-7zM595,376v1h1v-1zM596,331v7h1v-7zM596,377v1h1v-1zM597,330v7h1v-7zM597,377v1h1v-1zM598,330v7h1v-7zM598,377v2h1v-2zM599,330v6h1v-6zM599,376v1h1v-1zM600,327v3h1v-3zM600,375v1h1v-1zM601,326v4h1v-4zM601,375v1h1v-1zM601,380v3h1v-3zM602,327v7h1v-7zM602,375v2h1v-2zM602,378v5h1v-5zM603,328v6h1v-6zM603,374v10h1v-10zM604,324v3h1v-3zM604,374v5h1v-5zM604,382v2h1v-2zM605,324v3h1v-3zM605,374v4h1v-4zM605,382v2h1v-2zM606,325v7h1v-7zM606,373v8h1v-8zM607,324v7h1v-7zM607,373v9h1v-9zM608,321v3h1v-3zM608,372v4h1v-4zM608,383v2h1v-2zM609,321v3h1v-3zM609,372v4h1v-4zM609,380v2h1v-2zM610,322v3h1v-3zM610,371v7h1v-7zM611,320v3h1v-3zM611,370v2h1v-2zM612,321v2h1v-2zM612,370v7h1v-7zM612,379v2h1v-2zM613,319v2h1v-2zM613,369v1h1v-1zM613,372v7h1v-7zM614,319v2h1v-2zM614,369v3h1v-3zM614,382v4h1v-4zM615,321v2h1v-2zM615,325v1h1v-1zM615,369v3h1v-3zM615,381v3h1v-3zM616,318v2h1v-2zM616,368v3h1v-3zM616,383v3h1v-3zM617,319v1h1v-1zM617,368v3h1v-3zM617,384v2h1v-2zM618,317v1h1v-1zM618,367v3h1v-3zM618,386v2h1v-2zM619,316v1h1v-1zM619,367v3h1v-3zM619,386v3h1v-3zM620,317v1h1v-1zM620,366v3h1v-3zM620,385v2h1v-2zM621,366v2h1v-2zM621,385v1h1v-1zM622,365v3h1v-3zM622,383v2h1v-2zM623,365v2h1v-2zM623,382v3h1v-3zM624,364v2h1v-2zM624,382v1h1v-1zM625,364v2h1v-2zM625,383v1h1v-1zM626,364v1h1v-1zM626,379v2h1v-2zM627,363v1h1v-1zM627,377v3h1v-3zM628,380v2h1v-2zM629,380v3h1v-3zM630,376v3h1v-3zM631,378v2h1v-2zM632,379v3h1v-3zM633,382v2h1v-2zM634,383v2h1v-2zM635,383v1h1v-1zM636,380v2h1v-2zM637,379v1h1v-1zM638,379v3h1v-3zM639,378v2h1v-2zM640,381v3h1v-3zM641,383v1h1v-1zM642,378v2h1v-2zM643,378v2h1v-2zM644,382v2h1v-2zM645,380v2h1v-2zM646,378v1h1v-1zM647,376v1h1v-1zM648,376v1h1v-1zM649,373v2h1v-2zM650,379v4h1v-4zM651,379v2h1v-2zM652,383v2h1v-2zM653,383v3h1v-3zM654,385v2h1v-2zM655,383v2h1v-2zM656,382v2h1v-2zM657,382v2h1v-2zM658,380v3h1v-3zM659,380v2h1v-2zM660,386v1h1v-1zM661,385v1h1v-1zM662,380v2h1v-2zM663,381v1h1v-1zM664,381v2h1v-2zM665,380v2h1v-2zM666,383v1h1v-1zM667,380v1h1v-1zM668,380v2h1v-2zM669,379v2h1v-2zM670,379v4h1v-4zM671,375v5h1v-5zM672,383v3h1v-3zM673,385v2h1v-2zM674,381v3h1v-3zM675,383v3h1v-3zM676,384v2h1v-2zM677,381v3h1v-3zM678,379v3h1v-3zM679,379v3h1v-3zM680,386v1h1v-1zM681,384v2h1v-2zM682,387v1h1v-1zM683,386v1h1v-1zM684,384v1h1v-1zM685,385v1h1v-1zM686,381v2h1v-2zM687,379v2h1v-2zM688,381v2h1v-2zM689,377v3h1v-3zM690,374v3h1v-3zM691,379v3h1v-3zM692,381v2h1v-2zM693,381v2h1v-2zM694,380v2h1v-2zM695,378v2h1v-2zM696,380v2h1v-2zM697,380v2h1v-2zM698,381v1h1v-1zM699,380v2h1v-2zM700,380v2h1v-2zM700,385v2h1v-2zM701,381v6h1v-6zM702,381v3h1v-3zM703,379v2h1v-2zM704,378v3h1v-3zM705,379v4h1v-4zM706,378v4h1v-4zM707,377v1h1v-1zM708,377v6h1v-6zM709,377v7h1v-7zM710,384v3h1v-3zM711,376v9h1v-9zM712,376v2h1v-2zM712,381v3h1v-3zM713,375v7h1v-7zM714,382v3h1v-3zM715,384v3h1v-3zM716,385v3h1v-3zM717,385v5h1v-5zM718,385v3h1v-3zM719,386v3h1v-3zM720,382v2h1v-2zM721,380v2h1v-2zM722,380v2h1v-2zM723,382v8h1v-8zM724,379v3h1v-3zM725,380v3h1v-3zM726,381v7h1v-7zM727,382v6h1v-6zM728,387v2h1v-2zM729,381v3h1v-3zM729,386v2h1v-2zM730,388v2h1v-2zM731,308v1h1v-1zM731,389v2h1v-2zM732,385v2h1v-2zM733,308v1h1v-1zM733,386v1h1v-1zM734,307v1h1v-1zM734,383v1h1v-1zM735,385v2h1v-2zM736,383v2h1v-2zM737,306v1h1v-1zM737,385v3h1v-3zM738,383v2h1v-2zM739,385v2h1v-2zM740,384v2h1v-2zM741,384v2h1v-2zM742,384v2h1v-2zM743,380v2h1v-2zM744,381v2h1v-2zM745,381v2h1v-2zM746,377v2h1v-2zM747,379v3h1v-3zM748,380v2h1v-2zM749,381v2h1v-2zM750,382v2h1v-2zM751,382v2h1v-2zM752,383v2h1v-2zM753,380v2h1v-2zM754,380v3h1v-3zM755,379v2h1v-2zM756,379v2h1v-2zM757,382v3h1v-3zM758,381v2h1v-2zM759,382v2h1v-2zM760,382v2h1v-2zM761,381v2h1v-2zM762,381v2h1v-2zM763,380v3h1v-3zM764,380v4h1v-4zM765,383v3h1v-3zM766,384v3h1v-3zM767,381v3h1v-3zM768,384v3h1v-3zM769,384v3h1v-3zM770,384v2h1v-2zM771,385v2h1v-2zM772,382v2h1v-2zM773,379v3h1v-3zM774,377v3h1v-3zM775,380v2h1v-2zM776,378v2h1v-2zM777,375v2h1v-2zM778,373v2h1v-2zM779,372v2h1v-2zM780,370v2h1v-2zM781,373v1h1v-1zM782,373v2h1v-2zM783,374v1h1v-1zM784,372v1h1v-1zM785,372v2h1v-2zM786,370v2h1v-2zM787,372v1h1v-1zM788,370v2h1v-2zM789,321v1h1v-1zM789,371v2h1v-2zM790,321v1h1v-1zM790,371v2h1v-2zM791,371v2h1v-2zM792,373v1h1v-1zM793,372v2h1v-2zM794,372v1h1v-1zM795,321v1h1v-1zM795,372v1h1v-1zM796,321v1h1v-1zM796,371v2h1v-2zM797,324v1h1v-1zM797,329v3h1v-3zM797,372v1h1v-1zM798,323v1h1v-1zM798,329v3h1v-3zM798,372v1h1v-1zM799,322v1h1v-1zM799,328v3h1v-3zM799,373v2h1v-2zM800,322v2h1v-2zM800,327v4h1v-4zM800,373v3h1v-3zM801,324v8h1v-8zM801,373v2h1v-2zM802,322v9h1v-9zM803,322v9h1v-9zM803,374v1h1v-1zM804,323v8h1v-8zM804,374v1h1v-1zM805,330v3h1v-3zM805,374v1h1v-1zM806,331v3h1v-3zM807,331v4h1v-4zM807,374v1h1v-1zM808,331v9h1v-9zM809,334v7h1v-7zM809,376v1h1v-1zM810,337v4h1v-4zM811,339v2h1v-2zM811,376v1h1v-1zM812,339v2h1v-2zM813,339v2h1v-2zM813,365v1h1v-1zM813,375v1h1v-1zM814,338v2h1v-2zM814,364v2h1v-2zM814,375v1h1v-1zM815,338v2h1v-2zM815,363v2h1v-2zM815,375v1h1v-1zM816,339v3h1v-3zM816,362v3h1v-3zM816,375v1h1v-1zM817,339v3h1v-3zM817,361v4h1v-4zM817,374v1h1v-1zM818,340v3h1v-3zM818,360v4h1v-4zM818,374v1h1v-1zM819,341v3h1v-3zM819,359v5h1v-5zM819,374v1h1v-1zM820,341v5h1v-5zM820,358v6h1v-6zM820,373v1h1v-1zM821,343v5h1v-5zM821,357v6h1v-6zM821,373v1h1v-1zM822,342v6h1v-6zM822,356v7h1v-7zM822,373v2h1v-2zM823,341v6h1v-6zM823,354v8h1v-8zM823,373v1h1v-1zM824,343v7h1v-7zM824,351v11h1v-11zM824,372v2h1v-2zM825,345v17h1v-17zM825,371v2h1v-2zM826,343v18h1v-18zM826,371v3h1v-3zM827,344v17h1v-17zM827,370v3h1v-3zM828,347v14h1v-14zM828,369v4h1v-4zM829,346v14h1v-14zM829,369v3h1v-3zM830,350v10h1v-10zM830,368v3h1v-3zM831,350v9h1v-9zM831,367v4h1v-4zM832,354v5h1v-5zM832,367v2h1v-2zM833,356v3h1v-3zM833,366v3h1v-3zM834,358v3h1v-3zM834,365v3h1v-3zM835,360v3h1v-3zM835,364v3h1v-3zM836,358v3h1v-3zM836,364v2h1v-2zM837,361v5h1v-5zM838,361v4h1v-4z"/>
<path fill="#dff0f4" d="M575,356v9h1v-9zM575,379v4h1v-4zM576,353v12h1v-12zM576,379v6h1v-6zM577,352v12h1v-12zM577,378v7h1v-7zM578,352v12h1v-12zM578,377v6h1v-6zM579,349v15h1v-15zM579,376v9h1v-9zM580,349v15h1v-15zM580,375v9h1v-9zM581,348v16h1v-16zM581,374v9h1v-9zM582,346v17h1v-17zM582,373v8h1v-8zM583,347v2h1v-2zM583,360v3h1v-3zM583,371v5h1v-5zM583,382v1h1v-1zM584,345v2h1v-2zM584,359v4h1v-4zM584,369v6h1v-6zM584,380v2h1v-2zM585,344v2h1v-2zM585,359v3h1v-3zM585,368v6h1v-6zM585,381v1h1v-1zM586,344v2h1v-2zM586,359v3h1v-3zM586,367v7h1v-7zM586,379v2h1v-2zM587,343v2h1v-2zM587,359v3h1v-3zM587,366v7h1v-7zM587,381v1h1v-1zM588,344v2h1v-2zM588,359v3h1v-3zM588,365v7h1v-7zM588,379v1h1v-1zM589,342v1h1v-1zM589,358v4h1v-4zM589,363v8h1v-8zM589,380v1h1v-1zM590,342v2h1v-2zM590,358v13h1v-13zM590,377v2h1v-2zM591,341v2h1v-2zM591,358v12h1v-12zM591,376v2h1v-2zM592,341v1h1v-1zM592,357v12h1v-12zM592,378v1h1v-1zM593,341v2h1v-2zM593,357v11h1v-11zM593,373v2h1v-2zM594,340v2h1v-2zM594,357v11h1v-11zM594,377v1h1v-1zM595,338v2h1v-2zM595,356v11h1v-11zM595,374v2h1v-2zM596,338v2h1v-2zM596,356v10h1v-10zM596,376v1h1v-1zM597,337v2h1v-2zM597,356v8h1v-8zM597,376v1h1v-1zM598,337v2h1v-2zM598,355v8h1v-8zM598,376v1h1v-1zM599,336v2h1v-2zM599,355v6h1v-6zM599,375v1h1v-1zM600,330v7h1v-7zM600,354v6h1v-6zM600,374v1h1v-1zM601,330v6h1v-6zM601,354v6h1v-6zM601,374v1h1v-1zM602,334v2h1v-2zM602,354v5h1v-5zM602,374v1h1v-1zM603,334v2h1v-2zM603,353v5h1v-5zM603,373v1h1v-1zM604,327v7h1v-7zM604,353v4h1v-4zM604,373v1h1v-1zM604,379v3h1v-3zM605,327v7h1v-7zM605,352v4h1v-4zM605,372v2h1v-2zM605,378v4h1v-4zM606,332v2h1v-2zM606,352v3h1v-3zM606,372v1h1v-1zM607,331v2h1v-2zM607,352v3h1v-3zM607,372v1h1v-1zM608,324v8h1v-8zM608,351v3h1v-3zM608,371v1h1v-1zM608,376v7h1v-7zM609,324v7h1v-7zM609,351v2h1v-2zM609,371v1h1v-1zM609,376v4h1v-4zM610,325v6h1v-6zM610,351v1h1v-1zM610,370v1h1v-1zM611,323v7h1v-7zM611,369v1h1v-1zM612,323v7h1v-7zM612,369v1h1v-1zM612,377v2h1v-2zM613,321v8h1v-8zM613,368v1h1v-1zM614,321v8h1v-8zM614,368v1h1v-1zM614,372v3h1v-3zM614,377v5h1v-5zM615,323v2h1v-2zM615,326v3h1v-3zM615,368v1h1v-1zM615,372v9h1v-9zM616,320v7h1v-7zM616,367v1h1v-1zM616,371v2h1v-2zM616,380v3h1v-3zM617,320v7h1v-7zM617,367v1h1v-1zM617,371v1h1v-1zM617,381v3h1v-3zM618,318v8h1v-8zM618,366v1h1v-1zM618,370v2h1v-2zM618,384v2h1v-2zM619,317v3h1v-3zM619,322v3h1v-3zM619,366v1h1v-1zM619,370v1h1v-1zM619,382v4h1v-4zM620,318v7h1v-7zM620,365v1h1v-1zM620,369v2h1v-2zM620,381v4h1v-4zM621,317v8h1v-8zM621,365v1h1v-1zM621,368v2h1v-2zM621,384v1h1v-1zM622,316v8h1v-8zM622,364v1h1v-1zM622,368v1h1v-1zM622,381v2h1v-2zM623,317v7h1v-7zM623,364v1h1v-1zM623,367v2h1v-2zM623,379v3h1v-3zM624,318v6h1v-6zM624,363v1h1v-1zM624,366v2h1v-2zM624,377v5h1v-5zM625,314v3h1v-3zM625,319v3h1v-3zM625,363v1h1v-1zM625,366v2h1v-2zM625,381v2h1v-2zM626,315v7h1v-7zM626,362v2h1v-2zM626,365v2h1v-2zM626,378v1h1v-1zM627,316v6h1v-6zM627,362v1h1v-1zM627,364v2h1v-2zM627,375v2h1v-2zM628,313v2h1v-2zM628,318v3h1v-3zM628,361v5h1v-5zM628,376v4h1v-4zM629,313v2h1v-2zM629,317v3h1v-3zM629,361v4h1v-4zM629,377v3h1v-3zM630,311v2h1v-2zM630,360v4h1v-4zM630,373v3h1v-3zM631,312v2h1v-2zM631,316v3h1v-3zM631,360v4h1v-4zM631,374v4h1v-4zM632,312v1h1v-1zM632,316v2h1v-2zM632,360v3h1v-3zM632,374v5h1v-5zM633,312v1h1v-1zM633,315v3h1v-3zM633,359v3h1v-3zM633,380v2h1v-2zM634,312v1h1v-1zM634,314v4h1v-4zM634,359v3h1v-3zM634,381v2h1v-2zM635,313v4h1v-4zM635,358v3h1v-3zM635,381v2h1v-2zM636,358v2h1v-2zM636,379v1h1v-1zM637,358v1h1v-1zM637,377v2h1v-2zM638,377v2h1v-2zM639,375v3h1v-3zM640,378v3h1v-3zM641,381v2h1v-2zM642,377v1h1v-1zM643,376v2h1v-2zM644,381v1h1v-1zM645,378v2h1v-2zM646,376v2h1v-2zM647,375v1h1v-1zM648,374v2h1v-2zM649,372v1h1v-1zM650,377v2h1v-2zM651,376v3h1v-3zM652,380v3h1v-3zM653,381v2h1v-2zM654,383v2h1v-2zM655,381v2h1v-2zM656,380v2h1v-2zM657,380v2h1v-2zM658,379v1h1v-1zM659,378v2h1v-2zM660,380v6h1v-6zM661,383v2h1v-2zM662,378v2h1v-2zM663,379v2h1v-2zM664,379v2h1v-2zM665,378v2h1v-2zM666,381v2h1v-2zM667,378v2h1v-2zM668,379v1h1v-1zM669,377v2h1v-2zM670,377v2h1v-2zM671,374v1h1v-1zM672,381v2h1v-2zM673,382v3h1v-3zM674,380v1h1v-1zM675,380v3h1v-3zM676,381v3h1v-3zM677,379v2h1v-2zM678,378v1h1v-1zM679,377v2h1v-2zM680,378v4h1v-4zM680,384v2h1v-2zM681,382v2h1v-2zM682,384v3h1v-3zM683,385v1h1v-1zM684,383v1h1v-1zM685,383v2h1v-2zM686,379v2h1v-2zM687,376v3h1v-3zM688,379v2h1v-2zM689,374v3h1v-3zM690,372v2h1v-2zM691,372v7h1v-7zM692,379v2h1v-2zM693,379v2h1v-2zM694,378v2h1v-2zM695,375v3h1v-3zM696,379v1h1v-1zM697,379v1h1v-1zM698,379v2h1v-2zM699,379v1h1v-1zM700,379v1h1v-1zM701,379v2h1v-2zM702,379v2h1v-2zM703,378v1h1v-1zM704,377v1h1v-1zM705,377v2h1v-2zM706,377v1h1v-1zM707,376v1h1v-1zM708,376v1h1v-1zM709,376v1h1v-1zM710,376v8h1v-8zM711,374v2h1v-2zM712,374v2h1v-2zM712,378v3h1v-3zM713,373v2h1v-2zM714,373v9h1v-9zM715,374v4h1v-4zM715,381v3h1v-3zM716,384v1h1v-1zM717,383v2h1v-2zM718,383v2h1v-2zM719,384v2h1v-2zM720,381v1h1v-1zM721,378v2h1v-2zM722,378v2h1v-2zM723,380v2h1v-2zM724,375v4h1v-4zM725,378v2h1v-2zM726,379v2h1v-2zM727,310v1h1v-1zM727,379v3h1v-3zM728,309v2h1v-2zM728,380v7h1v-7zM729,308v3h1v-3zM729,379v2h1v-2zM729,384v2h1v-2zM730,308v2h1v-2zM730,379v5h1v-5zM730,386v2h1v-2zM731,309v2h1v-2zM731,380v2h1v-2zM731,387v2h1v-2zM732,309v2h1v-2zM732,377v8h1v-8zM733,309v1h1v-1zM733,378v3h1v-3zM733,385v1h1v-1zM734,308v1h1v-1zM734,377v6h1v-6zM735,309v1h1v-1zM735,383v2h1v-2zM736,307v2h1v-2zM736,377v6h1v-6zM737,307v1h1v-1zM737,376v3h1v-3zM737,382v3h1v-3zM738,306v2h1v-2zM738,375v8h1v-8zM739,384v1h1v-1zM740,382v2h1v-2zM741,382v2h1v-2zM742,382v2h1v-2zM743,372v8h1v-8zM744,372v4h1v-4zM744,379v2h1v-2zM745,380v1h1v-1zM746,370v7h1v-7zM747,371v4h1v-4zM747,376v3h1v-3zM748,371v2h1v-2zM748,378v2h1v-2zM749,379v2h1v-2zM750,379v3h1v-3zM751,379v3h1v-3zM752,381v2h1v-2zM753,368v2h1v-2zM753,378v2h1v-2zM754,379v1h1v-1zM755,367v2h1v-2zM755,377v2h1v-2zM756,378v1h1v-1zM757,379v3h1v-3zM758,379v2h1v-2zM759,380v2h1v-2zM760,380v2h1v-2zM761,379v2h1v-2zM762,379v2h1v-2zM763,378v2h1v-2zM764,377v3h1v-3zM765,381v2h1v-2zM766,381v3h1v-3zM767,378v3h1v-3zM768,381v3h1v-3zM769,381v3h1v-3zM770,381v3h1v-3zM771,383v2h1v-2zM772,380v2h1v-2zM773,377v2h1v-2zM774,375v2h1v-2zM775,378v2h1v-2zM776,376v2h1v-2zM777,373v2h1v-2zM778,326v1h1v-1zM778,372v1h1v-1zM779,327v1h1v-1zM779,370v2h1v-2zM780,327v1h1v-1zM780,368v2h1v-2zM781,327v1h1v-1zM781,371v2h1v-2zM782,325v2h1v-2zM782,372v1h1v-1zM783,326v1h1v-1zM783,372v2h1v-2zM784,326v1h1v-1zM784,371v1h1v-1zM785,325v1h1v-1zM785,371v1h1v-1zM786,323v2h1v-2zM786,369v1h1v-1zM787,324v2h1v-2zM787,370v2h1v-2zM788,324v2h1v-2zM788,335v1h1v-1zM788,369v1h1v-1zM789,322v2h1v-2zM789,369v2h1v-2zM790,322v2h1v-2zM790,369v2h1v-2zM791,322v2h1v-2zM791,333v2h1v-2zM791,369v2h1v-2zM792,324v2h1v-2zM792,331v5h1v-5zM792,372v1h1v-1zM793,322v3h1v-3zM793,331v4h1v-4zM793,371v1h1v-1zM794,323v3h1v-3zM794,329v6h1v-6zM794,370v2h1v-2zM795,322v2h1v-2zM795,330v4h1v-4zM795,370v2h1v-2zM796,322v3h1v-3zM796,329v5h1v-5zM796,370v1h1v-1zM797,325v4h1v-4zM797,332v3h1v-3zM797,370v2h1v-2zM798,324v5h1v-5zM798,332v2h1v-2zM798,370v2h1v-2zM799,323v5h1v-5zM799,331v3h1v-3zM799,344v1h1v-1zM799,370v3h1v-3zM800,324v3h1v-3zM800,331v2h1v-2zM800,343v2h1v-2zM800,369v4h1v-4zM801,332v2h1v-2zM801,342v2h1v-2zM801,368v5h1v-5zM802,331v2h1v-2zM802,341v3h1v-3zM802,368v5h1v-5zM802,374v2h1v-2zM803,331v2h1v-2zM803,341v2h1v-2zM803,367v7h1v-7zM804,331v2h1v-2zM804,340v3h1v-3zM804,366v8h1v-8zM805,333v10h1v-10zM805,365v9h1v-9zM806,334v8h1v-8zM806,364v7h1v-7zM806,372v2h1v-2zM807,335v7h1v-7zM807,363v8h1v-8zM808,340v2h1v-2zM808,361v9h1v-9zM808,375v1h1v-1zM809,341v1h1v-1zM809,359v11h1v-11zM810,341v1h1v-1zM810,358v11h1v-11zM810,376v1h1v-1zM811,341v1h1v-1zM811,357v12h1v-12zM811,375v1h1v-1zM812,341v1h1v-1zM812,356v13h1v-13zM812,374v1h1v-1zM813,341v2h1v-2zM813,355v10h1v-10zM813,366v2h1v-2zM814,340v2h1v-2zM814,354v10h1v-10zM814,366v2h1v-2zM814,374v1h1v-1zM815,340v2h1v-2zM815,353v10h1v-10zM815,365v2h1v-2zM816,342v4h1v-4zM816,352v10h1v-10zM816,365v2h1v-2zM816,374v1h1v-1zM817,342v3h1v-3zM817,351v10h1v-10zM817,365v2h1v-2zM818,343v17h1v-17zM818,364v2h1v-2zM819,344v15h1v-15zM819,364v2h1v-2zM819,373v1h1v-1zM820,346v12h1v-12zM820,364v1h1v-1zM821,348v9h1v-9zM821,363v2h1v-2zM821,372v1h1v-1zM822,348v8h1v-8zM822,363v2h1v-2zM822,372v1h1v-1zM823,347v7h1v-7zM823,362v2h1v-2zM823,371v2h1v-2zM824,350v1h1v-1zM824,362v2h1v-2zM824,370v2h1v-2zM825,362v1h1v-1zM825,370v1h1v-1zM826,361v2h1v-2zM826,369v2h1v-2zM827,361v2h1v-2zM827,368v2h1v-2zM828,361v8h1v-8zM829,360v9h1v-9zM830,360v8h1v-8zM831,359v8h1v-8zM832,359v8h1v-8zM833,359v7h1v-7zM834,361v4h1v-4zM835,363v1h1v-1zM836,361v3h1v-3z"/>
<path fill="#e3f2f1" d="M583,349v11h1v-11zM583,376v6h1v-6zM584,347v12h1v-12zM584,375v5h1v-5zM585,346v13h1v-13zM585,374v7h1v-7zM586,346v13h1v-13zM586,374v5h1v-5zM587,345v14h1v-14zM587,373v8h1v-8zM588,346v13h1v-13zM588,372v7h1v-7zM589,343v15h1v-15zM589,371v9h1v-9zM590,344v14h1v-14zM590,371v6h1v-6zM591,343v15h1v-15zM591,370v6h1v-6zM592,342v3h1v-3zM592,354v3h1v-3zM592,369v2h1v-2zM592,376v2h1v-2zM593,343v3h1v-3zM593,354v3h1v-3zM593,368v2h1v-2zM593,371v2h1v-2zM594,342v3h1v-3zM594,354v3h1v-3zM594,368v2h1v-2zM594,375v2h1v-2zM595,340v1h1v-1zM595,354v2h1v-2zM595,367v2h1v-2zM595,372v2h1v-2zM596,340v1h1v-1zM596,354v2h1v-2zM596,366v2h1v-2zM596,375v1h1v-1zM597,339v1h1v-1zM597,353v3h1v-3zM597,364v4h1v-4zM597,375v1h1v-1zM598,339v1h1v-1zM598,353v2h1v-2zM598,363v4h1v-4zM598,375v1h1v-1zM599,338v2h1v-2zM599,353v2h1v-2zM599,361v5h1v-5zM599,374v1h1v-1zM600,337v1h1v-1zM600,352v2h1v-2zM600,360v6h1v-6zM601,336v1h1v-1zM601,352v2h1v-2zM601,360v5h1v-5zM602,336v1h1v-1zM602,351v3h1v-3zM602,359v5h1v-5zM602,373v1h1v-1zM603,336v2h1v-2zM603,351v2h1v-2zM603,358v6h1v-6zM604,334v2h1v-2zM604,351v2h1v-2zM604,357v6h1v-6zM604,372v1h1v-1zM605,334v1h1v-1zM605,350v2h1v-2zM605,356v7h1v-7zM606,334v1h1v-1zM606,350v2h1v-2zM606,355v7h1v-7zM606,371v1h1v-1zM607,333v2h1v-2zM607,349v3h1v-3zM607,355v6h1v-6zM607,371v1h1v-1zM608,332v1h1v-1zM608,349v2h1v-2zM608,354v7h1v-7zM608,370v1h1v-1zM609,331v2h1v-2zM609,348v3h1v-3zM609,353v7h1v-7zM609,370v1h1v-1zM610,331v2h1v-2zM610,348v3h1v-3zM610,352v7h1v-7zM610,369v1h1v-1zM611,330v2h1v-2zM611,348v11h1v-11zM612,330v1h1v-1zM612,347v11h1v-11zM612,368v1h1v-1zM613,329v1h1v-1zM613,347v11h1v-11zM614,329v1h1v-1zM614,346v11h1v-11zM614,367v1h1v-1zM614,375v2h1v-2zM615,329v1h1v-1zM615,346v10h1v-10zM615,367v1h1v-1zM616,327v2h1v-2zM616,345v10h1v-10zM616,366v1h1v-1zM616,373v7h1v-7zM617,327v2h1v-2zM617,345v9h1v-9zM617,366v1h1v-1zM617,372v2h1v-2zM617,376v5h1v-5zM618,326v2h1v-2zM618,344v9h1v-9zM618,365v1h1v-1zM618,372v2h1v-2zM618,381v3h1v-3zM619,320v2h1v-2zM619,325v2h1v-2zM619,344v8h1v-8zM619,365v1h1v-1zM619,371v2h1v-2zM619,380v2h1v-2zM620,325v2h1v-2zM620,344v7h1v-7zM620,364v1h1v-1zM620,371v1h1v-1zM620,378v3h1v-3zM621,325v1h1v-1zM621,343v7h1v-7zM621,364v1h1v-1zM621,370v2h1v-2zM621,381v3h1v-3zM622,324v2h1v-2zM622,343v6h1v-6zM622,363v1h1v-1zM622,369v2h1v-2zM622,379v2h1v-2zM623,324v2h1v-2zM623,342v6h1v-6zM623,363v1h1v-1zM623,369v1h1v-1zM623,377v2h1v-2zM624,324v1h1v-1zM624,342v5h1v-5zM624,362v1h1v-1zM624,368v2h1v-2zM624,374v3h1v-3zM625,317v2h1v-2zM625,322v2h1v-2zM625,342v4h1v-4zM625,362v1h1v-1zM625,368v1h1v-1zM625,379v2h1v-2zM626,322v2h1v-2zM626,341v4h1v-4zM626,361v1h1v-1zM626,367v2h1v-2zM626,376v2h1v-2zM627,322v1h1v-1zM627,341v4h1v-4zM627,361v1h1v-1zM627,366v2h1v-2zM627,373v2h1v-2zM628,315v3h1v-3zM628,321v1h1v-1zM628,341v3h1v-3zM628,360v1h1v-1zM628,366v1h1v-1zM628,374v2h1v-2zM629,315v2h1v-2zM629,320v2h1v-2zM629,340v3h1v-3zM629,360v1h1v-1zM629,365v2h1v-2zM629,374v3h1v-3zM630,313v8h1v-8zM630,340v1h1v-1zM630,364v2h1v-2zM630,369v4h1v-4zM631,314v2h1v-2zM631,319v2h1v-2zM631,359v1h1v-1zM631,364v1h1v-1zM631,371v3h1v-3zM632,313v3h1v-3zM632,318v2h1v-2zM632,359v1h1v-1zM632,363v2h1v-2zM632,371v3h1v-3zM633,313v2h1v-2zM633,318v2h1v-2zM633,358v1h1v-1zM633,362v2h1v-2zM633,375v1h1v-1zM633,377v3h1v-3zM634,313v1h1v-1zM634,318v1h1v-1zM634,358v1h1v-1zM634,362v1h1v-1zM634,379v2h1v-2zM635,312v1h1v-1zM635,317v2h1v-2zM635,357v1h1v-1zM635,361v2h1v-2zM635,379v2h1v-2zM636,309v8h1v-8zM636,357v1h1v-1zM636,360v2h1v-2zM636,377v2h1v-2zM637,308v3h1v-3zM637,312v5h1v-5zM637,356v2h1v-2zM637,359v2h1v-2zM637,375v2h1v-2zM638,310v7h1v-7zM638,356v5h1v-5zM638,376v1h1v-1zM639,308v2h1v-2zM639,311v5h1v-5zM639,356v4h1v-4zM639,374v1h1v-1zM640,309v6h1v-6zM640,355v4h1v-4zM640,376v2h1v-2zM641,308v7h1v-7zM641,355v3h1v-3zM641,380v1h1v-1zM642,306v1h1v-1zM642,310v4h1v-4zM642,354v4h1v-4zM642,375v2h1v-2zM643,307v1h1v-1zM643,309v4h1v-4zM643,354v3h1v-3zM643,375v1h1v-1zM644,310v2h1v-2zM644,354v2h1v-2zM644,379v2h1v-2zM645,308v5h1v-5zM645,353v2h1v-2zM645,377v1h1v-1zM646,308v4h1v-4zM646,353v2h1v-2zM646,374v2h1v-2zM647,307v4h1v-4zM647,353v1h1v-1zM647,373v2h1v-2zM648,306v5h1v-5zM648,373v1h1v-1zM649,306v4h1v-4zM649,371v1h1v-1zM650,306v4h1v-4zM650,374v3h1v-3zM651,306v3h1v-3zM651,373v3h1v-3zM652,305v4h1v-4zM652,378v2h1v-2zM653,305v3h1v-3zM653,378v3h1v-3zM654,306v2h1v-2zM654,380v3h1v-3zM655,306v1h1v-1zM655,378v3h1v-3zM656,306v1h1v-1zM656,377v3h1v-3zM657,303v3h1v-3zM657,379v1h1v-1zM658,303v2h1v-2zM658,377v2h1v-2zM659,305v1h1v-1zM659,376v2h1v-2zM660,378v2h1v-2zM661,378v5h1v-5zM662,372v6h1v-6zM663,378v1h1v-1zM664,377v2h1v-2zM665,376v2h1v-2zM666,377v4h1v-4zM667,374v4h1v-4zM668,377v2h1v-2zM669,375v2h1v-2zM670,376v1h1v-1zM671,372v2h1v-2zM672,378v3h1v-3zM673,381v1h1v-1zM674,379v1h1v-1zM675,379v1h1v-1zM676,379v2h1v-2zM677,378v1h1v-1zM678,377v1h1v-1zM679,376v1h1v-1zM680,312v3h1v-3zM680,377v1h1v-1zM680,382v2h1v-2zM681,314v2h1v-2zM681,376v6h1v-6zM682,312v2h1v-2zM682,381v3h1v-3zM683,313v2h1v-2zM683,378v1h1v-1zM683,382v3h1v-3zM684,313v2h1v-2zM684,376v3h1v-3zM684,381v2h1v-2zM685,312v2h1v-2zM685,382v1h1v-1zM686,311v2h1v-2zM686,376v3h1v-3zM687,313v1h1v-1zM687,374v2h1v-2zM688,311v1h1v-1zM688,374v5h1v-5zM689,312v1h1v-1zM689,372v2h1v-2zM690,371v1h1v-1zM691,371v1h1v-1zM692,371v8h1v-8zM693,376v3h1v-3zM694,371v7h1v-7zM695,369v6h1v-6zM696,376v3h1v-3zM697,377v2h1v-2zM698,378v1h1v-1zM699,378v1h1v-1zM700,377v2h1v-2zM701,378v1h1v-1zM702,377v2h1v-2zM703,377v1h1v-1zM704,376v1h1v-1zM705,376v1h1v-1zM706,376v1h1v-1zM707,375v1h1v-1zM708,375v1h1v-1zM709,374v2h1v-2zM710,374v2h1v-2zM711,373v1h1v-1zM712,317v3h1v-3zM712,372v2h1v-2zM713,317v2h1v-2zM713,372v1h1v-1zM714,316v3h1v-3zM714,372v1h1v-1zM715,315v3h1v-3zM715,372v2h1v-2zM715,378v3h1v-3zM716,315v3h1v-3zM716,375v1h1v-1zM716,382v2h1v-2zM717,314v4h1v-4zM717,382v1h1v-1zM718,314v3h1v-3zM718,381v2h1v-2zM719,314v2h1v-2zM719,382v2h1v-2zM720,313v2h1v-2zM720,379v2h1v-2zM721,313v2h1v-2zM721,371v7h1v-7zM722,312v2h1v-2zM722,373v5h1v-5zM723,312v1h1v-1zM723,377v3h1v-3zM724,311v2h1v-2zM724,369v6h1v-6zM725,310v3h1v-3zM725,369v9h1v-9zM726,310v3h1v-3zM726,369v4h1v-4zM726,376v3h1v-3zM727,309v1h1v-1zM727,311v2h1v-2zM727,377v2h1v-2zM728,308v1h1v-1zM728,311v2h1v-2zM728,377v3h1v-3zM729,311v2h1v-2zM729,377v2h1v-2zM730,307v1h1v-1zM730,310v2h1v-2zM730,377v2h1v-2zM730,384v2h1v-2zM731,311v1h1v-1zM731,378v2h1v-2zM731,382v2h1v-2zM731,385v2h1v-2zM732,311v1h1v-1zM732,375v2h1v-2zM733,310v1h1v-1zM733,376v2h1v-2zM733,381v4h1v-4zM734,309v1h1v-1zM734,375v2h1v-2zM735,310v1h1v-1zM735,377v6h1v-6zM736,309v1h1v-1zM736,375v2h1v-2zM737,308v1h1v-1zM737,375v1h1v-1zM737,379v3h1v-3zM738,308v1h1v-1zM738,373v2h1v-2zM739,308v1h1v-1zM739,374v5h1v-5zM739,382v2h1v-2zM740,374v4h1v-4zM740,381v1h1v-1zM741,374v5h1v-5zM741,380v2h1v-2zM742,373v5h1v-5zM742,380v2h1v-2zM743,370v2h1v-2zM744,370v2h1v-2zM744,376v3h1v-3zM745,371v5h1v-5zM745,378v2h1v-2zM746,368v2h1v-2zM747,369v2h1v-2zM747,375v1h1v-1zM748,369v2h1v-2zM748,373v2h1v-2zM748,376v2h1v-2zM749,369v4h1v-4zM749,377v2h1v-2zM750,370v3h1v-3zM750,377v2h1v-2zM751,369v3h1v-3zM751,376v3h1v-3zM752,369v2h1v-2zM752,378v3h1v-3zM753,367v1h1v-1zM753,370v2h1v-2zM753,375v3h1v-3zM754,366v5h1v-5zM754,377v2h1v-2zM755,365v2h1v-2zM755,369v2h1v-2zM755,375v2h1v-2zM756,365v5h1v-5zM756,375v3h1v-3zM757,378v1h1v-1zM758,377v2h1v-2zM759,378v2h1v-2zM760,378v2h1v-2zM761,378v1h1v-1zM762,378v1h1v-1zM763,377v1h1v-1zM764,376v1h1v-1zM765,379v2h1v-2zM766,379v2h1v-2zM767,376v2h1v-2zM768,379v2h1v-2zM769,379v2h1v-2zM770,379v2h1v-2zM771,380v3h1v-3zM772,378v2h1v-2zM773,376v1h1v-1zM774,373v2h1v-2zM775,375v3h1v-3zM776,325v4h1v-4zM776,374v2h1v-2zM777,326v4h1v-4zM777,372v1h1v-1zM778,327v3h1v-3zM778,370v2h1v-2zM779,328v2h1v-2zM779,368v2h1v-2zM780,328v2h1v-2zM780,367v1h1v-1zM781,328v2h1v-2zM781,338v1h1v-1zM781,370v1h1v-1zM782,327v2h1v-2zM782,370v2h1v-2zM783,327v2h1v-2zM783,336v3h1v-3zM783,371v1h1v-1zM784,327v2h1v-2zM784,335v4h1v-4zM784,370v1h1v-1zM785,326v2h1v-2zM785,335v4h1v-4zM785,370v1h1v-1zM786,325v2h1v-2zM786,335v2h1v-2zM786,368v1h1v-1zM787,326v2h1v-2zM787,333v5h1v-5zM787,369v1h1v-1zM788,326v2h1v-2zM788,333v2h1v-2zM788,336v2h1v-2zM788,368v1h1v-1zM789,324v2h1v-2zM789,333v4h1v-4zM789,349v1h1v-1zM789,368v1h1v-1zM790,324v2h1v-2zM790,332v5h1v-5zM790,348v2h1v-2zM790,367v2h1v-2zM791,324v3h1v-3zM791,331v2h1v-2zM791,335v2h1v-2zM791,347v3h1v-3zM791,367v2h1v-2zM792,326v5h1v-5zM792,336v2h1v-2zM792,346v3h1v-3zM792,370v2h1v-2zM793,325v6h1v-6zM793,335v1h1v-1zM793,345v4h1v-4zM793,369v2h1v-2zM794,326v3h1v-3zM794,335v2h1v-2zM794,344v5h1v-5zM794,369v1h1v-1zM795,324v6h1v-6zM795,334v2h1v-2zM795,343v5h1v-5zM795,367v3h1v-3zM796,325v4h1v-4zM796,334v2h1v-2zM796,342v6h1v-6zM796,366v4h1v-4zM797,335v2h1v-2zM797,342v6h1v-6zM797,364v6h1v-6zM798,334v2h1v-2zM798,341v6h1v-6zM798,363v7h1v-7zM799,334v2h1v-2zM799,340v4h1v-4zM799,345v2h1v-2zM799,363v7h1v-7zM800,333v2h1v-2zM800,339v4h1v-4zM800,345v1h1v-1zM800,362v7h1v-7zM801,334v8h1v-8zM801,344v2h1v-2zM801,361v7h1v-7zM802,333v2h1v-2zM802,338v3h1v-3zM802,344v1h1v-1zM802,360v8h1v-8zM802,373v1h1v-1zM803,333v3h1v-3zM803,337v4h1v-4zM803,343v2h1v-2zM803,359v8h1v-8zM804,333v7h1v-7zM804,343v2h1v-2zM804,358v8h1v-8zM805,343v1h1v-1zM805,357v8h1v-8zM806,342v2h1v-2zM806,355v9h1v-9zM806,371v1h1v-1zM807,342v1h1v-1zM807,354v9h1v-9zM807,371v1h1v-1zM807,373v1h1v-1zM808,342v1h1v-1zM808,353v8h1v-8zM808,370v2h1v-2zM808,374v1h1v-1zM809,342v1h1v-1zM809,352v7h1v-7zM809,370v1h1v-1zM809,375v1h1v-1zM810,342v2h1v-2zM810,351v7h1v-7zM810,369v2h1v-2zM811,342v3h1v-3zM811,351v6h1v-6zM811,369v1h1v-1zM812,342v3h1v-3zM812,350v6h1v-6zM812,369v1h1v-1zM812,373v1h1v-1zM813,343v4h1v-4zM813,349v6h1v-6zM813,368v2h1v-2zM813,374v1h1v-1zM814,342v3h1v-3zM814,348v6h1v-6zM814,368v1h1v-1zM815,342v4h1v-4zM815,348v5h1v-5zM815,367v2h1v-2zM815,374v1h1v-1zM816,346v6h1v-6zM816,367v1h1v-1zM817,345v6h1v-6zM817,367v1h1v-1zM817,373v1h1v-1zM818,366v8h1v-8zM819,366v7h1v-7zM820,365v8h1v-8zM821,365v7h1v-7zM822,365v7h1v-7zM823,364v7h1v-7zM824,364v6h1v-6zM825,363v7h1v-7zM826,363v6h1v-6zM827,363v5h1v-5z"/>
<path fill="#e8f4ed" d="M592,345v9h1v-9zM592,371v5h1v-5zM593,346v8h1v-8zM593,370v1h1v-1zM594,345v9h1v-9zM594,370v5h1v-5zM595,341v13h1v-13zM595,369v3h1v-3zM596,341v13h1v-13zM596,368v7h1v-7zM597,340v13h1v-13zM597,368v7h1v-7zM598,340v13h1v-13zM598,367v8h1v-8zM599,340v13h1v-13zM599,366v8h1v-8zM600,338v14h1v-14zM600,366v8h1v-8zM601,337v15h1v-15zM601,365v9h1v-9zM602,337v14h1v-14zM602,364v9h1v-9zM603,338v3h1v-3zM603,349v2h1v-2zM603,364v1h1v-1zM603,372v1h1v-1zM604,336v1h1v-1zM604,348v3h1v-3zM604,363v2h1v-2zM604,371v1h1v-1zM605,335v2h1v-2zM605,348v2h1v-2zM605,363v1h1v-1zM605,371v1h1v-1zM606,335v4h1v-4zM606,348v2h1v-2zM606,362v2h1v-2zM606,370v1h1v-1zM607,335v3h1v-3zM607,347v2h1v-2zM607,361v2h1v-2zM607,370v1h1v-1zM608,333v1h1v-1zM608,347v2h1v-2zM608,361v1h1v-1zM608,369v1h1v-1zM609,333v1h1v-1zM609,347v1h1v-1zM609,360v2h1v-2zM609,369v1h1v-1zM610,333v2h1v-2zM610,346v2h1v-2zM610,359v2h1v-2zM610,368v1h1v-1zM611,332v1h1v-1zM611,346v2h1v-2zM611,359v1h1v-1zM611,368v1h1v-1zM612,331v3h1v-3zM612,345v2h1v-2zM612,358v2h1v-2zM612,367v1h1v-1zM613,330v1h1v-1zM613,345v2h1v-2zM613,358v1h1v-1zM613,367v1h1v-1zM614,330v1h1v-1zM614,344v2h1v-2zM614,357v2h1v-2zM614,366v1h1v-1zM615,330v3h1v-3zM615,344v2h1v-2zM615,356v2h1v-2zM615,366v1h1v-1zM616,329v1h1v-1zM616,344v1h1v-1zM616,355v2h1v-2zM617,329v1h1v-1zM617,343v2h1v-2zM617,354v3h1v-3zM617,365v1h1v-1zM617,374v2h1v-2zM618,328v1h1v-1zM618,343v1h1v-1zM618,353v3h1v-3zM618,374v7h1v-7zM619,327v1h1v-1zM619,342v2h1v-2zM619,352v4h1v-4zM619,364v1h1v-1zM619,373v7h1v-7zM620,327v1h1v-1zM620,342v2h1v-2zM620,351v4h1v-4zM620,372v6h1v-6zM621,326v2h1v-2zM621,341v2h1v-2zM621,350v4h1v-4zM621,363v1h1v-1zM621,372v9h1v-9zM622,326v1h1v-1zM622,341v2h1v-2zM622,349v5h1v-5zM622,371v8h1v-8zM623,326v1h1v-1zM623,341v1h1v-1zM623,348v5h1v-5zM623,362v1h1v-1zM623,370v7h1v-7zM624,325v3h1v-3zM624,340v2h1v-2zM624,347v6h1v-6zM624,370v4h1v-4zM625,324v1h1v-1zM625,340v2h1v-2zM625,346v6h1v-6zM625,361v1h1v-1zM625,369v10h1v-10zM626,324v1h1v-1zM626,339v2h1v-2zM626,345v6h1v-6zM626,369v7h1v-7zM627,323v2h1v-2zM627,339v2h1v-2zM627,345v6h1v-6zM627,360v1h1v-1zM627,368v5h1v-5zM628,322v1h1v-1zM628,339v2h1v-2zM628,344v6h1v-6zM628,367v2h1v-2zM628,371v3h1v-3zM629,322v1h1v-1zM629,338v2h1v-2zM629,343v6h1v-6zM629,359v1h1v-1zM629,367v2h1v-2zM629,370v4h1v-4zM630,321v1h1v-1zM630,338v2h1v-2zM630,341v8h1v-8zM630,359v1h1v-1zM630,366v3h1v-3zM631,321v1h1v-1zM631,337v11h1v-11zM631,358v1h1v-1zM631,365v6h1v-6zM632,320v1h1v-1zM632,337v10h1v-10zM632,358v1h1v-1zM632,365v6h1v-6zM633,320v1h1v-1zM633,337v8h1v-8zM633,357v1h1v-1zM633,364v2h1v-2zM633,369v6h1v-6zM633,376v1h1v-1zM634,319v1h1v-1zM634,336v7h1v-7zM634,357v1h1v-1zM634,363v2h1v-2zM634,378v1h1v-1zM635,319v1h1v-1zM635,336v6h1v-6zM635,363v1h1v-1zM635,377v2h1v-2zM636,317v1h1v-1zM636,336v5h1v-5zM636,356v1h1v-1zM636,362v2h1v-2zM636,372v5h1v-5zM637,311v1h1v-1zM637,317v1h1v-1zM637,335v5h1v-5zM637,361v2h1v-2zM637,370v5h1v-5zM638,317v1h1v-1zM638,335v4h1v-4zM638,355v1h1v-1zM638,361v1h1v-1zM638,372v1h1v-1zM638,374v2h1v-2zM639,310v1h1v-1zM639,316v1h1v-1zM639,335v2h1v-2zM639,355v1h1v-1zM639,360v1h1v-1zM639,370v4h1v-4zM640,315v2h1v-2zM640,354v1h1v-1zM640,359v2h1v-2zM640,371v5h1v-5zM641,315v1h1v-1zM641,354v1h1v-1zM641,358v2h1v-2zM641,377v3h1v-3zM642,307v3h1v-3zM642,314v1h1v-1zM642,353v1h1v-1zM642,358v1h1v-1zM642,368v7h1v-7zM643,308v1h1v-1zM643,313v2h1v-2zM643,353v1h1v-1zM643,357v2h1v-2zM643,374v1h1v-1zM644,305v5h1v-5zM644,312v2h1v-2zM644,353v1h1v-1zM644,356v2h1v-2zM644,377v2h1v-2zM645,313v1h1v-1zM645,352v1h1v-1zM645,355v2h1v-2zM645,375v2h1v-2zM646,306v2h1v-2zM646,312v1h1v-1zM646,352v1h1v-1zM646,355v2h1v-2zM646,372v2h1v-2zM647,306v1h1v-1zM647,311v1h1v-1zM647,351v2h1v-2zM647,354v2h1v-2zM647,371v2h1v-2zM648,311v1h1v-1zM648,351v4h1v-4zM648,371v2h1v-2zM649,310v1h1v-1zM649,350v5h1v-5zM649,369v2h1v-2zM650,305v1h1v-1zM650,310v1h1v-1zM650,350v4h1v-4zM650,372v2h1v-2zM651,309v1h1v-1zM651,350v3h1v-3zM651,371v2h1v-2zM652,309v1h1v-1zM652,349v3h1v-3zM652,376v2h1v-2zM653,304v1h1v-1zM653,308v1h1v-1zM653,349v3h1v-3zM653,376v2h1v-2zM654,308v1h1v-1zM654,348v3h1v-3zM654,377v3h1v-3zM655,307v2h1v-2zM655,348v2h1v-2zM655,376v2h1v-2zM656,307v1h1v-1zM656,348v1h1v-1zM656,376v1h1v-1zM657,306v1h1v-1zM657,347v2h1v-2zM657,376v3h1v-3zM658,305v2h1v-2zM658,347v1h1v-1zM658,375v2h1v-2zM659,306v1h1v-1zM659,346v2h1v-2zM659,374v2h1v-2zM660,346v1h1v-1zM660,375v3h1v-3zM661,345v1h1v-1zM661,374v4h1v-4zM662,304v1h1v-1zM662,370v2h1v-2zM663,304v1h1v-1zM663,376v2h1v-2zM664,376v1h1v-1zM665,373v3h1v-3zM666,375v2h1v-2zM667,371v3h1v-3zM668,376v1h1v-1zM669,374v1h1v-1zM670,374v2h1v-2zM671,369v3h1v-3zM672,373v5h1v-5zM673,380v1h1v-1zM674,378v1h1v-1zM675,378v1h1v-1zM676,378v1h1v-1zM677,314v2h1v-2zM677,377v1h1v-1zM678,313v3h1v-3zM678,375v2h1v-2zM679,311v5h1v-5zM679,374v2h1v-2zM680,315v2h1v-2zM680,376v1h1v-1zM681,316v2h1v-2zM681,375v1h1v-1zM682,314v3h1v-3zM682,376v5h1v-5zM683,315v2h1v-2zM683,376v2h1v-2zM683,379v3h1v-3zM684,315v2h1v-2zM684,375v1h1v-1zM684,379v2h1v-2zM685,314v2h1v-2zM685,380v2h1v-2zM686,313v2h1v-2zM686,375v1h1v-1zM687,314v2h1v-2zM687,373v1h1v-1zM688,312v3h1v-3zM688,373v1h1v-1zM689,313v2h1v-2zM689,371v1h1v-1zM690,313v2h1v-2zM690,370v1h1v-1zM691,314v2h1v-2zM691,370v1h1v-1zM692,312v2h1v-2zM692,370v1h1v-1zM693,313v2h1v-2zM693,370v6h1v-6zM694,313v2h1v-2zM694,370v1h1v-1zM695,310v2h1v-2zM695,368v1h1v-1zM696,312v1h1v-1zM696,369v7h1v-7zM697,313v1h1v-1zM697,369v5h1v-5zM697,375v2h1v-2zM698,310v1h1v-1zM698,377v1h1v-1zM699,310v1h1v-1zM699,376v2h1v-2zM700,310v1h1v-1zM700,376v1h1v-1zM701,376v2h1v-2zM702,376v1h1v-1zM703,376v1h1v-1zM704,375v1h1v-1zM705,375v1h1v-1zM706,375v1h1v-1zM707,374v1h1v-1zM708,320v1h1v-1zM708,374v1h1v-1zM709,318v4h1v-4zM709,373v1h1v-1zM710,318v3h1v-3zM710,373v1h1v-1zM711,317v4h1v-4zM711,372v1h1v-1zM712,316v1h1v-1zM712,320v1h1v-1zM712,371v1h1v-1zM713,316v1h1v-1zM713,319v1h1v-1zM713,370v2h1v-2zM714,315v1h1v-1zM714,319v1h1v-1zM714,371v1h1v-1zM715,314v1h1v-1zM715,318v2h1v-2zM715,371v1h1v-1zM716,314v1h1v-1zM716,318v1h1v-1zM716,372v3h1v-3zM716,376v6h1v-6zM717,313v1h1v-1zM717,318v1h1v-1zM717,373v9h1v-9zM718,313v1h1v-1zM718,317v1h1v-1zM718,373v8h1v-8zM719,312v2h1v-2zM719,316v1h1v-1zM719,380v2h1v-2zM720,312v1h1v-1zM720,315v2h1v-2zM720,371v8h1v-8zM721,311v2h1v-2zM721,315v1h1v-1zM721,369v2h1v-2zM722,311v1h1v-1zM722,314v2h1v-2zM722,369v4h1v-4zM723,311v1h1v-1zM723,313v2h1v-2zM723,372v5h1v-5zM724,310v1h1v-1zM724,313v2h1v-2zM724,368v1h1v-1zM725,309v1h1v-1zM725,313v1h1v-1zM725,368v1h1v-1zM726,309v1h1v-1zM726,313v1h1v-1zM726,367v2h1v-2zM726,373v3h1v-3zM727,308v1h1v-1zM727,313v1h1v-1zM727,367v10h1v-10zM728,307v1h1v-1zM728,313v1h1v-1zM728,375v2h1v-2zM729,313v1h1v-1zM729,375v2h1v-2zM730,306v1h1v-1zM730,312v1h1v-1zM730,376v1h1v-1zM731,312v1h1v-1zM731,376v2h1v-2zM731,384v1h1v-1zM732,312v1h1v-1zM732,373v2h1v-2zM733,311v1h1v-1zM733,374v2h1v-2zM734,310v2h1v-2zM734,373v2h1v-2zM735,311v1h1v-1zM735,375v2h1v-2zM736,310v1h1v-1zM736,374v1h1v-1zM737,309v1h1v-1zM737,374v1h1v-1zM738,309v1h1v-1zM738,372v1h1v-1zM739,309v1h1v-1zM739,373v1h1v-1zM739,379v3h1v-3zM740,310v1h1v-1zM740,372v2h1v-2zM740,378v3h1v-3zM741,310v1h1v-1zM741,372v2h1v-2zM741,379v1h1v-1zM742,309v1h1v-1zM742,372v1h1v-1zM742,378v2h1v-2zM743,308v1h1v-1zM743,369v1h1v-1zM744,308v1h1v-1zM744,369v1h1v-1zM745,307v1h1v-1zM745,369v2h1v-2zM745,376v2h1v-2zM746,309v1h1v-1zM746,367v1h1v-1zM747,309v1h1v-1zM747,367v2h1v-2zM748,307v1h1v-1zM748,368v1h1v-1zM748,375v1h1v-1zM749,309v1h1v-1zM749,367v2h1v-2zM749,373v4h1v-4zM750,368v2h1v-2zM750,373v4h1v-4zM751,367v2h1v-2zM751,372v4h1v-4zM752,367v2h1v-2zM752,371v2h1v-2zM752,374v4h1v-4zM753,365v2h1v-2zM753,372v3h1v-3zM754,365v1h1v-1zM754,371v1h1v-1zM754,373v4h1v-4zM755,363v2h1v-2zM755,371v4h1v-4zM756,363v2h1v-2zM756,370v1h1v-1zM756,372v3h1v-3zM757,366v2h1v-2zM757,376v2h1v-2zM758,365v3h1v-3zM758,375v2h1v-2zM759,377v1h1v-1zM760,377v1h1v-1zM761,377v1h1v-1zM762,376v2h1v-2zM763,375v2h1v-2zM764,375v1h1v-1zM765,375v4h1v-4zM766,377v2h1v-2zM767,318v1h1v-1zM767,375v1h1v-1zM768,318v1h1v-1zM768,376v3h1v-3zM769,317v1h1v-1zM769,377v2h1v-2zM770,316v2h1v-2zM770,377v2h1v-2zM771,318v1h1v-1zM771,378v2h1v-2zM772,320v1h1v-1zM772,376v2h1v-2zM773,319v2h1v-2zM773,374v2h1v-2zM774,323v2h1v-2zM774,326v4h1v-4zM774,371v2h1v-2zM775,321v3h1v-3zM775,327v2h1v-2zM775,373v2h1v-2zM776,329v2h1v-2zM776,372v2h1v-2zM777,330v1h1v-1zM777,369v3h1v-3zM778,330v1h1v-1zM778,341v1h1v-1zM778,368v2h1v-2zM779,330v1h1v-1zM779,338v4h1v-4zM779,367v1h1v-1zM780,330v2h1v-2zM780,337v5h1v-5zM780,353v2h1v-2zM780,366v1h1v-1zM781,330v2h1v-2zM781,336v2h1v-2zM781,339v3h1v-3zM781,352v3h1v-3zM781,368v2h1v-2zM782,329v1h1v-1zM782,336v6h1v-6zM782,351v4h1v-4zM782,369v1h1v-1zM783,329v3h1v-3zM783,334v2h1v-2zM783,339v3h1v-3zM783,350v4h1v-4zM783,369v2h1v-2zM784,329v3h1v-3zM784,333v2h1v-2zM784,339v2h1v-2zM784,350v4h1v-4zM784,368v2h1v-2zM785,328v3h1v-3zM785,332v3h1v-3zM785,339v2h1v-2zM785,349v5h1v-5zM785,369v1h1v-1zM786,327v3h1v-3zM786,333v2h1v-2zM786,337v4h1v-4zM786,348v5h1v-5zM786,367v1h1v-1zM787,328v5h1v-5zM787,338v3h1v-3zM787,347v6h1v-6zM787,367v2h1v-2zM788,328v5h1v-5zM788,338v2h1v-2zM788,346v6h1v-6zM788,366v2h1v-2zM789,326v3h1v-3zM789,331v2h1v-2zM789,337v3h1v-3zM789,345v4h1v-4zM789,350v2h1v-2zM789,366v2h1v-2zM790,326v6h1v-6zM790,337v3h1v-3zM790,344v4h1v-4zM790,350v2h1v-2zM790,366v1h1v-1zM791,327v4h1v-4zM791,337v3h1v-3zM791,343v4h1v-4zM791,350v1h1v-1zM791,366v1h1v-1zM792,338v2h1v-2zM792,342v4h1v-4zM792,349v2h1v-2zM792,365v5h1v-5zM793,336v4h1v-4zM793,341v4h1v-4zM793,349v1h1v-1zM793,363v6h1v-6zM794,337v7h1v-7zM794,349v1h1v-1zM794,361v8h1v-8zM795,336v7h1v-7zM795,348v2h1v-2zM795,360v7h1v-7zM796,336v6h1v-6zM796,348v1h1v-1zM796,359v7h1v-7zM797,337v5h1v-5zM797,348v1h1v-1zM797,358v6h1v-6zM798,336v5h1v-5zM798,347v1h1v-1zM798,358v5h1v-5zM799,336v4h1v-4zM799,347v1h1v-1zM799,357v6h1v-6zM800,335v4h1v-4zM800,346v1h1v-1zM800,356v6h1v-6zM801,346v1h1v-1zM801,356v5h1v-5zM802,335v3h1v-3zM802,345v2h1v-2zM802,355v5h1v-5zM803,336v1h1v-1zM803,345v1h1v-1zM803,354v5h1v-5zM804,345v1h1v-1zM804,353v5h1v-5zM805,344v1h1v-1zM805,353v4h1v-4zM806,344v1h1v-1zM806,352v3h1v-3zM807,343v1h1v-1zM807,351v3h1v-3zM807,372v1h1v-1zM808,343v1h1v-1zM808,351v2h1v-2zM808,372v1h1v-1zM809,343v9h1v-9zM809,371v4h1v-4zM810,344v7h1v-7zM810,371v5h1v-5zM811,345v6h1v-6zM811,370v5h1v-5zM812,345v5h1v-5zM812,370v3h1v-3zM813,347v2h1v-2zM813,370v4h1v-4zM814,345v3h1v-3zM814,369v5h1v-5zM815,346v2h1v-2zM815,369v5h1v-5zM816,368v6h1v-6zM817,368v5h1v-5z"/>
<path fill="#ecf5ea" d="M603,341v8h1v-8zM603,365v7h1v-7zM604,337v11h1v-11zM604,365v6h1v-6zM605,337v11h1v-11zM605,364v7h1v-7zM606,339v9h1v-9zM606,364v6h1v-6zM607,338v9h1v-9zM607,363v7h1v-7zM608,334v13h1v-13zM608,362v7h1v-7zM609,334v13h1v-13zM609,362v7h1v-7zM610,335v11h1v-11zM610,361v7h1v-7zM611,333v13h1v-13zM611,360v8h1v-8zM612,334v11h1v-11zM612,360v7h1v-7zM613,331v14h1v-14zM613,359v8h1v-8zM614,331v13h1v-13zM614,359v7h1v-7zM615,333v11h1v-11zM615,358v8h1v-8zM616,330v14h1v-14zM616,357v9h1v-9zM617,330v13h1v-13zM617,357v8h1v-8zM618,329v14h1v-14zM618,356v9h1v-9zM619,328v2h1v-2zM619,340v2h1v-2zM619,356v1h1v-1zM619,363v1h1v-1zM620,328v3h1v-3zM620,340v2h1v-2zM620,355v1h1v-1zM620,363v1h1v-1zM621,328v3h1v-3zM621,340v1h1v-1zM621,354v2h1v-2zM621,362v1h1v-1zM622,327v3h1v-3zM622,339v2h1v-2zM622,354v1h1v-1zM622,362v1h1v-1zM623,327v4h1v-4zM623,339v2h1v-2zM623,353v2h1v-2zM623,361v1h1v-1zM624,328v3h1v-3zM624,338v2h1v-2zM624,353v1h1v-1zM624,361v1h1v-1zM625,325v2h1v-2zM625,338v2h1v-2zM625,352v1h1v-1zM625,360v1h1v-1zM626,325v3h1v-3zM626,338v1h1v-1zM626,351v2h1v-2zM626,360v1h1v-1zM627,325v4h1v-4zM627,337v2h1v-2zM627,351v1h1v-1zM627,359v1h1v-1zM628,323v2h1v-2zM628,337v2h1v-2zM628,350v1h1v-1zM628,359v1h1v-1zM628,369v2h1v-2zM629,323v2h1v-2zM629,336v2h1v-2zM629,349v2h1v-2zM629,369v1h1v-1zM630,322v1h1v-1zM630,336v2h1v-2zM630,349v1h1v-1zM630,358v1h1v-1zM631,322v2h1v-2zM631,336v1h1v-1zM631,348v2h1v-2zM632,321v2h1v-2zM632,335v2h1v-2zM632,347v2h1v-2zM632,357v1h1v-1zM633,321v2h1v-2zM633,335v2h1v-2zM633,345v3h1v-3zM633,366v3h1v-3zM634,320v3h1v-3zM634,335v1h1v-1zM634,343v5h1v-5zM634,356v1h1v-1zM634,365v13h1v-13zM635,320v2h1v-2zM635,334v2h1v-2zM635,342v5h1v-5zM635,356v1h1v-1zM635,364v13h1v-13zM636,318v1h1v-1zM636,334v2h1v-2zM636,341v5h1v-5zM636,355v1h1v-1zM636,364v8h1v-8zM637,318v1h1v-1zM637,334v1h1v-1zM637,340v6h1v-6zM637,355v1h1v-1zM637,363v7h1v-7zM638,318v1h1v-1zM638,333v2h1v-2zM638,339v6h1v-6zM638,354v1h1v-1zM638,362v3h1v-3zM638,368v4h1v-4zM638,373v1h1v-1zM639,317v1h1v-1zM639,333v2h1v-2zM639,337v7h1v-7zM639,354v1h1v-1zM639,361v2h1v-2zM639,365v5h1v-5zM640,317v1h1v-1zM640,332v11h1v-11zM640,361v2h1v-2zM640,368v3h1v-3zM641,316v1h1v-1zM641,332v11h1v-11zM641,353v1h1v-1zM641,360v2h1v-2zM641,370v2h1v-2zM641,373v4h1v-4zM642,315v1h1v-1zM642,332v9h1v-9zM642,359v2h1v-2zM642,364v4h1v-4zM643,331v8h1v-8zM643,352v1h1v-1zM643,359v1h1v-1zM643,366v8h1v-8zM644,331v7h1v-7zM644,352v1h1v-1zM644,358v2h1v-2zM644,374v3h1v-3zM645,314v1h1v-1zM645,331v6h1v-6zM645,351v1h1v-1zM645,357v2h1v-2zM645,372v3h1v-3zM646,313v1h1v-1zM646,331v5h1v-5zM646,351v1h1v-1zM646,357v1h1v-1zM646,367v5h1v-5zM647,312v1h1v-1zM647,330v4h1v-4zM647,350v1h1v-1zM647,356v2h1v-2zM647,365v6h1v-6zM648,312v1h1v-1zM648,330v3h1v-3zM648,350v1h1v-1zM648,355v2h1v-2zM648,366v2h1v-2zM648,369v2h1v-2zM649,311v1h1v-1zM649,330v2h1v-2zM649,349v1h1v-1zM649,355v1h1v-1zM649,364v5h1v-5zM650,311v1h1v-1zM650,349v1h1v-1zM650,354v1h1v-1zM650,370v2h1v-2zM651,310v1h1v-1zM651,349v1h1v-1zM651,353v2h1v-2zM651,368v3h1v-3zM652,310v1h1v-1zM652,348v1h1v-1zM652,352v2h1v-2zM652,372v4h1v-4zM653,309v1h1v-1zM653,348v1h1v-1zM653,352v1h1v-1zM653,373v3h1v-3zM654,309v1h1v-1zM654,347v1h1v-1zM654,351v2h1v-2zM654,374v3h1v-3zM655,347v1h1v-1zM655,350v2h1v-2zM655,373v3h1v-3zM656,308v1h1v-1zM656,346v2h1v-2zM656,349v2h1v-2zM656,372v4h1v-4zM657,307v1h1v-1zM657,346v1h1v-1zM657,349v2h1v-2zM657,374v2h1v-2zM658,345v2h1v-2zM658,348v2h1v-2zM658,373v2h1v-2zM659,307v1h1v-1zM659,345v1h1v-1zM659,348v2h1v-2zM659,373v1h1v-1zM660,306v3h1v-3zM660,344v2h1v-2zM660,347v2h1v-2zM660,373v2h1v-2zM661,307v3h1v-3zM661,344v1h1v-1zM661,346v2h1v-2zM661,373v1h1v-1zM662,305v2h1v-2zM662,343v5h1v-5zM662,368v2h1v-2zM663,305v1h1v-1zM663,343v4h1v-4zM663,370v6h1v-6zM664,304v2h1v-2zM664,342v5h1v-5zM664,372v4h1v-4zM665,306v2h1v-2zM665,342v4h1v-4zM665,371v2h1v-2zM666,305v2h1v-2zM666,341v5h1v-5zM666,371v4h1v-4zM667,303v2h1v-2zM667,341v4h1v-4zM667,369v2h1v-2zM668,304v2h1v-2zM668,340v4h1v-4zM668,370v6h1v-6zM669,305v2h1v-2zM669,340v4h1v-4zM669,370v4h1v-4zM670,306v2h1v-2zM670,339v4h1v-4zM670,372v2h1v-2zM671,305v1h1v-1zM671,339v4h1v-4zM671,368v1h1v-1zM672,304v1h1v-1zM672,338v4h1v-4zM672,370v3h1v-3zM673,307v1h1v-1zM673,316v1h1v-1zM673,338v3h1v-3zM673,376v4h1v-4zM674,305v1h1v-1zM674,338v3h1v-3zM674,374v4h1v-4zM675,309v1h1v-1zM675,312v7h1v-7zM675,337v3h1v-3zM675,376v2h1v-2zM676,309v1h1v-1zM676,311v8h1v-8zM676,337v3h1v-3zM676,377v1h1v-1zM677,309v5h1v-5zM677,316v2h1v-2zM677,336v3h1v-3zM677,375v2h1v-2zM678,309v4h1v-4zM678,316v2h1v-2zM678,336v2h1v-2zM678,373v2h1v-2zM679,310v1h1v-1zM679,316v2h1v-2zM679,335v3h1v-3zM679,372v2h1v-2zM680,317v2h1v-2zM680,335v2h1v-2zM680,373v3h1v-3zM681,318v3h1v-3zM681,334v3h1v-3zM681,372v3h1v-3zM682,317v2h1v-2zM682,334v2h1v-2zM682,375v1h1v-1zM683,317v3h1v-3zM683,333v2h1v-2zM683,375v1h1v-1zM684,317v2h1v-2zM684,333v2h1v-2zM684,374v1h1v-1zM685,316v2h1v-2zM685,332v2h1v-2zM685,375v5h1v-5zM686,315v2h1v-2zM686,332v2h1v-2zM686,373v2h1v-2zM687,316v3h1v-3zM687,331v2h1v-2zM687,372v1h1v-1zM688,315v2h1v-2zM688,331v1h1v-1zM688,372v1h1v-1zM689,315v2h1v-2zM689,331v1h1v-1zM689,370v1h1v-1zM690,315v2h1v-2zM690,330v1h1v-1zM690,368v2h1v-2zM691,316v1h1v-1zM691,369v1h1v-1zM692,314v2h1v-2zM692,369v1h1v-1zM693,315v1h1v-1zM693,369v1h1v-1zM694,315v1h1v-1zM694,369v1h1v-1zM695,312v2h1v-2zM695,367v1h1v-1zM696,313v2h1v-2zM696,368v1h1v-1zM697,314v1h1v-1zM697,326v1h1v-1zM697,368v1h1v-1zM697,374v1h1v-1zM698,311v2h1v-2zM698,368v9h1v-9zM699,311v2h1v-2zM699,368v8h1v-8zM700,311v2h1v-2zM700,368v4h1v-4zM700,373v3h1v-3zM701,323v3h1v-3zM701,374v2h1v-2zM702,322v3h1v-3zM702,368v3h1v-3zM702,372v4h1v-4zM703,321v4h1v-4zM703,366v10h1v-10zM704,310v1h1v-1zM704,322v1h1v-1zM704,366v3h1v-3zM704,374v1h1v-1zM705,309v2h1v-2zM705,322v1h1v-1zM705,374v1h1v-1zM706,320v3h1v-3zM706,374v1h1v-1zM707,319v4h1v-4zM707,372v2h1v-2zM708,318v2h1v-2zM708,321v2h1v-2zM708,373v1h1v-1zM709,317v1h1v-1zM709,322v1h1v-1zM710,317v1h1v-1zM710,321v2h1v-2zM711,316v1h1v-1zM711,321v1h1v-1zM711,371v1h1v-1zM712,315v1h1v-1zM712,321v1h1v-1zM712,370v1h1v-1zM713,315v1h1v-1zM713,320v2h1v-2zM713,368v2h1v-2zM714,314v1h1v-1zM714,320v1h1v-1zM714,370v1h1v-1zM715,313v1h1v-1zM715,320v1h1v-1zM715,370v1h1v-1zM716,313v1h1v-1zM716,319v1h1v-1zM716,371v1h1v-1zM717,312v1h1v-1zM717,319v1h1v-1zM717,371v2h1v-2zM718,312v1h1v-1zM718,318v1h1v-1zM718,371v2h1v-2zM719,317v1h1v-1zM719,371v9h1v-9zM720,311v1h1v-1zM720,317v1h1v-1zM720,370v1h1v-1zM721,310v1h1v-1zM721,316v1h1v-1zM721,368v1h1v-1zM722,310v1h1v-1zM722,316v1h1v-1zM722,368v1h1v-1zM723,310v1h1v-1zM723,315v1h1v-1zM723,369v3h1v-3zM724,309v1h1v-1zM724,315v1h1v-1zM724,367v1h1v-1zM725,308v1h1v-1zM725,314v1h1v-1zM725,367v1h1v-1zM726,308v1h1v-1zM726,314v1h1v-1zM726,366v1h1v-1zM727,307v1h1v-1zM727,314v1h1v-1zM727,366v1h1v-1zM728,314v1h1v-1zM728,366v9h1v-9zM729,314v1h1v-1zM729,365v10h1v-10zM730,313v1h1v-1zM730,366v4h1v-4zM730,374v2h1v-2zM731,313v1h1v-1zM731,374v2h1v-2zM732,313v1h1v-1zM732,364v9h1v-9zM733,312v1h1v-1zM733,365v3h1v-3zM733,373v1h1v-1zM734,312v1h1v-1zM734,363v10h1v-10zM735,312v2h1v-2zM735,374v1h1v-1zM736,311v1h1v-1zM736,372v2h1v-2zM737,310v1h1v-1zM737,373v1h1v-1zM738,310v1h1v-1zM738,371v1h1v-1zM739,310v3h1v-3zM739,372v1h1v-1zM740,311v3h1v-3zM740,371v1h1v-1zM741,311v3h1v-3zM741,370v2h1v-2zM742,310v3h1v-3zM742,371v1h1v-1zM743,309v3h1v-3zM743,368v1h1v-1zM744,309v3h1v-3zM744,367v2h1v-2zM745,308v3h1v-3zM745,368v1h1v-1zM746,310v2h1v-2zM746,359v2h1v-2zM746,364v3h1v-3zM747,310v2h1v-2zM747,366v1h1v-1zM748,308v3h1v-3zM748,366v2h1v-2zM749,310v2h1v-2zM749,366v1h1v-1zM750,309v3h1v-3zM750,366v2h1v-2zM751,309v3h1v-3zM751,366v1h1v-1zM752,313v1h1v-1zM752,366v1h1v-1zM752,373v1h1v-1zM753,364v1h1v-1zM754,364v1h1v-1zM754,372v1h1v-1zM755,362v1h1v-1zM756,361v2h1v-2zM756,371v1h1v-1zM757,363v3h1v-3zM757,368v2h1v-2zM757,373v3h1v-3zM758,323v1h1v-1zM758,363v2h1v-2zM758,368v2h1v-2zM758,372v3h1v-3zM759,322v1h1v-1zM759,364v4h1v-4zM759,374v3h1v-3zM760,322v1h1v-1zM760,364v3h1v-3zM760,376v1h1v-1zM761,318v1h1v-1zM761,364v2h1v-2zM761,376v1h1v-1zM762,318v1h1v-1zM762,375v1h1v-1zM763,320v2h1v-2zM763,374v1h1v-1zM764,320v2h1v-2zM764,374v1h1v-1zM765,317v3h1v-3zM765,374v1h1v-1zM766,318v3h1v-3zM766,375v2h1v-2zM767,319v2h1v-2zM767,373v2h1v-2zM768,319v2h1v-2zM768,374v2h1v-2zM769,318v3h1v-3zM769,375v2h1v-2zM770,318v2h1v-2zM770,345v2h1v-2zM770,375v2h1v-2zM771,319v3h1v-3zM771,344v3h1v-3zM771,358v2h1v-2zM771,377v1h1v-1zM772,321v4h1v-4zM772,328v3h1v-3zM772,343v4h1v-4zM772,357v3h1v-3zM772,374v2h1v-2zM773,321v3h1v-3zM773,328v2h1v-2zM773,342v4h1v-4zM773,356v3h1v-3zM773,372v2h1v-2zM774,325v1h1v-1zM774,330v2h1v-2zM774,342v4h1v-4zM774,355v4h1v-4zM774,370v1h1v-1zM775,324v3h1v-3zM775,329v2h1v-2zM775,341v5h1v-5zM775,354v5h1v-5zM775,372v1h1v-1zM776,331v1h1v-1zM776,340v6h1v-6zM776,353v5h1v-5zM776,370v2h1v-2zM777,331v2h1v-2zM777,339v7h1v-7zM777,353v5h1v-5zM777,368v1h1v-1zM778,331v2h1v-2zM778,338v3h1v-3zM778,342v3h1v-3zM778,352v6h1v-6zM778,367v1h1v-1zM779,331v4h1v-4zM779,336v2h1v-2zM779,342v3h1v-3zM779,351v6h1v-6zM779,366v1h1v-1zM780,332v5h1v-5zM780,342v3h1v-3zM780,350v3h1v-3zM780,355v2h1v-2zM780,365v1h1v-1zM781,332v4h1v-4zM781,342v3h1v-3zM781,349v3h1v-3zM781,355v1h1v-1zM781,367v1h1v-1zM782,330v6h1v-6zM782,342v3h1v-3zM782,348v3h1v-3zM782,355v1h1v-1zM782,367v2h1v-2zM783,332v2h1v-2zM783,342v3h1v-3zM783,347v3h1v-3zM783,354v2h1v-2zM783,368v1h1v-1zM784,332v1h1v-1zM784,341v9h1v-9zM784,354v1h1v-1zM784,367v1h1v-1zM785,331v1h1v-1zM785,341v8h1v-8zM785,354v1h1v-1zM785,365v4h1v-4zM786,330v3h1v-3zM786,341v7h1v-7zM786,353v1h1v-1zM786,365v2h1v-2zM787,341v6h1v-6zM787,353v1h1v-1zM787,364v3h1v-3zM788,340v6h1v-6zM788,352v2h1v-2zM788,363v3h1v-3zM789,329v2h1v-2zM789,340v5h1v-5zM789,352v1h1v-1zM789,362v4h1v-4zM790,340v4h1v-4zM790,352v1h1v-1zM790,361v5h1v-5zM791,340v3h1v-3zM791,351v1h1v-1zM791,361v5h1v-5zM792,340v2h1v-2zM792,351v1h1v-1zM792,360v5h1v-5zM793,340v1h1v-1zM793,350v1h1v-1zM793,359v4h1v-4zM794,350v1h1v-1zM794,359v2h1v-2zM795,350v1h1v-1zM795,358v2h1v-2zM796,349v1h1v-1zM796,357v2h1v-2zM797,349v1h1v-1zM797,357v1h1v-1zM798,348v1h1v-1zM798,356v2h1v-2zM799,348v9h1v-9zM800,347v9h1v-9zM801,347v9h1v-9zM802,347v8h1v-8zM803,346v8h1v-8zM804,346v7h1v-7zM805,345v8h1v-8zM806,345v7h1v-7zM807,344v7h1v-7zM808,344v7h1v-7zM808,373v1h1v-1z"/>
<path fill="#eef5e6" d="M619,330v10h1v-10zM619,357v6h1v-6zM620,331v9h1v-9zM620,356v7h1v-7zM621,331v9h1v-9zM621,356v6h1v-6zM622,330v9h1v-9zM622,355v7h1v-7zM623,331v8h1v-8zM623,355v6h1v-6zM624,331v7h1v-7zM624,354v7h1v-7zM625,327v11h1v-11zM625,353v7h1v-7zM626,328v10h1v-10zM626,353v7h1v-7zM627,329v8h1v-8zM627,352v7h1v-7zM628,325v12h1v-12zM628,351v8h1v-8zM629,325v11h1v-11zM629,351v8h1v-8zM630,323v13h1v-13zM630,350v8h1v-8zM631,324v12h1v-12zM631,350v8h1v-8zM632,323v12h1v-12zM632,349v8h1v-8zM633,323v3h1v-3zM633,333v2h1v-2zM633,348v2h1v-2zM633,356v1h1v-1zM634,323v3h1v-3zM634,333v2h1v-2zM634,348v1h1v-1zM635,322v4h1v-4zM635,332v2h1v-2zM635,347v1h1v-1zM635,355v1h1v-1zM636,319v3h1v-3zM636,332v2h1v-2zM636,346v2h1v-2zM637,319v2h1v-2zM637,332v2h1v-2zM637,346v1h1v-1zM637,354v1h1v-1zM638,319v4h1v-4zM638,331v2h1v-2zM638,345v1h1v-1zM638,365v3h1v-3zM639,318v2h1v-2zM639,331v2h1v-2zM639,344v2h1v-2zM639,353v1h1v-1zM639,363v2h1v-2zM640,318v3h1v-3zM640,331v1h1v-1zM640,343v2h1v-2zM640,353v1h1v-1zM640,363v5h1v-5zM641,317v3h1v-3zM641,330v2h1v-2zM641,343v1h1v-1zM641,352v1h1v-1zM641,362v8h1v-8zM641,372v1h1v-1zM642,316v1h1v-1zM642,330v2h1v-2zM642,341v3h1v-3zM642,352v1h1v-1zM642,361v3h1v-3zM643,315v3h1v-3zM643,330v1h1v-1zM643,339v4h1v-4zM643,351v1h1v-1zM643,360v6h1v-6zM644,314v2h1v-2zM644,329v2h1v-2zM644,338v4h1v-4zM644,351v1h1v-1zM644,360v5h1v-5zM644,372v2h1v-2zM645,315v3h1v-3zM645,329v2h1v-2zM645,337v5h1v-5zM645,359v5h1v-5zM645,368v4h1v-4zM646,314v2h1v-2zM646,329v2h1v-2zM646,336v5h1v-5zM646,350v1h1v-1zM646,358v5h1v-5zM646,365v2h1v-2zM647,313v3h1v-3zM647,328v2h1v-2zM647,334v6h1v-6zM647,358v3h1v-3zM647,362v3h1v-3zM648,313v2h1v-2zM648,328v2h1v-2zM648,333v7h1v-7zM648,349v1h1v-1zM648,357v2h1v-2zM648,362v4h1v-4zM648,368v1h1v-1zM649,312v3h1v-3zM649,328v2h1v-2zM649,332v7h1v-7zM649,356v2h1v-2zM649,359v5h1v-5zM650,312v1h1v-1zM650,327v11h1v-11zM650,348v1h1v-1zM650,355v2h1v-2zM650,368v2h1v-2zM651,311v3h1v-3zM651,327v10h1v-10zM651,348v1h1v-1zM651,355v2h1v-2zM651,365v3h1v-3zM652,311v2h1v-2zM652,327v8h1v-8zM652,347v1h1v-1zM652,354v2h1v-2zM652,369v3h1v-3zM653,310v1h1v-1zM653,326v8h1v-8zM653,347v1h1v-1zM653,353v2h1v-2zM653,369v4h1v-4zM654,310v3h1v-3zM654,326v6h1v-6zM654,346v1h1v-1zM654,353v1h1v-1zM654,371v3h1v-3zM655,309v4h1v-4zM655,326v5h1v-5zM655,346v1h1v-1zM655,352v2h1v-2zM655,368v5h1v-5zM656,309v4h1v-4zM656,325v6h1v-6zM656,351v2h1v-2zM656,367v5h1v-5zM657,308v2h1v-2zM657,325v5h1v-5zM657,345v1h1v-1zM657,351v1h1v-1zM657,370v4h1v-4zM658,307v2h1v-2zM658,324v5h1v-5zM658,350v2h1v-2zM658,370v3h1v-3zM659,308v3h1v-3zM659,324v4h1v-4zM659,344v1h1v-1zM659,350v1h1v-1zM659,370v3h1v-3zM660,309v3h1v-3zM660,323v5h1v-5zM660,349v2h1v-2zM660,371v2h1v-2zM661,310v3h1v-3zM661,323v4h1v-4zM661,343v1h1v-1zM661,348v2h1v-2zM661,370v3h1v-3zM662,307v3h1v-3zM662,323v3h1v-3zM662,348v2h1v-2zM662,366v2h1v-2zM663,306v4h1v-4zM663,322v3h1v-3zM663,342v1h1v-1zM663,347v2h1v-2zM663,367v3h1v-3zM664,306v4h1v-4zM664,322v3h1v-3zM664,347v1h1v-1zM664,368v4h1v-4zM665,308v4h1v-4zM665,321v3h1v-3zM665,341v1h1v-1zM665,346v2h1v-2zM665,369v2h1v-2zM666,307v3h1v-3zM666,321v2h1v-2zM666,346v1h1v-1zM666,369v2h1v-2zM667,305v3h1v-3zM667,321v1h1v-1zM667,340v1h1v-1zM667,345v2h1v-2zM667,366v3h1v-3zM668,306v3h1v-3zM668,344v2h1v-2zM668,368v2h1v-2zM669,307v3h1v-3zM669,339v1h1v-1zM669,344v1h1v-1zM669,367v3h1v-3zM670,308v3h1v-3zM670,316v4h1v-4zM670,343v2h1v-2zM670,369v3h1v-3zM671,306v4h1v-4zM671,317v2h1v-2zM671,338v1h1v-1zM671,343v1h1v-1zM671,366v2h1v-2zM672,305v4h1v-4zM672,317v1h1v-1zM672,342v2h1v-2zM672,368v2h1v-2zM673,308v8h1v-8zM673,317v3h1v-3zM673,337v1h1v-1zM673,341v2h1v-2zM673,368v8h1v-8zM674,306v3h1v-3zM674,314v5h1v-5zM674,337v1h1v-1zM674,341v2h1v-2zM674,366v8h1v-8zM675,310v2h1v-2zM675,319v2h1v-2zM675,336v1h1v-1zM675,340v2h1v-2zM675,374v2h1v-2zM676,310v1h1v-1zM676,319v2h1v-2zM676,336v1h1v-1zM676,340v1h1v-1zM676,374v3h1v-3zM677,318v2h1v-2zM677,335v1h1v-1zM677,339v2h1v-2zM677,372v3h1v-3zM678,318v2h1v-2zM678,335v1h1v-1zM678,338v2h1v-2zM678,370v3h1v-3zM679,318v3h1v-3zM679,334v1h1v-1zM679,338v2h1v-2zM679,370v2h1v-2zM680,319v3h1v-3zM680,334v1h1v-1zM680,337v2h1v-2zM680,371v2h1v-2zM681,321v1h1v-1zM681,333v1h1v-1zM681,337v1h1v-1zM681,369v3h1v-3zM682,319v2h1v-2zM682,333v1h1v-1zM682,336v2h1v-2zM682,371v4h1v-4zM683,320v1h1v-1zM683,332v1h1v-1zM683,335v2h1v-2zM683,374v1h1v-1zM684,319v2h1v-2zM684,332v1h1v-1zM684,335v2h1v-2zM684,373v1h1v-1zM685,318v2h1v-2zM685,331v1h1v-1zM685,334v2h1v-2zM685,374v1h1v-1zM686,317v2h1v-2zM686,331v1h1v-1zM686,334v2h1v-2zM687,319v1h1v-1zM687,330v1h1v-1zM687,333v2h1v-2zM688,317v2h1v-2zM688,330v1h1v-1zM688,332v2h1v-2zM688,371v1h1v-1zM689,317v2h1v-2zM689,329v2h1v-2zM689,332v2h1v-2zM689,368v2h1v-2zM690,317v2h1v-2zM690,329v1h1v-1zM690,331v2h1v-2zM690,366v2h1v-2zM691,317v1h1v-1zM691,328v5h1v-5zM691,367v2h1v-2zM692,316v1h1v-1zM692,328v4h1v-4zM692,368v1h1v-1zM693,316v1h1v-1zM693,327v4h1v-4zM693,367v2h1v-2zM694,316v1h1v-1zM694,326v5h1v-5zM694,366v3h1v-3zM695,314v2h1v-2zM695,326v4h1v-4zM695,364v3h1v-3zM696,315v1h1v-1zM696,325v5h1v-5zM696,366v2h1v-2zM697,315v1h1v-1zM697,324v2h1v-2zM697,327v2h1v-2zM697,367v1h1v-1zM698,313v1h1v-1zM698,325v3h1v-3zM698,367v1h1v-1zM699,313v1h1v-1zM699,324v4h1v-4zM699,367v1h1v-1zM700,313v1h1v-1zM700,323v4h1v-4zM700,367v1h1v-1zM700,372v1h1v-1zM701,313v1h1v-1zM701,322v1h1v-1zM701,326v1h1v-1zM701,367v7h1v-7zM702,312v1h1v-1zM702,321v1h1v-1zM702,325v1h1v-1zM702,366v2h1v-2zM702,371v1h1v-1zM703,313v1h1v-1zM703,320v1h1v-1zM703,325v1h1v-1zM703,365v1h1v-1zM704,311v1h1v-1zM704,321v1h1v-1zM704,323v2h1v-2zM704,364v2h1v-2zM704,369v5h1v-5zM705,320v2h1v-2zM705,323v2h1v-2zM705,365v2h1v-2zM705,373v1h1v-1zM706,311v2h1v-2zM706,319v1h1v-1zM706,323v2h1v-2zM706,371v3h1v-3zM707,311v2h1v-2zM707,318v1h1v-1zM707,323v1h1v-1zM707,364v8h1v-8zM708,311v2h1v-2zM708,323v1h1v-1zM708,372v1h1v-1zM709,313v2h1v-2zM709,316v1h1v-1zM709,323v1h1v-1zM709,372v1h1v-1zM710,312v2h1v-2zM710,316v1h1v-1zM710,323v1h1v-1zM710,372v1h1v-1zM711,311v2h1v-2zM711,322v1h1v-1zM711,370v1h1v-1zM712,313v2h1v-2zM712,322v1h1v-1zM712,369v1h1v-1zM713,312v3h1v-3zM713,322v1h1v-1zM713,366v2h1v-2zM714,313v1h1v-1zM714,321v2h1v-2zM714,366v4h1v-4zM715,312v1h1v-1zM715,321v1h1v-1zM715,369v1h1v-1zM716,312v1h1v-1zM716,320v2h1v-2zM716,370v1h1v-1zM717,320v1h1v-1zM717,370v1h1v-1zM718,310v2h1v-2zM718,319v1h1v-1zM718,370v1h1v-1zM719,309v3h1v-3zM719,318v2h1v-2zM719,370v1h1v-1zM720,308v3h1v-3zM720,318v1h1v-1zM720,369v1h1v-1zM721,308v2h1v-2zM721,317v2h1v-2zM722,307v3h1v-3zM722,317v1h1v-1zM722,367v1h1v-1zM723,306v2h1v-2zM723,309v1h1v-1zM723,316v1h1v-1zM723,368v1h1v-1zM724,306v3h1v-3zM724,316v1h1v-1zM724,366v1h1v-1zM725,306v2h1v-2zM725,315v2h1v-2zM725,366v1h1v-1zM726,306v2h1v-2zM726,315v1h1v-1zM726,365v1h1v-1zM727,315v1h1v-1zM727,365v1h1v-1zM728,315v1h1v-1zM728,365v1h1v-1zM729,315v1h1v-1zM729,364v1h1v-1zM730,314v1h1v-1zM730,364v2h1v-2zM730,370v4h1v-4zM731,314v2h1v-2zM731,364v10h1v-10zM732,314v3h1v-3zM732,363v1h1v-1zM733,313v3h1v-3zM733,363v2h1v-2zM733,368v5h1v-5zM734,313v2h1v-2zM734,362v1h1v-1zM735,314v2h1v-2zM735,363v5h1v-5zM735,371v3h1v-3zM736,312v3h1v-3zM736,362v10h1v-10zM737,311v3h1v-3zM737,362v4h1v-4zM737,371v2h1v-2zM738,311v3h1v-3zM738,361v6h1v-6zM738,369v2h1v-2zM739,313v2h1v-2zM739,370v2h1v-2zM740,314v2h1v-2zM740,369v2h1v-2zM741,314v2h1v-2zM741,361v2h1v-2zM741,368v2h1v-2zM742,313v2h1v-2zM742,368v3h1v-3zM743,312v2h1v-2zM743,358v10h1v-10zM744,312v2h1v-2zM744,358v6h1v-6zM744,365v2h1v-2zM745,311v2h1v-2zM745,360v1h1v-1zM745,366v2h1v-2zM746,312v3h1v-3zM746,357v2h1v-2zM746,361v3h1v-3zM747,312v3h1v-3zM747,356v10h1v-10zM748,311v2h1v-2zM748,356v10h1v-10zM749,312v2h1v-2zM749,356v5h1v-5zM749,364v2h1v-2zM750,312v2h1v-2zM750,355v4h1v-4zM750,364v2h1v-2zM751,312v2h1v-2zM751,355v3h1v-3zM751,364v2h1v-2zM752,314v2h1v-2zM752,364v2h1v-2zM753,314v3h1v-3zM753,353v5h1v-5zM753,362v2h1v-2zM754,315v3h1v-3zM754,354v1h1v-1zM754,362v2h1v-2zM755,317v3h1v-3zM755,353v5h1v-5zM755,360v2h1v-2zM756,317v3h1v-3zM756,352v9h1v-9zM757,321v4h1v-4zM757,361v2h1v-2zM757,370v3h1v-3zM758,324v2h1v-2zM758,352v4h1v-4zM758,360v3h1v-3zM758,370v2h1v-2zM759,321v1h1v-1zM759,323v1h1v-1zM759,361v3h1v-3zM759,368v1h1v-1zM759,371v3h1v-3zM760,323v3h1v-3zM760,362v2h1v-2zM760,367v1h1v-1zM760,372v4h1v-4zM761,319v4h1v-4zM761,350v1h1v-1zM761,362v2h1v-2zM761,366v1h1v-1zM761,373v3h1v-3zM762,319v4h1v-4zM762,349v2h1v-2zM762,362v4h1v-4zM762,374v1h1v-1zM763,322v3h1v-3zM763,348v3h1v-3zM763,362v3h1v-3zM763,373v1h1v-1zM764,322v3h1v-3zM764,347v4h1v-4zM764,361v3h1v-3zM764,372v2h1v-2zM765,320v2h1v-2zM765,346v5h1v-5zM765,360v4h1v-4zM765,373v1h1v-1zM766,321v3h1v-3zM766,346v5h1v-5zM766,359v4h1v-4zM766,374v1h1v-1zM767,321v3h1v-3zM767,345v5h1v-5zM767,358v5h1v-5zM767,372v1h1v-1zM768,321v4h1v-4zM768,344v6h1v-6zM768,357v6h1v-6zM768,373v1h1v-1zM769,321v3h1v-3zM769,344v6h1v-6zM769,357v5h1v-5zM769,373v2h1v-2zM770,320v3h1v-3zM770,343v2h1v-2zM770,347v3h1v-3zM770,356v6h1v-6zM770,373v2h1v-2zM771,322v4h1v-4zM771,328v3h1v-3zM771,342v2h1v-2zM771,347v3h1v-3zM771,355v3h1v-3zM771,360v1h1v-1zM771,375v2h1v-2zM772,325v3h1v-3zM772,331v1h1v-1zM772,341v2h1v-2zM772,347v2h1v-2zM772,354v3h1v-3zM772,360v1h1v-1zM772,372v2h1v-2zM773,324v4h1v-4zM773,330v2h1v-2zM773,341v1h1v-1zM773,346v3h1v-3zM773,353v3h1v-3zM773,359v2h1v-2zM773,371v1h1v-1zM774,332v1h1v-1zM774,340v2h1v-2zM774,346v3h1v-3zM774,352v3h1v-3zM774,359v1h1v-1zM774,369v1h1v-1zM775,331v1h1v-1zM775,339v2h1v-2zM775,346v4h1v-4zM775,351v3h1v-3zM775,359v1h1v-1zM775,370v2h1v-2zM776,332v3h1v-3zM776,338v2h1v-2zM776,346v7h1v-7zM776,358v1h1v-1zM776,369v1h1v-1zM777,333v6h1v-6zM777,346v7h1v-7zM777,358v1h1v-1zM777,367v1h1v-1zM778,333v5h1v-5zM778,345v7h1v-7zM778,358v1h1v-1zM778,366v1h1v-1zM779,335v1h1v-1zM779,345v6h1v-6zM779,357v1h1v-1zM779,365v1h1v-1zM780,345v5h1v-5zM780,357v1h1v-1zM780,363v2h1v-2zM781,345v4h1v-4zM781,356v1h1v-1zM781,366v1h1v-1zM782,345v3h1v-3zM782,356v1h1v-1zM782,365v2h1v-2zM783,345v2h1v-2zM783,356v1h1v-1zM783,365v3h1v-3zM784,355v1h1v-1zM784,364v3h1v-3zM785,355v1h1v-1zM785,363v2h1v-2zM786,354v1h1v-1zM786,363v2h1v-2zM787,354v1h1v-1zM787,362v2h1v-2zM788,354v1h1v-1zM788,361v2h1v-2zM789,353v9h1v-9zM790,353v8h1v-8zM791,352v9h1v-9zM792,352v8h1v-8zM793,351v8h1v-8zM794,351v8h1v-8zM795,351v7h1v-7zM796,350v7h1v-7zM797,350v7h1v-7zM798,349v7h1v-7z"/>
<path fill="#f1f4e3" d="M633,326v7h1v-7zM633,350v6h1v-6zM634,326v7h1v-7zM634,349v7h1v-7zM635,326v6h1v-6zM635,348v7h1v-7zM636,322v10h1v-10zM636,348v7h1v-7zM637,321v11h1v-11zM637,347v7h1v-7zM638,323v8h1v-8zM638,346v8h1v-8zM639,320v11h1v-11zM639,346v7h1v-7zM640,321v10h1v-10zM640,345v8h1v-8zM641,320v10h1v-10zM641,344v8h1v-8zM642,317v13h1v-13zM642,344v8h1v-8zM643,318v3h1v-3zM643,328v2h1v-2zM643,343v1h1v-1zM644,316v3h1v-3zM644,328v1h1v-1zM644,342v2h1v-2zM644,350v1h1v-1zM644,365v7h1v-7zM645,318v4h1v-4zM645,327v2h1v-2zM645,342v1h1v-1zM645,350v1h1v-1zM645,364v4h1v-4zM646,316v3h1v-3zM646,327v2h1v-2zM646,341v1h1v-1zM646,349v1h1v-1zM646,363v2h1v-2zM647,316v3h1v-3zM647,327v1h1v-1zM647,340v2h1v-2zM647,349v1h1v-1zM647,361v1h1v-1zM648,315v4h1v-4zM648,326v2h1v-2zM648,340v1h1v-1zM648,348v1h1v-1zM648,359v3h1v-3zM649,315v3h1v-3zM649,326v2h1v-2zM649,339v1h1v-1zM649,348v1h1v-1zM649,358v1h1v-1zM650,313v4h1v-4zM650,326v1h1v-1zM650,338v2h1v-2zM650,357v11h1v-11zM651,314v4h1v-4zM651,325v2h1v-2zM651,337v2h1v-2zM651,347v1h1v-1zM651,357v8h1v-8zM652,313v3h1v-3zM652,325v2h1v-2zM652,335v3h1v-3zM652,356v6h1v-6zM652,363v6h1v-6zM653,311v4h1v-4zM653,325v1h1v-1zM653,334v4h1v-4zM653,346v1h1v-1zM653,355v6h1v-6zM653,363v2h1v-2zM653,366v3h1v-3zM654,313v3h1v-3zM654,324v2h1v-2zM654,332v5h1v-5zM654,354v6h1v-6zM654,368v3h1v-3zM655,313v3h1v-3zM655,324v2h1v-2zM655,331v5h1v-5zM655,345v1h1v-1zM655,354v5h1v-5zM655,362v2h1v-2zM655,366v2h1v-2zM656,313v3h1v-3zM656,323v2h1v-2zM656,331v5h1v-5zM656,345v1h1v-1zM656,353v5h1v-5zM656,359v8h1v-8zM657,310v3h1v-3zM657,323v2h1v-2zM657,330v5h1v-5zM657,344v1h1v-1zM657,352v5h1v-5zM657,360v3h1v-3zM657,365v5h1v-5zM658,309v4h1v-4zM658,322v2h1v-2zM658,329v6h1v-6zM658,344v1h1v-1zM658,352v4h1v-4zM658,357v6h1v-6zM658,365v5h1v-5zM659,311v4h1v-4zM659,322v2h1v-2zM659,328v6h1v-6zM659,343v1h1v-1zM659,351v4h1v-4zM659,356v1h1v-1zM659,367v3h1v-3zM660,312v4h1v-4zM660,321v2h1v-2zM660,328v5h1v-5zM660,343v1h1v-1zM660,351v4h1v-4zM660,369v2h1v-2zM661,313v3h1v-3zM661,321v2h1v-2zM661,327v6h1v-6zM661,342v1h1v-1zM661,350v4h1v-4zM661,368v2h1v-2zM662,310v3h1v-3zM662,321v2h1v-2zM662,326v6h1v-6zM662,342v1h1v-1zM662,350v2h1v-2zM662,364v2h1v-2zM663,310v3h1v-3zM663,320v2h1v-2zM663,325v7h1v-7zM663,341v1h1v-1zM663,349v2h1v-2zM663,365v2h1v-2zM664,310v3h1v-3zM664,320v2h1v-2zM664,325v6h1v-6zM664,341v1h1v-1zM664,348v3h1v-3zM664,365v3h1v-3zM665,312v3h1v-3zM665,318v3h1v-3zM665,324v6h1v-6zM665,340v1h1v-1zM665,348v2h1v-2zM665,363v6h1v-6zM666,310v4h1v-4zM666,318v3h1v-3zM666,323v7h1v-7zM666,340v1h1v-1zM666,347v2h1v-2zM666,367v2h1v-2zM667,308v4h1v-4zM667,318v3h1v-3zM667,322v7h1v-7zM667,339v1h1v-1zM667,347v2h1v-2zM667,364v2h1v-2zM668,309v4h1v-4zM668,317v12h1v-12zM668,339v1h1v-1zM668,346v2h1v-2zM668,365v3h1v-3zM669,310v3h1v-3zM669,315v13h1v-13zM669,338v1h1v-1zM669,345v2h1v-2zM669,364v3h1v-3zM670,311v5h1v-5zM670,320v7h1v-7zM670,338v1h1v-1zM670,345v2h1v-2zM670,367v2h1v-2zM671,310v7h1v-7zM671,319v8h1v-8zM671,337v1h1v-1zM671,344v2h1v-2zM671,363v3h1v-3zM672,309v3h1v-3zM672,313v4h1v-4zM672,318v8h1v-8zM672,337v1h1v-1zM672,344v1h1v-1zM672,366v2h1v-2zM673,320v5h1v-5zM673,336v1h1v-1zM673,343v2h1v-2zM673,367v1h1v-1zM674,309v5h1v-5zM674,319v5h1v-5zM674,336v1h1v-1zM674,343v1h1v-1zM674,364v2h1v-2zM675,321v2h1v-2zM675,335v1h1v-1zM675,342v2h1v-2zM675,367v1h1v-1zM675,369v5h1v-5zM676,321v2h1v-2zM676,335v1h1v-1zM676,341v2h1v-2zM676,372v2h1v-2zM677,320v3h1v-3zM677,334v1h1v-1zM677,341v1h1v-1zM677,370v2h1v-2zM678,320v3h1v-3zM678,334v1h1v-1zM678,340v2h1v-2zM678,368v2h1v-2zM679,321v2h1v-2zM679,333v1h1v-1zM679,340v1h1v-1zM679,367v3h1v-3zM680,322v1h1v-1zM680,333v1h1v-1zM680,339v2h1v-2zM680,369v2h1v-2zM681,322v1h1v-1zM681,332v1h1v-1zM681,338v2h1v-2zM681,367v2h1v-2zM682,321v1h1v-1zM682,332v1h1v-1zM682,338v1h1v-1zM682,369v2h1v-2zM683,321v1h1v-1zM683,331v1h1v-1zM683,337v2h1v-2zM683,368v6h1v-6zM684,321v1h1v-1zM684,331v1h1v-1zM684,337v1h1v-1zM684,370v3h1v-3zM685,320v1h1v-1zM685,330v1h1v-1zM685,336v2h1v-2zM685,373v1h1v-1zM686,319v2h1v-2zM686,330v1h1v-1zM686,336v1h1v-1zM686,369v4h1v-4zM687,320v1h1v-1zM687,329v1h1v-1zM687,335v2h1v-2zM687,368v4h1v-4zM688,319v1h1v-1zM688,329v1h1v-1zM688,334v2h1v-2zM688,370v1h1v-1zM689,319v1h1v-1zM689,328v1h1v-1zM689,334v1h1v-1zM689,367v1h1v-1zM690,328v1h1v-1zM690,333v2h1v-2zM690,364v2h1v-2zM691,318v2h1v-2zM691,327v1h1v-1zM691,333v1h1v-1zM691,364v3h1v-3zM692,317v1h1v-1zM692,327v1h1v-1zM692,332v2h1v-2zM692,366v2h1v-2zM693,317v2h1v-2zM693,326v1h1v-1zM693,331v2h1v-2zM693,365v2h1v-2zM694,317v1h1v-1zM694,325v1h1v-1zM694,331v1h1v-1zM694,363v3h1v-3zM695,316v1h1v-1zM695,325v1h1v-1zM695,330v2h1v-2zM695,360v4h1v-4zM696,316v1h1v-1zM696,324v1h1v-1zM696,330v1h1v-1zM696,363v3h1v-3zM697,316v2h1v-2zM697,323v1h1v-1zM697,329v2h1v-2zM697,364v3h1v-3zM698,314v1h1v-1zM698,324v1h1v-1zM698,328v2h1v-2zM698,366v1h1v-1zM699,314v1h1v-1zM699,323v1h1v-1zM699,328v2h1v-2zM699,366v1h1v-1zM700,314v1h1v-1zM700,322v1h1v-1zM700,327v2h1v-2zM700,366v1h1v-1zM701,314v4h1v-4zM701,321v1h1v-1zM701,327v1h1v-1zM701,365v2h1v-2zM702,313v4h1v-4zM702,320v1h1v-1zM702,326v2h1v-2zM702,365v1h1v-1zM703,314v4h1v-4zM703,319v1h1v-1zM703,326v1h1v-1zM703,364v1h1v-1zM704,312v3h1v-3zM704,320v1h1v-1zM704,325v2h1v-2zM704,363v1h1v-1zM705,311v3h1v-3zM705,319v1h1v-1zM705,325v1h1v-1zM705,363v2h1v-2zM705,367v3h1v-3zM705,371v2h1v-2zM706,313v3h1v-3zM706,318v1h1v-1zM706,325v1h1v-1zM706,363v8h1v-8zM707,313v3h1v-3zM707,317v1h1v-1zM707,324v1h1v-1zM707,363v1h1v-1zM708,313v3h1v-3zM708,317v1h1v-1zM708,324v1h1v-1zM708,363v5h1v-5zM708,369v3h1v-3zM709,315v1h1v-1zM709,324v1h1v-1zM709,362v4h1v-4zM709,370v2h1v-2zM710,314v2h1v-2zM710,324v1h1v-1zM710,370v2h1v-2zM711,313v3h1v-3zM711,323v1h1v-1zM711,362v8h1v-8zM712,323v1h1v-1zM712,361v8h1v-8zM713,323v1h1v-1zM713,360v6h1v-6zM714,323v1h1v-1zM714,360v6h1v-6zM715,322v1h1v-1zM715,359v10h1v-10zM716,322v1h1v-1zM716,360v1h1v-1zM716,369v1h1v-1zM717,321v2h1v-2zM717,369v1h1v-1zM718,320v1h1v-1zM718,369v1h1v-1zM719,320v1h1v-1zM719,369v1h1v-1zM720,319v1h1v-1zM720,368v1h1v-1zM721,319v1h1v-1zM721,367v1h1v-1zM722,318v1h1v-1zM722,366v1h1v-1zM723,308v1h1v-1zM723,317v1h1v-1zM723,367v1h1v-1zM724,317v1h1v-1zM724,365v1h1v-1zM725,317v1h1v-1zM725,365v1h1v-1zM726,316v2h1v-2zM726,364v1h1v-1zM727,316v2h1v-2zM727,364v1h1v-1zM728,316v2h1v-2zM728,364v1h1v-1zM729,316v3h1v-3zM729,363v1h1v-1zM730,315v2h1v-2zM730,363v1h1v-1zM731,316v2h1v-2zM731,363v1h1v-1zM732,317v2h1v-2zM732,362v1h1v-1zM733,316v2h1v-2zM733,362v1h1v-1zM734,315v2h1v-2zM734,361v1h1v-1zM735,316v2h1v-2zM735,361v2h1v-2zM735,368v3h1v-3zM736,315v2h1v-2zM736,361v1h1v-1zM737,314v2h1v-2zM737,361v1h1v-1zM737,366v5h1v-5zM738,314v2h1v-2zM738,360v1h1v-1zM738,367v2h1v-2zM739,315v2h1v-2zM739,360v10h1v-10zM740,316v3h1v-3zM740,359v10h1v-10zM741,316v3h1v-3zM741,359v2h1v-2zM741,363v5h1v-5zM742,315v3h1v-3zM742,358v10h1v-10zM743,314v3h1v-3zM743,357v1h1v-1zM744,314v3h1v-3zM744,357v1h1v-1zM744,364v1h1v-1zM745,313v3h1v-3zM745,356v4h1v-4zM745,361v5h1v-5zM746,315v2h1v-2zM746,356v1h1v-1zM747,315v1h1v-1zM747,355v1h1v-1zM748,313v2h1v-2zM748,355v1h1v-1zM749,314v1h1v-1zM749,354v2h1v-2zM749,361v3h1v-3zM750,314v2h1v-2zM750,354v1h1v-1zM750,359v5h1v-5zM751,314v2h1v-2zM751,353v2h1v-2zM751,358v6h1v-6zM752,316v4h1v-4zM752,353v11h1v-11zM753,317v4h1v-4zM753,352v1h1v-1zM753,358v4h1v-4zM754,318v4h1v-4zM754,352v2h1v-2zM754,355v7h1v-7zM755,320v5h1v-5zM755,351v2h1v-2zM755,358v2h1v-2zM756,320v5h1v-5zM756,350v2h1v-2zM757,325v3h1v-3zM757,350v11h1v-11zM758,326v4h1v-4zM758,349v3h1v-3zM758,356v4h1v-4zM759,324v4h1v-4zM759,349v12h1v-12zM759,369v2h1v-2zM760,326v3h1v-3zM760,348v7h1v-7zM760,359v3h1v-3zM760,368v4h1v-4zM761,323v2h1v-2zM761,348v2h1v-2zM761,351v3h1v-3zM761,360v2h1v-2zM761,367v2h1v-2zM761,370v3h1v-3zM762,323v3h1v-3zM762,347v2h1v-2zM762,351v3h1v-3zM762,360v2h1v-2zM762,366v1h1v-1zM762,372v2h1v-2zM763,325v3h1v-3zM763,346v2h1v-2zM763,351v3h1v-3zM763,359v3h1v-3zM763,365v2h1v-2zM763,371v2h1v-2zM764,325v3h1v-3zM764,333v1h1v-1zM764,346v1h1v-1zM764,351v3h1v-3zM764,358v3h1v-3zM764,364v2h1v-2zM764,370v2h1v-2zM765,322v4h1v-4zM765,333v2h1v-2zM765,345v1h1v-1zM765,351v3h1v-3zM765,357v3h1v-3zM765,364v1h1v-1zM765,371v2h1v-2zM766,324v3h1v-3zM766,332v3h1v-3zM766,344v2h1v-2zM766,351v3h1v-3zM766,356v3h1v-3zM766,363v2h1v-2zM766,372v2h1v-2zM767,324v4h1v-4zM767,331v3h1v-3zM767,344v1h1v-1zM767,350v8h1v-8zM767,363v1h1v-1zM767,369v3h1v-3zM768,325v3h1v-3zM768,330v4h1v-4zM768,343v1h1v-1zM768,350v7h1v-7zM768,363v1h1v-1zM768,372v1h1v-1zM769,324v3h1v-3zM769,329v5h1v-5zM769,342v2h1v-2zM769,350v7h1v-7zM769,362v1h1v-1zM769,372v1h1v-1zM770,323v4h1v-4zM770,329v5h1v-5zM770,341v2h1v-2zM770,350v6h1v-6zM770,362v1h1v-1zM770,372v1h1v-1zM771,326v2h1v-2zM771,331v3h1v-3zM771,341v1h1v-1zM771,350v5h1v-5zM771,361v2h1v-2zM771,372v3h1v-3zM772,332v2h1v-2zM772,340v1h1v-1zM772,349v5h1v-5zM772,361v1h1v-1zM772,371v1h1v-1zM773,332v1h1v-1zM773,339v2h1v-2zM773,349v4h1v-4zM773,361v1h1v-1zM773,370v1h1v-1zM774,333v2h1v-2zM774,339v1h1v-1zM774,349v3h1v-3zM774,360v1h1v-1zM774,368v1h1v-1zM775,332v2h1v-2zM775,338v1h1v-1zM775,350v1h1v-1zM775,360v1h1v-1zM775,369v1h1v-1zM776,335v3h1v-3zM776,359v2h1v-2zM776,368v1h1v-1zM777,359v1h1v-1zM777,366v1h1v-1zM778,359v1h1v-1zM778,364v2h1v-2zM779,358v1h1v-1zM779,363v2h1v-2zM780,358v5h1v-5zM781,357v9h1v-9zM782,357v8h1v-8zM783,357v8h1v-8zM784,356v8h1v-8zM785,356v7h1v-7zM786,355v8h1v-8zM787,355v7h1v-7zM788,355v6h1v-6z"/>
<path fill="#f3f4df" d="M643,321v7h1v-7zM643,344v7h1v-7zM644,319v9h1v-9zM644,344v6h1v-6zM645,322v5h1v-5zM645,343v7h1v-7zM646,319v8h1v-8zM646,342v7h1v-7zM647,319v8h1v-8zM647,342v7h1v-7zM648,319v7h1v-7zM648,341v7h1v-7zM649,318v8h1v-8zM649,340v8h1v-8zM650,317v9h1v-9zM650,340v8h1v-8zM651,318v7h1v-7zM651,339v8h1v-8zM652,316v9h1v-9zM652,338v9h1v-9zM652,362v1h1v-1zM653,315v3h1v-3zM653,323v2h1v-2zM653,338v1h1v-1zM653,345v1h1v-1zM653,361v2h1v-2zM653,365v1h1v-1zM654,316v4h1v-4zM654,322v2h1v-2zM654,337v1h1v-1zM654,345v1h1v-1zM654,360v8h1v-8zM655,316v3h1v-3zM655,322v2h1v-2zM655,336v2h1v-2zM655,359v3h1v-3zM655,364v2h1v-2zM656,316v3h1v-3zM656,322v1h1v-1zM656,336v1h1v-1zM656,344v1h1v-1zM656,358v1h1v-1zM657,313v3h1v-3zM657,321v2h1v-2zM657,335v2h1v-2zM657,357v3h1v-3zM657,363v2h1v-2zM658,313v3h1v-3zM658,321v1h1v-1zM658,335v1h1v-1zM658,343v1h1v-1zM658,356v1h1v-1zM658,363v2h1v-2zM659,315v3h1v-3zM659,320v2h1v-2zM659,334v1h1v-1zM659,355v1h1v-1zM659,357v10h1v-10zM660,316v5h1v-5zM660,333v2h1v-2zM660,342v1h1v-1zM660,355v7h1v-7zM660,365v4h1v-4zM661,316v5h1v-5zM661,333v1h1v-1zM661,354v7h1v-7zM661,365v3h1v-3zM662,313v4h1v-4zM662,319v2h1v-2zM662,332v2h1v-2zM662,341v1h1v-1zM662,352v12h1v-12zM663,313v4h1v-4zM663,318v2h1v-2zM663,332v1h1v-1zM663,351v9h1v-9zM663,362v3h1v-3zM664,313v3h1v-3zM664,317v3h1v-3zM664,331v2h1v-2zM664,340v1h1v-1zM664,351v8h1v-8zM664,361v4h1v-4zM665,315v3h1v-3zM665,330v2h1v-2zM665,350v9h1v-9zM665,360v3h1v-3zM666,314v4h1v-4zM666,330v1h1v-1zM666,339v1h1v-1zM666,349v9h1v-9zM666,361v6h1v-6zM667,312v6h1v-6zM667,329v2h1v-2zM667,349v15h1v-15zM668,313v4h1v-4zM668,329v1h1v-1zM668,338v1h1v-1zM668,348v9h1v-9zM668,361v4h1v-4zM669,313v2h1v-2zM669,328v2h1v-2zM669,347v9h1v-9zM669,359v5h1v-5zM670,327v2h1v-2zM670,337v1h1v-1zM670,347v9h1v-9zM670,360v7h1v-7zM671,327v2h1v-2zM671,346v17h1v-17zM672,312v1h1v-1zM672,326v2h1v-2zM672,336v1h1v-1zM672,345v8h1v-8zM672,363v3h1v-3zM673,325v2h1v-2zM673,345v7h1v-7zM673,364v3h1v-3zM674,324v3h1v-3zM674,335v1h1v-1zM674,344v7h1v-7zM674,361v3h1v-3zM675,323v3h1v-3zM675,344v6h1v-6zM675,362v5h1v-5zM675,368v1h1v-1zM676,323v3h1v-3zM676,334v1h1v-1zM676,343v6h1v-6zM676,365v7h1v-7zM677,323v2h1v-2zM677,342v7h1v-7zM677,365v5h1v-5zM678,323v2h1v-2zM678,333v1h1v-1zM678,342v6h1v-6zM678,364v4h1v-4zM679,323v1h1v-1zM679,341v6h1v-6zM679,363v4h1v-4zM680,323v1h1v-1zM680,332v1h1v-1zM680,341v5h1v-5zM680,364v5h1v-5zM681,323v1h1v-1zM681,340v6h1v-6zM681,363v4h1v-4zM682,322v1h1v-1zM682,331v1h1v-1zM682,339v6h1v-6zM682,363v6h1v-6zM683,322v1h1v-1zM683,339v5h1v-5zM683,362v6h1v-6zM684,322v1h1v-1zM684,330v1h1v-1zM684,338v5h1v-5zM684,361v9h1v-9zM685,321v1h1v-1zM685,338v4h1v-4zM685,369v4h1v-4zM686,329v1h1v-1zM686,337v5h1v-5zM686,365v4h1v-4zM687,321v2h1v-2zM687,337v4h1v-4zM687,361v1h1v-1zM687,363v5h1v-5zM688,320v1h1v-1zM688,328v1h1v-1zM688,336v4h1v-4zM688,367v3h1v-3zM689,320v1h1v-1zM689,335v4h1v-4zM689,364v3h1v-3zM690,319v3h1v-3zM690,327v1h1v-1zM690,335v2h1v-2zM690,359v1h1v-1zM690,361v3h1v-3zM691,320v3h1v-3zM691,326v1h1v-1zM691,334v3h1v-3zM691,361v3h1v-3zM692,318v3h1v-3zM692,326v1h1v-1zM692,334v2h1v-2zM692,362v4h1v-4zM693,319v3h1v-3zM693,325v1h1v-1zM693,333v2h1v-2zM693,362v3h1v-3zM694,318v4h1v-4zM694,324v1h1v-1zM694,332v2h1v-2zM694,360v3h1v-3zM695,317v2h1v-2zM695,332v2h1v-2zM695,356v4h1v-4zM696,317v4h1v-4zM696,323v1h1v-1zM696,331v2h1v-2zM696,356v1h1v-1zM696,358v5h1v-5zM697,318v3h1v-3zM697,331v2h1v-2zM697,360v4h1v-4zM698,315v3h1v-3zM698,323v1h1v-1zM698,330v2h1v-2zM698,361v5h1v-5zM699,315v3h1v-3zM699,322v1h1v-1zM699,330v1h1v-1zM699,362v4h1v-4zM700,315v3h1v-3zM700,321v1h1v-1zM700,329v2h1v-2zM700,363v3h1v-3zM701,318v3h1v-3zM701,328v2h1v-2zM701,364v1h1v-1zM702,317v3h1v-3zM702,328v2h1v-2zM702,363v2h1v-2zM703,318v1h1v-1zM703,327v2h1v-2zM703,361v3h1v-3zM704,315v3h1v-3zM704,319v1h1v-1zM704,327v2h1v-2zM704,361v2h1v-2zM705,314v3h1v-3zM705,318v1h1v-1zM705,326v2h1v-2zM705,362v1h1v-1zM705,370v1h1v-1zM706,316v2h1v-2zM706,326v2h1v-2zM706,362v1h1v-1zM707,316v1h1v-1zM707,325v2h1v-2zM707,361v2h1v-2zM708,316v1h1v-1zM708,325v2h1v-2zM708,362v1h1v-1zM708,368v1h1v-1zM709,325v2h1v-2zM709,361v1h1v-1zM709,366v4h1v-4zM710,325v1h1v-1zM710,361v9h1v-9zM711,324v1h1v-1zM711,360v2h1v-2zM712,324v3h1v-3zM712,360v1h1v-1zM713,324v2h1v-2zM713,359v1h1v-1zM714,324v2h1v-2zM714,358v2h1v-2zM715,323v3h1v-3zM715,358v1h1v-1zM716,323v3h1v-3zM716,358v2h1v-2zM716,361v8h1v-8zM717,323v2h1v-2zM717,358v5h1v-5zM717,367v2h1v-2zM718,321v3h1v-3zM718,357v5h1v-5zM718,367v2h1v-2zM719,321v2h1v-2zM719,358v1h1v-1zM719,368v1h1v-1zM720,320v2h1v-2zM720,356v5h1v-5zM720,366v2h1v-2zM721,320v2h1v-2zM721,355v6h1v-6zM721,365v2h1v-2zM722,319v2h1v-2zM722,356v3h1v-3zM722,365v1h1v-1zM723,318v2h1v-2zM723,355v2h1v-2zM723,365v2h1v-2zM724,318v2h1v-2zM724,355v3h1v-3zM724,364v1h1v-1zM725,318v2h1v-2zM725,354v3h1v-3zM725,364v1h1v-1zM726,318v2h1v-2zM726,354v1h1v-1zM726,363v1h1v-1zM727,318v3h1v-3zM727,353v2h1v-2zM727,363v1h1v-1zM728,318v2h1v-2zM728,352v2h1v-2zM728,362v2h1v-2zM729,319v2h1v-2zM729,352v2h1v-2zM729,362v1h1v-1zM730,317v2h1v-2zM730,351v3h1v-3zM730,362v1h1v-1zM731,318v3h1v-3zM731,351v2h1v-2zM731,362v1h1v-1zM732,319v2h1v-2zM732,350v3h1v-3zM732,360v2h1v-2zM733,318v2h1v-2zM733,350v2h1v-2zM733,361v1h1v-1zM734,317v3h1v-3zM734,349v3h1v-3zM734,360v1h1v-1zM735,318v3h1v-3zM735,349v2h1v-2zM735,360v1h1v-1zM736,317v2h1v-2zM736,348v3h1v-3zM736,360v1h1v-1zM737,316v2h1v-2zM737,348v2h1v-2zM737,359v2h1v-2zM738,316v2h1v-2zM738,347v3h1v-3zM738,359v1h1v-1zM739,317v3h1v-3zM739,346v3h1v-3zM739,358v2h1v-2zM740,319v1h1v-1zM740,346v3h1v-3zM740,358v1h1v-1zM741,319v1h1v-1zM741,345v3h1v-3zM741,357v2h1v-2zM742,318v1h1v-1zM742,345v3h1v-3zM742,357v1h1v-1zM743,317v1h1v-1zM743,344v3h1v-3zM743,356v1h1v-1zM744,317v1h1v-1zM744,344v3h1v-3zM744,356v1h1v-1zM745,316v1h1v-1zM745,343v3h1v-3zM745,355v1h1v-1zM746,317v2h1v-2zM746,343v3h1v-3zM746,354v2h1v-2zM747,316v3h1v-3zM747,342v3h1v-3zM747,354v1h1v-1zM748,315v2h1v-2zM748,341v4h1v-4zM748,353v2h1v-2zM749,315v4h1v-4zM749,341v3h1v-3zM749,353v1h1v-1zM750,316v3h1v-3zM750,340v4h1v-4zM750,352v2h1v-2zM751,316v3h1v-3zM751,340v3h1v-3zM751,352v1h1v-1zM752,320v3h1v-3zM752,339v4h1v-4zM752,351v2h1v-2zM753,321v3h1v-3zM753,339v3h1v-3zM753,351v1h1v-1zM754,322v4h1v-4zM754,338v4h1v-4zM754,350v2h1v-2zM755,325v2h1v-2zM755,338v3h1v-3zM755,350v1h1v-1zM756,325v2h1v-2zM756,337v4h1v-4zM756,349v1h1v-1zM757,328v3h1v-3zM757,337v3h1v-3zM757,349v1h1v-1zM758,330v3h1v-3zM758,335v5h1v-5zM758,348v1h1v-1zM759,328v3h1v-3zM759,335v4h1v-4zM759,347v2h1v-2zM760,329v3h1v-3zM760,334v5h1v-5zM760,347v1h1v-1zM760,355v4h1v-4zM761,325v4h1v-4zM761,334v4h1v-4zM761,346v2h1v-2zM761,354v6h1v-6zM761,369v1h1v-1zM762,326v3h1v-3zM762,334v4h1v-4zM762,346v1h1v-1zM762,354v6h1v-6zM762,367v5h1v-5zM763,328v3h1v-3zM763,332v6h1v-6zM763,345v1h1v-1zM763,354v5h1v-5zM763,367v4h1v-4zM764,328v5h1v-5zM764,334v4h1v-4zM764,344v2h1v-2zM764,354v4h1v-4zM764,366v4h1v-4zM765,326v3h1v-3zM765,331v2h1v-2zM765,335v2h1v-2zM765,344v1h1v-1zM765,354v3h1v-3zM765,365v1h1v-1zM765,368v3h1v-3zM766,327v5h1v-5zM766,335v2h1v-2zM766,343v1h1v-1zM766,354v2h1v-2zM766,365v1h1v-1zM766,369v3h1v-3zM767,328v3h1v-3zM767,334v3h1v-3zM767,342v2h1v-2zM767,364v5h1v-5zM768,328v2h1v-2zM768,334v3h1v-3zM768,341v2h1v-2zM768,364v1h1v-1zM768,370v2h1v-2zM769,327v2h1v-2zM769,334v2h1v-2zM769,341v1h1v-1zM769,363v1h1v-1zM769,369v3h1v-3zM770,327v2h1v-2zM770,334v2h1v-2zM770,340v1h1v-1zM770,363v1h1v-1zM770,370v2h1v-2zM771,334v7h1v-7zM771,363v9h1v-9zM772,334v6h1v-6zM772,362v9h1v-9zM773,333v6h1v-6zM773,362v8h1v-8zM774,335v4h1v-4zM774,361v7h1v-7zM775,334v4h1v-4zM775,361v8h1v-8zM776,361v7h1v-7zM777,360v6h1v-6zM778,360v4h1v-4zM779,359v4h1v-4z"/>
<path fill="#f5f4db" d="M653,318v5h1v-5zM653,339v6h1v-6zM654,320v2h1v-2zM654,338v7h1v-7zM655,319v3h1v-3zM655,338v7h1v-7zM656,319v3h1v-3zM656,337v7h1v-7zM657,316v5h1v-5zM657,337v7h1v-7zM658,316v5h1v-5zM658,336v7h1v-7zM659,318v2h1v-2zM659,335v8h1v-8zM660,335v7h1v-7zM660,362v3h1v-3zM661,334v8h1v-8zM661,361v4h1v-4zM662,317v2h1v-2zM662,334v7h1v-7zM663,317v1h1v-1zM663,333v8h1v-8zM663,360v2h1v-2zM664,316v1h1v-1zM664,333v7h1v-7zM664,359v2h1v-2zM665,332v8h1v-8zM665,359v1h1v-1zM666,331v8h1v-8zM666,358v3h1v-3zM667,331v8h1v-8zM668,330v8h1v-8zM668,357v4h1v-4zM669,330v8h1v-8zM669,356v3h1v-3zM670,329v8h1v-8zM670,356v4h1v-4zM671,329v8h1v-8zM672,328v8h1v-8zM672,353v10h1v-10zM673,327v9h1v-9zM673,352v12h1v-12zM674,327v8h1v-8zM674,351v10h1v-10zM675,326v1h1v-1zM675,334v1h1v-1zM675,350v4h1v-4zM675,358v4h1v-4zM676,326v1h1v-1zM676,333v1h1v-1zM676,349v5h1v-5zM676,358v7h1v-7zM677,325v1h1v-1zM677,333v1h1v-1zM677,349v4h1v-4zM677,356v9h1v-9zM678,325v1h1v-1zM678,332v1h1v-1zM678,348v5h1v-5zM678,355v9h1v-9zM679,324v1h1v-1zM679,332v1h1v-1zM679,347v5h1v-5zM679,358v5h1v-5zM680,324v2h1v-2zM680,331v1h1v-1zM680,346v5h1v-5zM680,360v4h1v-4zM681,324v4h1v-4zM681,331v1h1v-1zM681,346v5h1v-5zM681,359v4h1v-4zM682,323v3h1v-3zM682,330v1h1v-1zM682,345v5h1v-5zM682,361v2h1v-2zM683,323v4h1v-4zM683,330v1h1v-1zM683,344v6h1v-6zM683,360v2h1v-2zM684,323v3h1v-3zM684,329v1h1v-1zM684,343v6h1v-6zM684,358v3h1v-3zM685,322v3h1v-3zM685,329v1h1v-1zM685,342v7h1v-7zM685,361v8h1v-8zM686,321v3h1v-3zM686,328v1h1v-1zM686,342v6h1v-6zM686,357v8h1v-8zM687,323v3h1v-3zM687,328v1h1v-1zM687,341v6h1v-6zM687,357v4h1v-4zM687,362v1h1v-1zM688,321v3h1v-3zM688,327v1h1v-1zM688,340v7h1v-7zM688,359v8h1v-8zM689,321v4h1v-4zM689,327v1h1v-1zM689,339v7h1v-7zM689,357v7h1v-7zM690,322v5h1v-5zM690,337v9h1v-9zM690,354v5h1v-5zM690,360v1h1v-1zM691,323v3h1v-3zM691,337v8h1v-8zM691,357v4h1v-4zM692,321v3h1v-3zM692,325v1h1v-1zM692,336v8h1v-8zM692,357v5h1v-5zM693,322v3h1v-3zM693,335v9h1v-9zM693,356v6h1v-6zM694,322v2h1v-2zM694,334v9h1v-9zM694,356v4h1v-4zM695,319v3h1v-3zM695,324v1h1v-1zM695,334v9h1v-9zM695,354v2h1v-2zM696,321v2h1v-2zM696,333v9h1v-9zM696,354v2h1v-2zM696,357v1h1v-1zM697,321v2h1v-2zM697,333v8h1v-8zM697,354v6h1v-6zM698,318v5h1v-5zM698,332v8h1v-8zM698,354v7h1v-7zM699,318v4h1v-4zM699,331v8h1v-8zM699,354v8h1v-8zM700,318v3h1v-3zM700,331v7h1v-7zM700,353v2h1v-2zM700,356v7h1v-7zM701,330v8h1v-8zM701,359v5h1v-5zM702,330v7h1v-7zM702,358v5h1v-5zM703,329v8h1v-8zM703,356v5h1v-5zM704,318v1h1v-1zM704,329v7h1v-7zM704,356v5h1v-5zM705,317v1h1v-1zM705,328v8h1v-8zM705,358v4h1v-4zM706,328v8h1v-8zM706,357v5h1v-5zM707,327v9h1v-9zM707,355v6h1v-6zM708,327v8h1v-8zM708,361v1h1v-1zM709,327v8h1v-8zM709,360v1h1v-1zM710,326v8h1v-8zM710,360v1h1v-1zM711,325v9h1v-9zM711,359v1h1v-1zM712,327v7h1v-7zM712,359v1h1v-1zM713,326v7h1v-7zM713,357v2h1v-2zM714,326v7h1v-7zM714,357v1h1v-1zM715,326v6h1v-6zM715,357v1h1v-1zM716,326v6h1v-6zM716,357v1h1v-1zM717,325v6h1v-6zM717,356v2h1v-2zM717,363v4h1v-4zM718,324v7h1v-7zM718,356v1h1v-1zM718,362v5h1v-5zM719,323v7h1v-7zM719,356v2h1v-2zM719,359v4h1v-4zM719,365v3h1v-3zM720,322v8h1v-8zM720,355v1h1v-1zM720,361v5h1v-5zM721,322v7h1v-7zM721,354v1h1v-1zM721,361v4h1v-4zM722,321v8h1v-8zM722,354v2h1v-2zM722,359v6h1v-6zM723,320v8h1v-8zM723,354v1h1v-1zM723,357v3h1v-3zM723,363v2h1v-2zM724,320v8h1v-8zM724,353v2h1v-2zM724,358v6h1v-6zM725,320v7h1v-7zM725,352v2h1v-2zM725,357v7h1v-7zM726,320v7h1v-7zM726,352v2h1v-2zM726,355v3h1v-3zM726,361v2h1v-2zM727,321v5h1v-5zM727,351v2h1v-2zM727,355v3h1v-3zM727,360v3h1v-3zM728,320v6h1v-6zM728,351v1h1v-1zM728,354v3h1v-3zM728,360v2h1v-2zM729,321v4h1v-4zM729,350v2h1v-2zM729,354v8h1v-8zM730,319v6h1v-6zM730,350v1h1v-1zM730,354v2h1v-2zM730,361v1h1v-1zM731,321v3h1v-3zM731,349v2h1v-2zM731,353v3h1v-3zM731,361v1h1v-1zM732,321v3h1v-3zM732,349v1h1v-1zM732,353v2h1v-2zM732,357v3h1v-3zM733,320v3h1v-3zM733,348v2h1v-2zM733,352v3h1v-3zM733,359v2h1v-2zM734,320v3h1v-3zM734,348v1h1v-1zM734,352v2h1v-2zM734,358v2h1v-2zM735,321v1h1v-1zM735,347v2h1v-2zM735,351v3h1v-3zM735,359v1h1v-1zM736,319v3h1v-3zM736,347v1h1v-1zM736,351v2h1v-2zM736,358v2h1v-2zM737,318v3h1v-3zM737,346v2h1v-2zM737,350v3h1v-3zM737,358v1h1v-1zM738,318v2h1v-2zM738,345v2h1v-2zM738,350v2h1v-2zM738,357v2h1v-2zM739,320v1h1v-1zM739,345v1h1v-1zM739,349v3h1v-3zM739,357v1h1v-1zM740,320v3h1v-3zM740,344v2h1v-2zM740,349v2h1v-2zM740,356v2h1v-2zM741,320v3h1v-3zM741,344v1h1v-1zM741,348v3h1v-3zM741,356v1h1v-1zM742,319v3h1v-3zM742,331v1h1v-1zM742,343v2h1v-2zM742,348v2h1v-2zM742,355v2h1v-2zM743,318v3h1v-3zM743,331v1h1v-1zM743,343v1h1v-1zM743,347v3h1v-3zM743,355v1h1v-1zM744,318v3h1v-3zM744,330v1h1v-1zM744,342v2h1v-2zM744,347v2h1v-2zM744,354v2h1v-2zM745,317v3h1v-3zM745,330v1h1v-1zM745,342v1h1v-1zM745,346v3h1v-3zM745,354v1h1v-1zM746,319v3h1v-3zM746,329v1h1v-1zM746,341v2h1v-2zM746,346v2h1v-2zM746,353v1h1v-1zM747,319v3h1v-3zM747,328v2h1v-2zM747,341v1h1v-1zM747,345v3h1v-3zM747,353v1h1v-1zM748,317v3h1v-3zM748,328v1h1v-1zM748,340v1h1v-1zM748,345v2h1v-2zM748,352v1h1v-1zM749,319v3h1v-3zM749,327v2h1v-2zM749,340v1h1v-1zM749,344v3h1v-3zM749,351v2h1v-2zM750,319v3h1v-3zM750,327v1h1v-1zM750,339v1h1v-1zM750,344v2h1v-2zM750,351v1h1v-1zM751,319v3h1v-3zM751,326v2h1v-2zM751,338v2h1v-2zM751,343v3h1v-3zM751,350v2h1v-2zM752,323v4h1v-4zM752,338v1h1v-1zM752,343v2h1v-2zM752,350v1h1v-1zM753,324v4h1v-4zM753,337v2h1v-2zM753,342v3h1v-3zM753,349v2h1v-2zM754,326v2h1v-2zM754,337v1h1v-1zM754,342v2h1v-2zM754,349v1h1v-1zM755,327v3h1v-3zM755,336v2h1v-2zM755,341v3h1v-3zM755,348v2h1v-2zM756,327v3h1v-3zM756,336v1h1v-1zM756,341v2h1v-2zM756,348v1h1v-1zM757,331v6h1v-6zM757,340v3h1v-3zM757,347v2h1v-2zM758,333v2h1v-2zM758,340v2h1v-2zM758,347v1h1v-1zM759,331v4h1v-4zM759,339v3h1v-3zM759,346v1h1v-1zM760,332v2h1v-2zM760,339v2h1v-2zM760,346v1h1v-1zM761,329v3h1v-3zM761,333v1h1v-1zM761,338v3h1v-3zM761,345v1h1v-1zM762,329v5h1v-5zM762,338v3h1v-3zM762,344v2h1v-2zM763,331v1h1v-1zM763,338v7h1v-7zM764,338v6h1v-6zM765,329v2h1v-2zM765,337v7h1v-7zM765,366v2h1v-2zM766,337v6h1v-6zM766,366v3h1v-3zM767,337v5h1v-5zM768,337v4h1v-4zM768,365v5h1v-5zM769,336v5h1v-5zM769,364v5h1v-5zM770,336v4h1v-4zM770,364v6h1v-6z"/>
<path fill="#f7f3d8" d="M675,327v7h1v-7zM675,354v4h1v-4zM676,327v6h1v-6zM676,354v4h1v-4zM677,326v7h1v-7zM677,353v3h1v-3zM678,326v6h1v-6zM678,353v2h1v-2zM679,325v7h1v-7zM679,352v6h1v-6zM680,326v5h1v-5zM680,351v9h1v-9zM681,328v3h1v-3zM681,351v8h1v-8zM682,326v4h1v-4zM682,350v11h1v-11zM683,327v3h1v-3zM683,350v10h1v-10zM684,326v3h1v-3zM684,349v9h1v-9zM685,325v4h1v-4zM685,349v12h1v-12zM686,324v4h1v-4zM686,348v9h1v-9zM687,326v2h1v-2zM687,347v10h1v-10zM688,324v3h1v-3zM688,347v12h1v-12zM689,325v2h1v-2zM689,346v11h1v-11zM690,346v8h1v-8zM691,345v12h1v-12zM692,324v1h1v-1zM692,344v13h1v-13zM693,344v12h1v-12zM694,343v13h1v-13zM695,322v2h1v-2zM695,343v11h1v-11zM696,342v12h1v-12zM697,341v13h1v-13zM698,340v14h1v-14zM699,339v15h1v-15zM700,338v15h1v-15zM700,355v1h1v-1zM701,338v21h1v-21zM702,337v21h1v-21zM703,337v19h1v-19zM704,336v20h1v-20zM705,336v22h1v-22zM706,336v21h1v-21zM707,336v19h1v-19zM708,335v26h1v-26zM709,335v25h1v-25zM710,334v26h1v-26zM711,334v25h1v-25zM712,334v25h1v-25zM713,333v24h1v-24zM714,333v24h1v-24zM715,332v25h1v-25zM716,332v25h1v-25zM717,331v25h1v-25zM718,331v25h1v-25zM719,330v26h1v-26zM719,363v2h1v-2zM720,330v25h1v-25zM721,329v25h1v-25zM722,329v25h1v-25zM723,328v26h1v-26zM723,360v3h1v-3zM724,328v25h1v-25zM725,327v25h1v-25zM726,327v25h1v-25zM726,358v3h1v-3zM727,326v25h1v-25zM727,358v2h1v-2zM728,326v25h1v-25zM728,357v3h1v-3zM729,325v25h1v-25zM730,325v25h1v-25zM730,356v5h1v-5zM731,324v25h1v-25zM731,356v5h1v-5zM732,324v25h1v-25zM732,355v2h1v-2zM733,323v25h1v-25zM733,355v4h1v-4zM734,323v25h1v-25zM734,354v4h1v-4zM735,322v25h1v-25zM735,354v5h1v-5zM736,322v25h1v-25zM736,353v5h1v-5zM737,321v25h1v-25zM737,353v5h1v-5zM738,320v25h1v-25zM738,352v5h1v-5zM739,321v24h1v-24zM739,352v5h1v-5zM740,323v21h1v-21zM740,351v5h1v-5zM741,323v21h1v-21zM741,351v5h1v-5zM742,322v9h1v-9zM742,332v11h1v-11zM742,350v5h1v-5zM743,321v10h1v-10zM743,332v11h1v-11zM743,350v5h1v-5zM744,321v9h1v-9zM744,331v11h1v-11zM744,349v5h1v-5zM745,320v10h1v-10zM745,331v11h1v-11zM745,349v5h1v-5zM746,322v7h1v-7zM746,330v11h1v-11zM746,348v5h1v-5zM747,322v6h1v-6zM747,330v11h1v-11zM747,348v5h1v-5zM748,320v8h1v-8zM748,329v11h1v-11zM748,347v5h1v-5zM749,322v5h1v-5zM749,329v11h1v-11zM749,347v4h1v-4zM750,322v5h1v-5zM750,328v11h1v-11zM750,346v5h1v-5zM751,322v4h1v-4zM751,328v10h1v-10zM751,346v4h1v-4zM752,327v11h1v-11zM752,345v5h1v-5zM753,328v9h1v-9zM753,345v4h1v-4zM754,328v9h1v-9zM754,344v5h1v-5zM755,330v6h1v-6zM755,344v4h1v-4zM756,330v6h1v-6zM756,343v5h1v-5zM757,343v4h1v-4zM758,342v5h1v-5zM759,342v4h1v-4zM760,341v5h1v-5zM761,332v1h1v-1zM761,341v4h1v-4zM762,341v3h1v-3z"/>
</g>
<g fill="none" stroke="#fbfbbe" stroke-width="1">
<path d="M510.8,465.6L779.1,512.7L933.6,431.4"/>
<path d="M510.5,300.5V465.6"/>
<path d="M510.5,300.5h7.5"/>
<path d="M510.5,328.5h7.5"/>
<path d="M510.5,355.5h7.5"/>
<path d="M510.5,383.5h7.5"/>
<path d="M510.5,411.5h7.5"/>
<path d="M510.5,438.5h7.5"/>
<path d="M510.5,465.5h7.5"/>
<path d="M779.1,512.7l-6.5,-1.2"/>
<path d="M801.2,501.1l-6.5,-1.2"/>
<path d="M823.2,489.5l-6.5,-1.2"/>
<path d="M845.3,477.9l-6.5,-1.2"/>
<path d="M867.4,466.2l-6.5,-1.2"/>
<path d="M889.5,454.6l-6.5,-1.2"/>
<path d="M911.5,443.0l-6.5,-1.2"/>
<path d="M933.6,431.4l-6.5,-1.2"/>
<path d="M510.8,465.6l4,-2.1"/>
<path d="M577.9,477.4l4,-2.1"/>
<path d="M645.0,489.2l4,-2.1"/>
<path d="M712.0,500.9l4,-2.1"/>
<path d="M779.1,512.7l4,-2.1"/>
</g>
<text x="497" y="305.0" fill="#fbfbbe" text-anchor="end" font-size="16">0</text>
<text x="497" y="332.5" fill="#fbfbbe" text-anchor="end" font-size="16">-20</text>
<text x="497" y="360.0" fill="#fbfbbe" text-anchor="end" font-size="16">-40</text>
<text x="497" y="387.5" fill="#fbfbbe" text-anchor="end" font-size="16">-60</text>
<text x="497" y="415.0" fill="#fbfbbe" text-anchor="end" font-size="16">-80</text>
<text x="497" y="442.5" fill="#fbfbbe" text-anchor="end" font-size="16">-100</text>
<text x="497" y="470.0" fill="#fbfbbe" text-anchor="end" font-size="16">-120</text>
<text x="437.6" y="382" fill="#fbfbbe" text-anchor="middle" font-size="16" transform="rotate(-90 437.6 382)">PSD (dBm)</text>
<text x="504.3" y="475.1" fill="#fbfbbe" text-anchor="middle" font-size="16">19:36:40</text>
<text x="571.4" y="486.9" fill="#fbfbbe" text-anchor="middle" font-size="16">19:37:00</text>
<text x="638.5" y="498.7" fill="#fbfbbe" text-anchor="middle" font-size="16">19:37:20</text>
<text x="705.5" y="510.4" fill="#fbfbbe" text-anchor="middle" font-size="16">19:37:40</text>
<text x="772.6" y="522.2" fill="#fbfbbe" text-anchor="middle" font-size="16">19:38:00</text>
<text x="815.5" y="519.6" fill="#fbfbbe" text-anchor="middle" font-size="16">1210</text>
<text x="837.6" y="508.0" fill="#fbfbbe" text-anchor="middle" font-size="16">1215</text>
<text x="859.6" y="496.4" fill="#fbfbbe" text-anchor="middle" font-size="16">1220</text>
<text x="881.7" y="484.8" fill="#fbfbbe" text-anchor="middle" font-size="16">1225</text>
<text x="903.8" y="473.1" fill="#fbfbbe" text-anchor="middle" font-size="16">1230</text>
<text x="925.9" y="461.5" fill="#fbfbbe" text-anchor="middle" font-size="16">1235</text>
<text x="947.9" y="449.9" fill="#fbfbbe" text-anchor="middle" font-size="16">1240</text>
<text x="970.0" y="438.3" fill="#fbfbbe" text-anchor="middle" font-size="16">1245</text>
<text x="598.5" y="517.5" fill="#fbfbbe" text-anchor="middle" font-size="16" transform="rotate(10 598.5 517.5)">Time (UTC)</text>
<text x="933.4" y="488.3" fill="#fbfbbe" text-anchor="middle" font-size="16" transform="rotate(-28 933.4 488.3)">Frequency (MHz)</text>
<path d="M647.5,478.3V314L782.3,241.5V406.5Z" fill="none" stroke="#ff0000" stroke-width="1"/>
<text x="539" y="606" fill="#fbfbbe" text-anchor="middle" font-size="16">Max Rx Power</text>
<text x="538" y="759.5" fill="#fbfbbe" text-anchor="middle" font-size="16">Time (UTC)</text>
<text x="19.5" y="670" fill="#fbfbbe" text-anchor="middle" font-size="16" transform="rotate(-90 19.5 670)">Power (dBm)</text>
<text x="77.2" y="664" fill="#fbfbbe" text-anchor="end" font-size="16">-100</text>
<text x="77.2" y="718" fill="#fbfbbe" text-anchor="end" font-size="16">-120</text>
<text x="88.0" y="734.7" fill="#fbfbbe" text-anchor="middle" font-size="16">19:36:40</text>
<text x="313.5" y="734.7" fill="#fbfbbe" text-anchor="middle" font-size="16">19:37:00</text>
<text x="539.0" y="734.7" fill="#fbfbbe" text-anchor="middle" font-size="16">19:37:20</text>
<text x="764.5" y="734.7" fill="#fbfbbe" text-anchor="middle" font-size="16">19:37:40</text>
<text x="990.0" y="734.7" fill="#fbfbbe" text-anchor="middle" font-size="16">19:38:00</text>
<g shape-rendering="crispEdges" fill="none">
<path stroke="#b8b8b8" stroke-width="1" stroke-dasharray="2 2" d="M98,659.5H982M314.5,636V705M539.5,636V705M765.5,636V705"/>
<path stroke="#fbfbbe" stroke-width="1" d="M88.5,626.5H990.5V713.5H88.5ZM88.5,659.5h8M990.5,659.5h-8M314.5,626.5v7.4M314.5,713.5v-7.4M539.5,626.5v7.4M539.5,713.5v-7.4M765.5,626.5v7.4M765.5,713.5v-7.4"/>
</g>
<defs><clipPath id="bpclip"><rect x="88" y="626" width="903" height="87.5"/></clipPath></defs>
<g clip-path="url(#bpclip)" fill="none" stroke="#ffff00" stroke-width="1.1" stroke-linejoin="round">
<path d="M133.4,690.7L145,683.5L156.2,677.2L167.5,675L178.7,674.1L190,675.2L201.2,677.8L212.5,682.3L223.8,688.6"/>
<path d="M268.3,685.6L280.4,679.1L291,676.4L302.6,676.4L314.4,677.5L336.5,682.5L360,676.1L381.3,668.25L392.6,680.5L415.3,667.5L426.9,667.5L438.6,668.4L460.2,676.25L471.4,682.4L483.4,682.4L494.4,654L505.6,668.5L516.6,664.4L528.4,680.5L539.5,667.5L550.9,676.5L562.4,694.6L595.7,672.1L607.3,668.25L618.4,748L629.6,675.25L640.4,681.25L652.25,683.4L663.4,653.4L674.8,677.4L686.25,676.4L697.5,676.4L708.75,677.4L719.8,679.25L731.5,686.5"/>
</g>
<rect x="776" y="690" width="1" height="1" fill="#ffff00"/>
<path d="M494.5,627V713" stroke="#ff0000" stroke-width="1" shape-rendering="crispEdges"/>
</svg>
</body></html>
